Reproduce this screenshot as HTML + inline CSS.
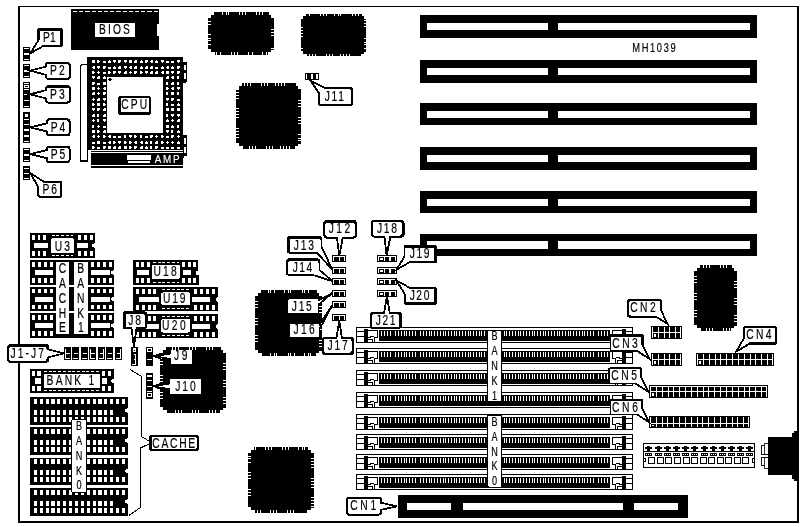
<!DOCTYPE html>
<html lang="en">
<head>
<meta charset="utf-8">
<title>MH1039 motherboard layout</title>
<style>
html,body{margin:0;padding:0;background:#fff;}
body{width:804px;height:527px;overflow:hidden;}
svg{display:block;font-family:"Liberation Sans",sans-serif;filter:grayscale(1);}
</style>
</head>
<body>
<svg width="804" height="527" viewBox="0 0 804 527" shape-rendering="crispEdges">
<rect x="0" y="0" width="804" height="527" fill="#fff"/>
<rect x="18.00" y="6.00" width="781.00" height="516.60" fill="#000" />
<rect x="20.00" y="7.20" width="777.00" height="513.40" fill="#fff" />
<rect x="71.00" y="9.00" width="88.00" height="41.00" fill="#000" />
<line x1="73.00" y1="11.50" x2="157.50" y2="11.50" stroke="#fff" stroke-width="1" stroke-dasharray="4.1 2.1"/>
<rect x="157.00" y="23.50" width="2.20" height="12.80" fill="#fff" />
<rect x="95.00" y="22.80" width="40.00" height="14.20" fill="#fff" />
<text transform="translate(99.06,33.70) scale(0.74,1)" font-size="13.9" fill="#000" stroke="#000" stroke-width="0.18" letter-spacing="2.81" >BIOS</text>
<polygon points="80.3,66.5 82.5,64.2 87.5,64.2 87.5,161 80.3,161" fill="#fff" stroke="#000" stroke-width="1.1"/>
<rect x="87.20" y="56.80" width="96.00" height="93.20" fill="#000" />
<path d="M183,61.5 h2.6 q1.6,0 1.6,2 v17 q0,2 -1.6,2 h-2.6 z" fill="#000"/>
<path d="M183,135 h2.6 q1.6,0 1.6,2 v17 q0,2 -1.6,2 h-2.6 z" fill="#000"/>
<rect x="184.30" y="64.50" width="1.20" height="5.50" fill="#fff" />
<rect x="184.30" y="73.00" width="1.20" height="6.00" fill="#fff" />
<rect x="184.30" y="138.00" width="1.20" height="6.00" fill="#fff" />
<rect x="184.30" y="147.00" width="1.20" height="6.00" fill="#fff" />
<rect x="92.00" y="60.00" width="3.00" height="3.00" fill="#fff" />
<rect x="97.00" y="60.00" width="2.00" height="3.00" fill="#fff" />
<rect x="99.00" y="61.00" width="1.00" height="1.00" fill="#fff" />
<rect x="103.00" y="61.00" width="3.00" height="2.00" fill="#fff" />
<rect x="109.00" y="60.00" width="1.00" height="1.00" fill="#fff" />
<rect x="108.00" y="61.00" width="3.00" height="2.00" fill="#fff" />
<rect x="113.00" y="60.00" width="3.00" height="2.00" fill="#fff" />
<rect x="114.00" y="62.00" width="1.00" height="1.00" fill="#fff" />
<rect x="118.00" y="60.00" width="3.00" height="2.00" fill="#fff" />
<rect x="118.00" y="62.00" width="2.00" height="1.00" fill="#fff" />
<rect x="124.00" y="60.00" width="3.00" height="2.00" fill="#fff" />
<rect x="125.00" y="62.00" width="1.00" height="1.00" fill="#fff" />
<rect x="129.00" y="60.00" width="3.00" height="3.00" fill="#fff" />
<rect x="135.00" y="60.00" width="2.00" height="1.00" fill="#fff" />
<rect x="134.00" y="61.00" width="3.00" height="2.00" fill="#fff" />
<rect x="141.00" y="60.00" width="1.00" height="1.00" fill="#fff" />
<rect x="140.00" y="61.00" width="3.00" height="2.00" fill="#fff" />
<rect x="145.00" y="60.00" width="3.00" height="2.00" fill="#fff" />
<rect x="145.00" y="62.00" width="2.00" height="1.00" fill="#fff" />
<rect x="151.00" y="60.00" width="2.00" height="3.00" fill="#fff" />
<rect x="150.00" y="61.00" width="1.00" height="1.00" fill="#fff" />
<rect x="156.00" y="60.00" width="1.00" height="1.00" fill="#fff" />
<rect x="155.00" y="61.00" width="3.00" height="2.00" fill="#fff" />
<rect x="161.00" y="60.00" width="3.00" height="2.00" fill="#fff" />
<rect x="162.00" y="62.00" width="1.00" height="1.00" fill="#fff" />
<rect x="166.00" y="61.00" width="3.00" height="2.00" fill="#fff" />
<rect x="171.00" y="61.00" width="3.00" height="2.00" fill="#fff" />
<rect x="177.00" y="60.00" width="3.00" height="2.00" fill="#fff" />
<rect x="178.00" y="62.00" width="1.00" height="1.00" fill="#fff" />
<rect x="93.00" y="66.00" width="2.00" height="3.00" fill="#fff" />
<rect x="92.00" y="67.00" width="1.00" height="1.00" fill="#fff" />
<rect x="97.00" y="66.00" width="3.00" height="2.00" fill="#fff" />
<rect x="98.00" y="68.00" width="1.00" height="1.00" fill="#fff" />
<rect x="103.00" y="66.00" width="3.00" height="2.00" fill="#fff" />
<rect x="103.00" y="68.00" width="2.00" height="1.00" fill="#fff" />
<rect x="108.00" y="67.00" width="3.00" height="2.00" fill="#fff" />
<rect x="114.00" y="66.00" width="1.00" height="1.00" fill="#fff" />
<rect x="113.00" y="67.00" width="3.00" height="2.00" fill="#fff" />
<rect x="119.00" y="66.00" width="2.00" height="1.00" fill="#fff" />
<rect x="118.00" y="67.00" width="3.00" height="2.00" fill="#fff" />
<rect x="124.00" y="66.00" width="3.00" height="2.00" fill="#fff" />
<rect x="125.00" y="68.00" width="1.00" height="1.00" fill="#fff" />
<rect x="130.00" y="66.00" width="2.00" height="3.00" fill="#fff" />
<rect x="129.00" y="67.00" width="1.00" height="1.00" fill="#fff" />
<rect x="135.00" y="66.00" width="2.00" height="1.00" fill="#fff" />
<rect x="134.00" y="67.00" width="3.00" height="2.00" fill="#fff" />
<rect x="141.00" y="66.00" width="1.00" height="1.00" fill="#fff" />
<rect x="140.00" y="67.00" width="3.00" height="2.00" fill="#fff" />
<rect x="146.00" y="66.00" width="2.00" height="1.00" fill="#fff" />
<rect x="145.00" y="67.00" width="3.00" height="2.00" fill="#fff" />
<rect x="151.00" y="66.00" width="2.00" height="1.00" fill="#fff" />
<rect x="150.00" y="67.00" width="3.00" height="2.00" fill="#fff" />
<rect x="155.00" y="67.00" width="3.00" height="2.00" fill="#fff" />
<rect x="162.00" y="66.00" width="1.00" height="1.00" fill="#fff" />
<rect x="161.00" y="67.00" width="3.00" height="2.00" fill="#fff" />
<rect x="167.00" y="66.00" width="2.00" height="3.00" fill="#fff" />
<rect x="166.00" y="67.00" width="1.00" height="1.00" fill="#fff" />
<rect x="172.00" y="66.00" width="1.00" height="1.00" fill="#fff" />
<rect x="171.00" y="67.00" width="3.00" height="2.00" fill="#fff" />
<rect x="177.00" y="66.00" width="3.00" height="2.00" fill="#fff" />
<rect x="177.00" y="68.00" width="2.00" height="1.00" fill="#fff" />
<rect x="92.00" y="71.00" width="2.00" height="3.00" fill="#fff" />
<rect x="94.00" y="72.00" width="1.00" height="1.00" fill="#fff" />
<rect x="98.00" y="71.00" width="1.00" height="3.00" fill="#fff" />
<rect x="97.00" y="72.00" width="3.00" height="1.00" fill="#fff" />
<rect x="103.00" y="72.00" width="3.00" height="2.00" fill="#fff" />
<rect x="108.00" y="71.00" width="2.00" height="3.00" fill="#fff" />
<rect x="110.00" y="72.00" width="1.00" height="1.00" fill="#fff" />
<rect x="113.00" y="71.00" width="3.00" height="2.00" fill="#fff" />
<rect x="113.00" y="73.00" width="2.00" height="1.00" fill="#fff" />
<rect x="118.00" y="71.00" width="3.00" height="2.00" fill="#fff" />
<rect x="119.00" y="73.00" width="1.00" height="1.00" fill="#fff" />
<rect x="125.00" y="71.00" width="2.00" height="1.00" fill="#fff" />
<rect x="124.00" y="72.00" width="3.00" height="2.00" fill="#fff" />
<rect x="130.00" y="71.00" width="1.00" height="3.00" fill="#fff" />
<rect x="129.00" y="72.00" width="3.00" height="1.00" fill="#fff" />
<rect x="134.00" y="71.00" width="3.00" height="2.00" fill="#fff" />
<rect x="134.00" y="73.00" width="2.00" height="1.00" fill="#fff" />
<rect x="140.00" y="71.00" width="2.00" height="3.00" fill="#fff" />
<rect x="142.00" y="72.00" width="1.00" height="1.00" fill="#fff" />
<rect x="145.00" y="71.00" width="3.00" height="2.00" fill="#fff" />
<rect x="146.00" y="73.00" width="1.00" height="1.00" fill="#fff" />
<rect x="151.00" y="71.00" width="2.00" height="1.00" fill="#fff" />
<rect x="150.00" y="72.00" width="3.00" height="2.00" fill="#fff" />
<rect x="156.00" y="71.00" width="2.00" height="1.00" fill="#fff" />
<rect x="155.00" y="72.00" width="3.00" height="2.00" fill="#fff" />
<rect x="162.00" y="71.00" width="2.00" height="3.00" fill="#fff" />
<rect x="161.00" y="72.00" width="1.00" height="1.00" fill="#fff" />
<rect x="166.00" y="71.00" width="3.00" height="3.00" fill="#fff" />
<rect x="171.00" y="71.00" width="3.00" height="2.00" fill="#fff" />
<rect x="172.00" y="73.00" width="1.00" height="1.00" fill="#fff" />
<rect x="177.00" y="71.00" width="3.00" height="2.00" fill="#fff" />
<rect x="177.00" y="73.00" width="2.00" height="1.00" fill="#fff" />
<rect x="92.00" y="76.00" width="3.00" height="2.00" fill="#fff" />
<rect x="93.00" y="78.00" width="1.00" height="1.00" fill="#fff" />
<rect x="98.00" y="76.00" width="2.00" height="1.00" fill="#fff" />
<rect x="97.00" y="77.00" width="3.00" height="2.00" fill="#fff" />
<rect x="104.00" y="76.00" width="1.00" height="1.00" fill="#fff" />
<rect x="103.00" y="77.00" width="3.00" height="2.00" fill="#fff" />
<rect x="167.00" y="76.00" width="2.00" height="1.00" fill="#fff" />
<rect x="166.00" y="77.00" width="3.00" height="2.00" fill="#fff" />
<rect x="172.00" y="76.00" width="2.00" height="3.00" fill="#fff" />
<rect x="171.00" y="77.00" width="1.00" height="1.00" fill="#fff" />
<rect x="177.00" y="76.00" width="2.00" height="3.00" fill="#fff" />
<rect x="92.00" y="82.00" width="3.00" height="2.00" fill="#fff" />
<rect x="92.00" y="84.00" width="2.00" height="1.00" fill="#fff" />
<rect x="97.00" y="83.00" width="3.00" height="2.00" fill="#fff" />
<rect x="103.00" y="82.00" width="3.00" height="3.00" fill="#fff" />
<rect x="166.00" y="82.00" width="2.00" height="3.00" fill="#fff" />
<rect x="172.00" y="82.00" width="2.00" height="1.00" fill="#fff" />
<rect x="171.00" y="83.00" width="3.00" height="2.00" fill="#fff" />
<rect x="177.00" y="82.00" width="2.00" height="3.00" fill="#fff" />
<rect x="92.00" y="87.00" width="3.00" height="3.00" fill="#fff" />
<rect x="98.00" y="87.00" width="1.00" height="3.00" fill="#fff" />
<rect x="97.00" y="88.00" width="3.00" height="1.00" fill="#fff" />
<rect x="104.00" y="87.00" width="2.00" height="3.00" fill="#fff" />
<rect x="103.00" y="88.00" width="1.00" height="1.00" fill="#fff" />
<rect x="166.00" y="87.00" width="2.00" height="3.00" fill="#fff" />
<rect x="168.00" y="88.00" width="1.00" height="1.00" fill="#fff" />
<rect x="172.00" y="87.00" width="2.00" height="3.00" fill="#fff" />
<rect x="171.00" y="88.00" width="1.00" height="1.00" fill="#fff" />
<rect x="177.00" y="87.00" width="3.00" height="2.00" fill="#fff" />
<rect x="178.00" y="89.00" width="1.00" height="1.00" fill="#fff" />
<rect x="93.00" y="92.00" width="2.00" height="1.00" fill="#fff" />
<rect x="92.00" y="93.00" width="3.00" height="2.00" fill="#fff" />
<rect x="98.00" y="92.00" width="1.00" height="3.00" fill="#fff" />
<rect x="97.00" y="93.00" width="3.00" height="1.00" fill="#fff" />
<rect x="103.00" y="92.00" width="3.00" height="2.00" fill="#fff" />
<rect x="103.00" y="94.00" width="2.00" height="1.00" fill="#fff" />
<rect x="166.00" y="92.00" width="2.00" height="3.00" fill="#fff" />
<rect x="171.00" y="92.00" width="3.00" height="3.00" fill="#fff" />
<rect x="177.00" y="92.00" width="2.00" height="3.00" fill="#fff" />
<rect x="93.00" y="98.00" width="1.00" height="3.00" fill="#fff" />
<rect x="92.00" y="99.00" width="3.00" height="1.00" fill="#fff" />
<rect x="98.00" y="98.00" width="2.00" height="1.00" fill="#fff" />
<rect x="97.00" y="99.00" width="3.00" height="2.00" fill="#fff" />
<rect x="103.00" y="98.00" width="3.00" height="2.00" fill="#fff" />
<rect x="104.00" y="100.00" width="1.00" height="1.00" fill="#fff" />
<rect x="166.00" y="98.00" width="3.00" height="2.00" fill="#fff" />
<rect x="167.00" y="100.00" width="1.00" height="1.00" fill="#fff" />
<rect x="171.00" y="98.00" width="3.00" height="2.00" fill="#fff" />
<rect x="171.00" y="100.00" width="2.00" height="1.00" fill="#fff" />
<rect x="177.00" y="99.00" width="3.00" height="2.00" fill="#fff" />
<rect x="92.00" y="103.00" width="2.00" height="3.00" fill="#fff" />
<rect x="94.00" y="104.00" width="1.00" height="1.00" fill="#fff" />
<rect x="97.00" y="103.00" width="3.00" height="3.00" fill="#fff" />
<rect x="103.00" y="103.00" width="2.00" height="3.00" fill="#fff" />
<rect x="105.00" y="104.00" width="1.00" height="1.00" fill="#fff" />
<rect x="166.00" y="103.00" width="2.00" height="3.00" fill="#fff" />
<rect x="171.00" y="104.00" width="3.00" height="2.00" fill="#fff" />
<rect x="178.00" y="103.00" width="1.00" height="1.00" fill="#fff" />
<rect x="177.00" y="104.00" width="3.00" height="2.00" fill="#fff" />
<rect x="92.00" y="108.00" width="3.00" height="2.00" fill="#fff" />
<rect x="93.00" y="110.00" width="1.00" height="1.00" fill="#fff" />
<rect x="97.00" y="108.00" width="3.00" height="2.00" fill="#fff" />
<rect x="97.00" y="110.00" width="2.00" height="1.00" fill="#fff" />
<rect x="104.00" y="108.00" width="2.00" height="1.00" fill="#fff" />
<rect x="103.00" y="109.00" width="3.00" height="2.00" fill="#fff" />
<rect x="166.00" y="108.00" width="3.00" height="3.00" fill="#fff" />
<rect x="171.00" y="108.00" width="3.00" height="3.00" fill="#fff" />
<rect x="177.00" y="108.00" width="3.00" height="3.00" fill="#fff" />
<rect x="93.00" y="114.00" width="2.00" height="1.00" fill="#fff" />
<rect x="92.00" y="115.00" width="3.00" height="2.00" fill="#fff" />
<rect x="97.00" y="114.00" width="2.00" height="3.00" fill="#fff" />
<rect x="104.00" y="114.00" width="2.00" height="1.00" fill="#fff" />
<rect x="103.00" y="115.00" width="3.00" height="2.00" fill="#fff" />
<rect x="166.00" y="114.00" width="2.00" height="3.00" fill="#fff" />
<rect x="171.00" y="114.00" width="3.00" height="2.00" fill="#fff" />
<rect x="172.00" y="116.00" width="1.00" height="1.00" fill="#fff" />
<rect x="177.00" y="114.00" width="3.00" height="2.00" fill="#fff" />
<rect x="178.00" y="116.00" width="1.00" height="1.00" fill="#fff" />
<rect x="93.00" y="119.00" width="1.00" height="3.00" fill="#fff" />
<rect x="92.00" y="120.00" width="3.00" height="1.00" fill="#fff" />
<rect x="97.00" y="119.00" width="2.00" height="3.00" fill="#fff" />
<rect x="103.00" y="119.00" width="3.00" height="2.00" fill="#fff" />
<rect x="104.00" y="121.00" width="1.00" height="1.00" fill="#fff" />
<rect x="167.00" y="119.00" width="1.00" height="1.00" fill="#fff" />
<rect x="166.00" y="120.00" width="3.00" height="2.00" fill="#fff" />
<rect x="172.00" y="119.00" width="1.00" height="3.00" fill="#fff" />
<rect x="171.00" y="120.00" width="3.00" height="1.00" fill="#fff" />
<rect x="178.00" y="119.00" width="2.00" height="1.00" fill="#fff" />
<rect x="177.00" y="120.00" width="3.00" height="2.00" fill="#fff" />
<rect x="92.00" y="125.00" width="2.00" height="3.00" fill="#fff" />
<rect x="98.00" y="125.00" width="1.00" height="3.00" fill="#fff" />
<rect x="97.00" y="126.00" width="3.00" height="1.00" fill="#fff" />
<rect x="103.00" y="126.00" width="3.00" height="2.00" fill="#fff" />
<rect x="166.00" y="125.00" width="3.00" height="3.00" fill="#fff" />
<rect x="172.00" y="125.00" width="1.00" height="1.00" fill="#fff" />
<rect x="171.00" y="126.00" width="3.00" height="2.00" fill="#fff" />
<rect x="177.00" y="125.00" width="2.00" height="3.00" fill="#fff" />
<rect x="92.00" y="130.00" width="3.00" height="3.00" fill="#fff" />
<rect x="97.00" y="130.00" width="2.00" height="3.00" fill="#fff" />
<rect x="99.00" y="131.00" width="1.00" height="1.00" fill="#fff" />
<rect x="104.00" y="130.00" width="2.00" height="1.00" fill="#fff" />
<rect x="103.00" y="131.00" width="3.00" height="2.00" fill="#fff" />
<rect x="166.00" y="130.00" width="3.00" height="2.00" fill="#fff" />
<rect x="167.00" y="132.00" width="1.00" height="1.00" fill="#fff" />
<rect x="171.00" y="130.00" width="2.00" height="3.00" fill="#fff" />
<rect x="178.00" y="130.00" width="1.00" height="1.00" fill="#fff" />
<rect x="177.00" y="131.00" width="3.00" height="2.00" fill="#fff" />
<rect x="93.00" y="135.00" width="2.00" height="3.00" fill="#fff" />
<rect x="92.00" y="136.00" width="1.00" height="1.00" fill="#fff" />
<rect x="98.00" y="135.00" width="1.00" height="3.00" fill="#fff" />
<rect x="97.00" y="136.00" width="3.00" height="1.00" fill="#fff" />
<rect x="103.00" y="135.00" width="2.00" height="3.00" fill="#fff" />
<rect x="105.00" y="136.00" width="1.00" height="1.00" fill="#fff" />
<rect x="109.00" y="135.00" width="2.00" height="3.00" fill="#fff" />
<rect x="108.00" y="136.00" width="1.00" height="1.00" fill="#fff" />
<rect x="113.00" y="136.00" width="3.00" height="2.00" fill="#fff" />
<rect x="118.00" y="136.00" width="3.00" height="2.00" fill="#fff" />
<rect x="124.00" y="135.00" width="2.00" height="3.00" fill="#fff" />
<rect x="129.00" y="135.00" width="3.00" height="2.00" fill="#fff" />
<rect x="130.00" y="137.00" width="1.00" height="1.00" fill="#fff" />
<rect x="134.00" y="135.00" width="2.00" height="3.00" fill="#fff" />
<rect x="136.00" y="136.00" width="1.00" height="1.00" fill="#fff" />
<rect x="140.00" y="135.00" width="2.00" height="3.00" fill="#fff" />
<rect x="145.00" y="136.00" width="3.00" height="2.00" fill="#fff" />
<rect x="150.00" y="135.00" width="3.00" height="2.00" fill="#fff" />
<rect x="150.00" y="137.00" width="2.00" height="1.00" fill="#fff" />
<rect x="156.00" y="135.00" width="1.00" height="3.00" fill="#fff" />
<rect x="155.00" y="136.00" width="3.00" height="1.00" fill="#fff" />
<rect x="161.00" y="135.00" width="2.00" height="3.00" fill="#fff" />
<rect x="163.00" y="136.00" width="1.00" height="1.00" fill="#fff" />
<rect x="166.00" y="136.00" width="3.00" height="2.00" fill="#fff" />
<rect x="171.00" y="135.00" width="3.00" height="2.00" fill="#fff" />
<rect x="171.00" y="137.00" width="2.00" height="1.00" fill="#fff" />
<rect x="178.00" y="135.00" width="1.00" height="3.00" fill="#fff" />
<rect x="177.00" y="136.00" width="3.00" height="1.00" fill="#fff" />
<rect x="92.00" y="142.00" width="3.00" height="2.00" fill="#fff" />
<rect x="97.00" y="141.00" width="3.00" height="3.00" fill="#fff" />
<rect x="103.00" y="142.00" width="3.00" height="2.00" fill="#fff" />
<rect x="109.00" y="141.00" width="2.00" height="3.00" fill="#fff" />
<rect x="108.00" y="142.00" width="1.00" height="1.00" fill="#fff" />
<rect x="113.00" y="141.00" width="2.00" height="3.00" fill="#fff" />
<rect x="115.00" y="142.00" width="1.00" height="1.00" fill="#fff" />
<rect x="118.00" y="141.00" width="3.00" height="2.00" fill="#fff" />
<rect x="119.00" y="143.00" width="1.00" height="1.00" fill="#fff" />
<rect x="124.00" y="141.00" width="2.00" height="3.00" fill="#fff" />
<rect x="126.00" y="142.00" width="1.00" height="1.00" fill="#fff" />
<rect x="129.00" y="141.00" width="2.00" height="3.00" fill="#fff" />
<rect x="131.00" y="142.00" width="1.00" height="1.00" fill="#fff" />
<rect x="135.00" y="141.00" width="2.00" height="3.00" fill="#fff" />
<rect x="134.00" y="142.00" width="1.00" height="1.00" fill="#fff" />
<rect x="141.00" y="141.00" width="2.00" height="3.00" fill="#fff" />
<rect x="140.00" y="142.00" width="1.00" height="1.00" fill="#fff" />
<rect x="146.00" y="141.00" width="1.00" height="1.00" fill="#fff" />
<rect x="145.00" y="142.00" width="3.00" height="2.00" fill="#fff" />
<rect x="150.00" y="141.00" width="2.00" height="3.00" fill="#fff" />
<rect x="156.00" y="141.00" width="2.00" height="1.00" fill="#fff" />
<rect x="155.00" y="142.00" width="3.00" height="2.00" fill="#fff" />
<rect x="161.00" y="141.00" width="2.00" height="3.00" fill="#fff" />
<rect x="163.00" y="142.00" width="1.00" height="1.00" fill="#fff" />
<rect x="167.00" y="141.00" width="1.00" height="3.00" fill="#fff" />
<rect x="166.00" y="142.00" width="3.00" height="1.00" fill="#fff" />
<rect x="172.00" y="141.00" width="1.00" height="3.00" fill="#fff" />
<rect x="171.00" y="142.00" width="3.00" height="1.00" fill="#fff" />
<rect x="178.00" y="141.00" width="1.00" height="1.00" fill="#fff" />
<rect x="177.00" y="142.00" width="3.00" height="2.00" fill="#fff" />
<rect x="92.00" y="146.00" width="2.00" height="3.00" fill="#fff" />
<rect x="94.00" y="147.00" width="1.00" height="1.00" fill="#fff" />
<rect x="97.00" y="147.00" width="3.00" height="2.00" fill="#fff" />
<rect x="103.00" y="146.00" width="3.00" height="2.00" fill="#fff" />
<rect x="103.00" y="148.00" width="2.00" height="1.00" fill="#fff" />
<rect x="108.00" y="146.00" width="3.00" height="3.00" fill="#fff" />
<rect x="114.00" y="146.00" width="2.00" height="1.00" fill="#fff" />
<rect x="113.00" y="147.00" width="3.00" height="2.00" fill="#fff" />
<rect x="119.00" y="146.00" width="2.00" height="1.00" fill="#fff" />
<rect x="118.00" y="147.00" width="3.00" height="2.00" fill="#fff" />
<rect x="124.00" y="146.00" width="3.00" height="3.00" fill="#fff" />
<rect x="129.00" y="146.00" width="2.00" height="3.00" fill="#fff" />
<rect x="131.00" y="147.00" width="1.00" height="1.00" fill="#fff" />
<rect x="134.00" y="146.00" width="3.00" height="2.00" fill="#fff" />
<rect x="134.00" y="148.00" width="2.00" height="1.00" fill="#fff" />
<rect x="141.00" y="146.00" width="2.00" height="1.00" fill="#fff" />
<rect x="140.00" y="147.00" width="3.00" height="2.00" fill="#fff" />
<rect x="146.00" y="146.00" width="1.00" height="1.00" fill="#fff" />
<rect x="145.00" y="147.00" width="3.00" height="2.00" fill="#fff" />
<rect x="150.00" y="146.00" width="2.00" height="3.00" fill="#fff" />
<rect x="155.00" y="146.00" width="3.00" height="2.00" fill="#fff" />
<rect x="155.00" y="148.00" width="2.00" height="1.00" fill="#fff" />
<rect x="161.00" y="147.00" width="3.00" height="2.00" fill="#fff" />
<rect x="166.00" y="147.00" width="3.00" height="2.00" fill="#fff" />
<rect x="171.00" y="147.00" width="3.00" height="2.00" fill="#fff" />
<rect x="177.00" y="147.00" width="3.00" height="2.00" fill="#fff" />
<rect x="107.20" y="77.00" width="55.90" height="56.20" fill="#fff" />
<circle cx="110" cy="79.3" r="1.6" fill="#000"/>
<rect x="118.00" y="95.80" width="33.00" height="19.10" rx="3.0" ry="3.0" fill="#000"/>
<rect x="121.00" y="97.80" width="28.00" height="14.10" rx="1.4" ry="1.4" fill="#fff"/>
<text transform="translate(121.13,109.00) scale(0.74,1)" font-size="13.9" fill="#000" stroke="#000" stroke-width="0.18" letter-spacing="2.91" >CPU</text>
<rect x="90.80" y="149.30" width="92.20" height="16.10" fill="#000" />
<rect x="90.80" y="150.00" width="92.20" height="1.00" fill="#fff" />
<rect x="90.80" y="152.00" width="92.20" height="1.00" fill="#fff" />
<rect x="127.10" y="155.10" width="23.80" height="4.70" fill="#fff" />
<rect x="128.00" y="161.00" width="22.00" height="1.80" fill="#fff" />
<text transform="translate(154.78,162.80) scale(0.92,1)" font-size="10.75" fill="#fff" stroke="#fff" stroke-width="0.18" letter-spacing="1.91" >AMP</text>
<rect x="90.80" y="166.40" width="92.20" height="1.30" fill="#000" />
<rect x="183.00" y="150.00" width="1.40" height="8.00" fill="#000" />
<rect x="211.00" y="15.00" width="60.00" height="37.00" fill="#000" />
<rect x="214.00" y="12.00" width="55.00" height="3.00" fill="#000" />
<rect x="215.00" y="52.00" width="53.00" height="3.00" fill="#000" />
<rect x="208.00" y="18.00" width="3.00" height="31.00" fill="#000" />
<rect x="271.00" y="18.00" width="3.00" height="32.00" fill="#000" />
<rect x="222.00" y="12.00" width="1.00" height="3.00" fill="#fff" />
<rect x="226.00" y="12.00" width="1.00" height="3.00" fill="#fff" />
<rect x="228.00" y="12.00" width="1.00" height="3.00" fill="#fff" />
<rect x="239.00" y="12.00" width="1.00" height="3.00" fill="#fff" />
<rect x="242.00" y="12.00" width="1.00" height="3.00" fill="#fff" />
<rect x="245.00" y="12.00" width="1.00" height="3.00" fill="#fff" />
<rect x="256.00" y="12.00" width="1.00" height="3.00" fill="#fff" />
<rect x="259.00" y="12.00" width="1.00" height="3.00" fill="#fff" />
<rect x="262.00" y="12.00" width="1.00" height="3.00" fill="#fff" />
<rect x="216.00" y="52.00" width="1.00" height="3.00" fill="#fff" />
<rect x="220.00" y="52.00" width="1.00" height="3.00" fill="#fff" />
<rect x="231.00" y="52.00" width="1.00" height="3.00" fill="#fff" />
<rect x="234.00" y="52.00" width="1.00" height="3.00" fill="#fff" />
<rect x="237.00" y="52.00" width="1.00" height="3.00" fill="#fff" />
<rect x="248.00" y="52.00" width="1.00" height="3.00" fill="#fff" />
<rect x="252.00" y="52.00" width="1.00" height="3.00" fill="#fff" />
<rect x="262.00" y="52.00" width="1.00" height="3.00" fill="#fff" />
<rect x="266.00" y="52.00" width="1.00" height="3.00" fill="#fff" />
<rect x="208.00" y="21.00" width="3.00" height="1.00" fill="#fff" />
<rect x="208.00" y="24.00" width="3.00" height="1.00" fill="#fff" />
<rect x="208.00" y="34.00" width="3.00" height="1.00" fill="#fff" />
<rect x="208.00" y="38.00" width="3.00" height="1.00" fill="#fff" />
<rect x="208.00" y="40.00" width="3.00" height="1.00" fill="#fff" />
<rect x="208.00" y="44.00" width="3.00" height="1.00" fill="#fff" />
<rect x="271.00" y="29.00" width="3.00" height="1.00" fill="#fff" />
<rect x="271.00" y="32.00" width="3.00" height="1.00" fill="#fff" />
<rect x="271.00" y="35.00" width="3.00" height="1.00" fill="#fff" />
<rect x="271.00" y="48.00" width="3.00" height="1.00" fill="#fff" />
<rect x="303.00" y="16.00" width="61.00" height="38.00" fill="#000" />
<rect x="306.00" y="14.00" width="56.00" height="2.00" fill="#000" />
<rect x="307.00" y="54.00" width="54.00" height="2.00" fill="#000" />
<rect x="301.00" y="19.00" width="2.00" height="32.00" fill="#000" />
<rect x="364.00" y="19.00" width="2.00" height="33.00" fill="#000" />
<rect x="309.00" y="14.00" width="1.00" height="2.00" fill="#fff" />
<rect x="320.00" y="14.00" width="1.00" height="2.00" fill="#fff" />
<rect x="323.00" y="14.00" width="1.00" height="2.00" fill="#fff" />
<rect x="326.00" y="14.00" width="1.00" height="2.00" fill="#fff" />
<rect x="334.00" y="14.00" width="1.00" height="2.00" fill="#fff" />
<rect x="338.00" y="14.00" width="1.00" height="2.00" fill="#fff" />
<rect x="340.00" y="14.00" width="1.00" height="2.00" fill="#fff" />
<rect x="352.00" y="14.00" width="1.00" height="2.00" fill="#fff" />
<rect x="355.00" y="14.00" width="1.00" height="2.00" fill="#fff" />
<rect x="358.00" y="14.00" width="1.00" height="2.00" fill="#fff" />
<rect x="309.00" y="54.00" width="1.00" height="2.00" fill="#fff" />
<rect x="312.00" y="54.00" width="1.00" height="2.00" fill="#fff" />
<rect x="315.00" y="54.00" width="1.00" height="2.00" fill="#fff" />
<rect x="326.00" y="54.00" width="1.00" height="2.00" fill="#fff" />
<rect x="329.00" y="54.00" width="1.00" height="2.00" fill="#fff" />
<rect x="332.00" y="54.00" width="1.00" height="2.00" fill="#fff" />
<rect x="340.00" y="54.00" width="1.00" height="2.00" fill="#fff" />
<rect x="343.00" y="54.00" width="1.00" height="2.00" fill="#fff" />
<rect x="346.00" y="54.00" width="1.00" height="2.00" fill="#fff" />
<rect x="349.00" y="54.00" width="1.00" height="2.00" fill="#fff" />
<rect x="301.00" y="27.00" width="2.00" height="1.00" fill="#fff" />
<rect x="301.00" y="30.00" width="2.00" height="1.00" fill="#fff" />
<rect x="301.00" y="33.00" width="2.00" height="1.00" fill="#fff" />
<rect x="301.00" y="36.00" width="2.00" height="1.00" fill="#fff" />
<rect x="301.00" y="48.00" width="2.00" height="1.00" fill="#fff" />
<rect x="364.00" y="20.00" width="2.00" height="1.00" fill="#fff" />
<rect x="364.00" y="23.00" width="2.00" height="1.00" fill="#fff" />
<rect x="364.00" y="26.00" width="2.00" height="1.00" fill="#fff" />
<rect x="364.00" y="38.00" width="2.00" height="1.00" fill="#fff" />
<rect x="364.00" y="42.00" width="2.00" height="1.00" fill="#fff" />
<rect x="364.00" y="44.00" width="2.00" height="1.00" fill="#fff" />
<rect x="364.00" y="48.00" width="2.00" height="1.00" fill="#fff" />
<rect x="239.00" y="86.00" width="59.00" height="60.00" fill="#000" />
<rect x="242.00" y="83.00" width="54.00" height="3.00" fill="#000" />
<rect x="243.00" y="146.00" width="52.00" height="3.00" fill="#000" />
<rect x="236.00" y="89.00" width="3.00" height="54.00" fill="#000" />
<rect x="298.00" y="89.00" width="3.00" height="55.00" fill="#000" />
<rect x="244.00" y="83.00" width="1.00" height="3.00" fill="#fff" />
<rect x="247.00" y="83.00" width="1.00" height="3.00" fill="#fff" />
<rect x="250.00" y="83.00" width="1.00" height="3.00" fill="#fff" />
<rect x="261.00" y="83.00" width="1.00" height="3.00" fill="#fff" />
<rect x="264.00" y="83.00" width="1.00" height="3.00" fill="#fff" />
<rect x="267.00" y="83.00" width="1.00" height="3.00" fill="#fff" />
<rect x="275.00" y="83.00" width="1.00" height="3.00" fill="#fff" />
<rect x="278.00" y="83.00" width="1.00" height="3.00" fill="#fff" />
<rect x="281.00" y="83.00" width="1.00" height="3.00" fill="#fff" />
<rect x="284.00" y="83.00" width="1.00" height="3.00" fill="#fff" />
<rect x="249.00" y="146.00" width="1.00" height="3.00" fill="#fff" />
<rect x="252.00" y="146.00" width="1.00" height="3.00" fill="#fff" />
<rect x="255.00" y="146.00" width="1.00" height="3.00" fill="#fff" />
<rect x="266.00" y="146.00" width="1.00" height="3.00" fill="#fff" />
<rect x="269.00" y="146.00" width="1.00" height="3.00" fill="#fff" />
<rect x="272.00" y="146.00" width="1.00" height="3.00" fill="#fff" />
<rect x="280.00" y="146.00" width="1.00" height="3.00" fill="#fff" />
<rect x="283.00" y="146.00" width="1.00" height="3.00" fill="#fff" />
<rect x="286.00" y="146.00" width="1.00" height="3.00" fill="#fff" />
<rect x="289.00" y="146.00" width="1.00" height="3.00" fill="#fff" />
<rect x="236.00" y="89.00" width="3.00" height="1.00" fill="#fff" />
<rect x="236.00" y="92.00" width="3.00" height="1.00" fill="#fff" />
<rect x="236.00" y="95.00" width="3.00" height="1.00" fill="#fff" />
<rect x="236.00" y="98.00" width="3.00" height="1.00" fill="#fff" />
<rect x="236.00" y="108.00" width="3.00" height="1.00" fill="#fff" />
<rect x="236.00" y="111.00" width="3.00" height="1.00" fill="#fff" />
<rect x="236.00" y="114.00" width="3.00" height="1.00" fill="#fff" />
<rect x="236.00" y="117.00" width="3.00" height="1.00" fill="#fff" />
<rect x="236.00" y="128.00" width="3.00" height="1.00" fill="#fff" />
<rect x="236.00" y="131.00" width="3.00" height="1.00" fill="#fff" />
<rect x="236.00" y="134.00" width="3.00" height="1.00" fill="#fff" />
<rect x="236.00" y="137.00" width="3.00" height="1.00" fill="#fff" />
<rect x="298.00" y="100.00" width="3.00" height="1.00" fill="#fff" />
<rect x="298.00" y="103.00" width="3.00" height="1.00" fill="#fff" />
<rect x="298.00" y="106.00" width="3.00" height="1.00" fill="#fff" />
<rect x="298.00" y="117.00" width="3.00" height="1.00" fill="#fff" />
<rect x="298.00" y="120.00" width="3.00" height="1.00" fill="#fff" />
<rect x="298.00" y="123.00" width="3.00" height="1.00" fill="#fff" />
<rect x="298.00" y="134.00" width="3.00" height="1.00" fill="#fff" />
<rect x="298.00" y="138.00" width="3.00" height="1.00" fill="#fff" />
<rect x="298.00" y="140.00" width="3.00" height="1.00" fill="#fff" />
<rect x="258.00" y="293.00" width="61.00" height="60.00" fill="#000" />
<rect x="261.00" y="290.00" width="56.00" height="3.00" fill="#000" />
<rect x="262.00" y="353.00" width="54.00" height="3.00" fill="#000" />
<rect x="255.00" y="296.00" width="3.00" height="54.00" fill="#000" />
<rect x="319.00" y="296.00" width="3.00" height="55.00" fill="#000" />
<rect x="268.00" y="290.00" width="1.00" height="3.00" fill="#fff" />
<rect x="270.00" y="290.00" width="1.00" height="3.00" fill="#fff" />
<rect x="274.00" y="290.00" width="1.00" height="3.00" fill="#fff" />
<rect x="284.00" y="290.00" width="1.00" height="3.00" fill="#fff" />
<rect x="288.00" y="290.00" width="1.00" height="3.00" fill="#fff" />
<rect x="290.00" y="290.00" width="1.00" height="3.00" fill="#fff" />
<rect x="302.00" y="290.00" width="1.00" height="3.00" fill="#fff" />
<rect x="304.00" y="290.00" width="1.00" height="3.00" fill="#fff" />
<rect x="308.00" y="290.00" width="1.00" height="3.00" fill="#fff" />
<rect x="270.00" y="353.00" width="1.00" height="3.00" fill="#fff" />
<rect x="274.00" y="353.00" width="1.00" height="3.00" fill="#fff" />
<rect x="276.00" y="353.00" width="1.00" height="3.00" fill="#fff" />
<rect x="288.00" y="353.00" width="1.00" height="3.00" fill="#fff" />
<rect x="290.00" y="353.00" width="1.00" height="3.00" fill="#fff" />
<rect x="294.00" y="353.00" width="1.00" height="3.00" fill="#fff" />
<rect x="304.00" y="353.00" width="1.00" height="3.00" fill="#fff" />
<rect x="308.00" y="353.00" width="1.00" height="3.00" fill="#fff" />
<rect x="310.00" y="353.00" width="1.00" height="3.00" fill="#fff" />
<rect x="255.00" y="301.00" width="3.00" height="1.00" fill="#fff" />
<rect x="255.00" y="304.00" width="3.00" height="1.00" fill="#fff" />
<rect x="255.00" y="307.00" width="3.00" height="1.00" fill="#fff" />
<rect x="255.00" y="318.00" width="3.00" height="1.00" fill="#fff" />
<rect x="255.00" y="321.00" width="3.00" height="1.00" fill="#fff" />
<rect x="255.00" y="324.00" width="3.00" height="1.00" fill="#fff" />
<rect x="255.00" y="335.00" width="3.00" height="1.00" fill="#fff" />
<rect x="255.00" y="338.00" width="3.00" height="1.00" fill="#fff" />
<rect x="255.00" y="341.00" width="3.00" height="1.00" fill="#fff" />
<rect x="319.00" y="306.00" width="3.00" height="1.00" fill="#fff" />
<rect x="319.00" y="309.00" width="3.00" height="1.00" fill="#fff" />
<rect x="319.00" y="312.00" width="3.00" height="1.00" fill="#fff" />
<rect x="319.00" y="323.00" width="3.00" height="1.00" fill="#fff" />
<rect x="319.00" y="326.00" width="3.00" height="1.00" fill="#fff" />
<rect x="319.00" y="329.00" width="3.00" height="1.00" fill="#fff" />
<rect x="319.00" y="340.00" width="3.00" height="1.00" fill="#fff" />
<rect x="319.00" y="343.00" width="3.00" height="1.00" fill="#fff" />
<rect x="319.00" y="346.00" width="3.00" height="1.00" fill="#fff" />
<rect x="163.00" y="350.00" width="60.00" height="60.00" fill="#000" />
<rect x="166.00" y="347.00" width="55.00" height="3.00" fill="#000" />
<rect x="167.00" y="410.00" width="53.00" height="3.00" fill="#000" />
<rect x="160.00" y="353.00" width="3.00" height="54.00" fill="#000" />
<rect x="223.00" y="353.00" width="3.00" height="55.00" fill="#000" />
<rect x="172.00" y="347.00" width="1.00" height="3.00" fill="#fff" />
<rect x="175.00" y="347.00" width="1.00" height="3.00" fill="#fff" />
<rect x="178.00" y="347.00" width="1.00" height="3.00" fill="#fff" />
<rect x="189.00" y="347.00" width="1.00" height="3.00" fill="#fff" />
<rect x="192.00" y="347.00" width="1.00" height="3.00" fill="#fff" />
<rect x="195.00" y="347.00" width="1.00" height="3.00" fill="#fff" />
<rect x="206.00" y="347.00" width="1.00" height="3.00" fill="#fff" />
<rect x="209.00" y="347.00" width="1.00" height="3.00" fill="#fff" />
<rect x="212.00" y="347.00" width="1.00" height="3.00" fill="#fff" />
<rect x="175.00" y="410.00" width="1.00" height="3.00" fill="#fff" />
<rect x="178.00" y="410.00" width="1.00" height="3.00" fill="#fff" />
<rect x="181.00" y="410.00" width="1.00" height="3.00" fill="#fff" />
<rect x="192.00" y="410.00" width="1.00" height="3.00" fill="#fff" />
<rect x="195.00" y="410.00" width="1.00" height="3.00" fill="#fff" />
<rect x="198.00" y="410.00" width="1.00" height="3.00" fill="#fff" />
<rect x="209.00" y="410.00" width="1.00" height="3.00" fill="#fff" />
<rect x="212.00" y="410.00" width="1.00" height="3.00" fill="#fff" />
<rect x="215.00" y="410.00" width="1.00" height="3.00" fill="#fff" />
<rect x="160.00" y="358.00" width="3.00" height="1.00" fill="#fff" />
<rect x="160.00" y="361.00" width="3.00" height="1.00" fill="#fff" />
<rect x="160.00" y="364.00" width="3.00" height="1.00" fill="#fff" />
<rect x="160.00" y="375.00" width="3.00" height="1.00" fill="#fff" />
<rect x="160.00" y="378.00" width="3.00" height="1.00" fill="#fff" />
<rect x="160.00" y="381.00" width="3.00" height="1.00" fill="#fff" />
<rect x="160.00" y="392.00" width="3.00" height="1.00" fill="#fff" />
<rect x="160.00" y="395.00" width="3.00" height="1.00" fill="#fff" />
<rect x="160.00" y="398.00" width="3.00" height="1.00" fill="#fff" />
<rect x="223.00" y="363.00" width="3.00" height="1.00" fill="#fff" />
<rect x="223.00" y="366.00" width="3.00" height="1.00" fill="#fff" />
<rect x="223.00" y="369.00" width="3.00" height="1.00" fill="#fff" />
<rect x="223.00" y="380.00" width="3.00" height="1.00" fill="#fff" />
<rect x="223.00" y="383.00" width="3.00" height="1.00" fill="#fff" />
<rect x="223.00" y="386.00" width="3.00" height="1.00" fill="#fff" />
<rect x="223.00" y="397.00" width="3.00" height="1.00" fill="#fff" />
<rect x="223.00" y="400.00" width="3.00" height="1.00" fill="#fff" />
<rect x="223.00" y="403.00" width="3.00" height="1.00" fill="#fff" />
<rect x="251.00" y="450.00" width="60.00" height="60.00" fill="#000" />
<rect x="254.00" y="447.00" width="55.00" height="3.00" fill="#000" />
<rect x="255.00" y="510.00" width="53.00" height="3.00" fill="#000" />
<rect x="248.00" y="453.00" width="3.00" height="54.00" fill="#000" />
<rect x="311.00" y="453.00" width="3.00" height="55.00" fill="#000" />
<rect x="252.00" y="447.00" width="1.00" height="3.00" fill="#fff" />
<rect x="255.00" y="447.00" width="1.00" height="3.00" fill="#fff" />
<rect x="265.00" y="447.00" width="1.00" height="3.00" fill="#fff" />
<rect x="268.00" y="447.00" width="1.00" height="3.00" fill="#fff" />
<rect x="271.00" y="447.00" width="1.00" height="3.00" fill="#fff" />
<rect x="282.00" y="447.00" width="1.00" height="3.00" fill="#fff" />
<rect x="285.00" y="447.00" width="1.00" height="3.00" fill="#fff" />
<rect x="288.00" y="447.00" width="1.00" height="3.00" fill="#fff" />
<rect x="298.00" y="447.00" width="1.00" height="3.00" fill="#fff" />
<rect x="302.00" y="447.00" width="1.00" height="3.00" fill="#fff" />
<rect x="304.00" y="447.00" width="1.00" height="3.00" fill="#fff" />
<rect x="308.00" y="447.00" width="1.00" height="3.00" fill="#fff" />
<rect x="254.00" y="510.00" width="1.00" height="3.00" fill="#fff" />
<rect x="257.00" y="510.00" width="1.00" height="3.00" fill="#fff" />
<rect x="260.00" y="510.00" width="1.00" height="3.00" fill="#fff" />
<rect x="270.00" y="510.00" width="1.00" height="3.00" fill="#fff" />
<rect x="273.00" y="510.00" width="1.00" height="3.00" fill="#fff" />
<rect x="276.00" y="510.00" width="1.00" height="3.00" fill="#fff" />
<rect x="287.00" y="510.00" width="1.00" height="3.00" fill="#fff" />
<rect x="290.00" y="510.00" width="1.00" height="3.00" fill="#fff" />
<rect x="293.00" y="510.00" width="1.00" height="3.00" fill="#fff" />
<rect x="307.00" y="510.00" width="1.00" height="3.00" fill="#fff" />
<rect x="310.00" y="510.00" width="1.00" height="3.00" fill="#fff" />
<rect x="248.00" y="452.00" width="3.00" height="1.00" fill="#fff" />
<rect x="248.00" y="456.00" width="3.00" height="1.00" fill="#fff" />
<rect x="248.00" y="458.00" width="3.00" height="1.00" fill="#fff" />
<rect x="248.00" y="462.00" width="3.00" height="1.00" fill="#fff" />
<rect x="248.00" y="472.00" width="3.00" height="1.00" fill="#fff" />
<rect x="248.00" y="475.00" width="3.00" height="1.00" fill="#fff" />
<rect x="248.00" y="478.00" width="3.00" height="1.00" fill="#fff" />
<rect x="248.00" y="489.00" width="3.00" height="1.00" fill="#fff" />
<rect x="248.00" y="492.00" width="3.00" height="1.00" fill="#fff" />
<rect x="248.00" y="495.00" width="3.00" height="1.00" fill="#fff" />
<rect x="311.00" y="458.00" width="3.00" height="1.00" fill="#fff" />
<rect x="311.00" y="461.00" width="3.00" height="1.00" fill="#fff" />
<rect x="311.00" y="464.00" width="3.00" height="1.00" fill="#fff" />
<rect x="311.00" y="467.00" width="3.00" height="1.00" fill="#fff" />
<rect x="311.00" y="478.00" width="3.00" height="1.00" fill="#fff" />
<rect x="311.00" y="481.00" width="3.00" height="1.00" fill="#fff" />
<rect x="311.00" y="484.00" width="3.00" height="1.00" fill="#fff" />
<rect x="311.00" y="487.00" width="3.00" height="1.00" fill="#fff" />
<rect x="311.00" y="497.00" width="3.00" height="1.00" fill="#fff" />
<rect x="311.00" y="500.00" width="3.00" height="1.00" fill="#fff" />
<rect x="311.00" y="503.00" width="3.00" height="1.00" fill="#fff" />
<rect x="311.00" y="506.00" width="3.00" height="1.00" fill="#fff" />
<rect x="697.00" y="268.00" width="37.00" height="60.00" fill="#000" />
<rect x="700.00" y="265.00" width="32.00" height="3.00" fill="#000" />
<rect x="701.00" y="328.00" width="30.00" height="3.00" fill="#000" />
<rect x="694.00" y="271.00" width="3.00" height="54.00" fill="#000" />
<rect x="734.00" y="271.00" width="3.00" height="55.00" fill="#000" />
<rect x="703.00" y="265.00" width="1.00" height="3.00" fill="#fff" />
<rect x="706.00" y="265.00" width="1.00" height="3.00" fill="#fff" />
<rect x="709.00" y="265.00" width="1.00" height="3.00" fill="#fff" />
<rect x="720.00" y="265.00" width="1.00" height="3.00" fill="#fff" />
<rect x="723.00" y="265.00" width="1.00" height="3.00" fill="#fff" />
<rect x="726.00" y="265.00" width="1.00" height="3.00" fill="#fff" />
<rect x="706.00" y="328.00" width="1.00" height="3.00" fill="#fff" />
<rect x="709.00" y="328.00" width="1.00" height="3.00" fill="#fff" />
<rect x="712.00" y="328.00" width="1.00" height="3.00" fill="#fff" />
<rect x="723.00" y="328.00" width="1.00" height="3.00" fill="#fff" />
<rect x="726.00" y="328.00" width="1.00" height="3.00" fill="#fff" />
<rect x="729.00" y="328.00" width="1.00" height="3.00" fill="#fff" />
<rect x="694.00" y="276.00" width="3.00" height="1.00" fill="#fff" />
<rect x="694.00" y="279.00" width="3.00" height="1.00" fill="#fff" />
<rect x="694.00" y="282.00" width="3.00" height="1.00" fill="#fff" />
<rect x="694.00" y="293.00" width="3.00" height="1.00" fill="#fff" />
<rect x="694.00" y="296.00" width="3.00" height="1.00" fill="#fff" />
<rect x="694.00" y="299.00" width="3.00" height="1.00" fill="#fff" />
<rect x="694.00" y="310.00" width="3.00" height="1.00" fill="#fff" />
<rect x="694.00" y="313.00" width="3.00" height="1.00" fill="#fff" />
<rect x="694.00" y="316.00" width="3.00" height="1.00" fill="#fff" />
<rect x="734.00" y="281.00" width="3.00" height="1.00" fill="#fff" />
<rect x="734.00" y="284.00" width="3.00" height="1.00" fill="#fff" />
<rect x="734.00" y="287.00" width="3.00" height="1.00" fill="#fff" />
<rect x="734.00" y="298.00" width="3.00" height="1.00" fill="#fff" />
<rect x="734.00" y="301.00" width="3.00" height="1.00" fill="#fff" />
<rect x="734.00" y="304.00" width="3.00" height="1.00" fill="#fff" />
<rect x="734.00" y="315.00" width="3.00" height="1.00" fill="#fff" />
<rect x="734.00" y="318.00" width="3.00" height="1.00" fill="#fff" />
<rect x="734.00" y="321.00" width="3.00" height="1.00" fill="#fff" />
<rect x="420.00" y="15.00" width="337.00" height="22.50" fill="#000" />
<rect x="426.80" y="23.00" width="121.20" height="7.00" fill="#fff" />
<rect x="557.50" y="23.00" width="192.30" height="7.00" fill="#fff" />
<rect x="420.00" y="60.00" width="337.00" height="22.50" fill="#000" />
<rect x="426.80" y="67.50" width="121.20" height="7.50" fill="#fff" />
<rect x="557.50" y="67.50" width="192.30" height="7.50" fill="#fff" />
<rect x="420.00" y="102.50" width="337.00" height="22.70" fill="#000" />
<rect x="426.80" y="110.50" width="121.20" height="7.50" fill="#fff" />
<rect x="557.50" y="110.50" width="192.30" height="7.50" fill="#fff" />
<rect x="420.00" y="147.00" width="337.00" height="22.50" fill="#000" />
<rect x="426.80" y="154.50" width="121.20" height="7.50" fill="#fff" />
<rect x="557.50" y="154.50" width="192.30" height="7.50" fill="#fff" />
<rect x="420.00" y="191.20" width="337.00" height="22.20" fill="#000" />
<rect x="426.80" y="198.80" width="121.20" height="7.00" fill="#fff" />
<rect x="557.50" y="198.80" width="192.30" height="7.00" fill="#fff" />
<rect x="420.00" y="233.80" width="337.00" height="22.50" fill="#000" />
<rect x="426.80" y="241.30" width="121.20" height="7.30" fill="#fff" />
<rect x="557.50" y="241.30" width="192.30" height="7.30" fill="#fff" />
<text transform="translate(632.24,51.70) scale(0.74,1)" font-size="12.6" fill="#000" stroke="#000" stroke-width="0.18" letter-spacing="2.21" >MH1039</text>
<rect x="398.00" y="494.50" width="290.00" height="23.00" fill="#000" />
<rect x="406.80" y="502.50" width="44.00" height="7.00" fill="#fff" />
<rect x="463.00" y="502.50" width="159.50" height="7.00" fill="#fff" />
<rect x="633.80" y="502.50" width="44.20" height="7.00" fill="#fff" />
<rect x="346.10" y="496.90" width="35.70" height="18.70" rx="3.0" ry="3.0" fill="#000"/>
<polygon points="378.39,502.10 396.70,506.40 378.38,510.33" fill="#fff" stroke="#000" stroke-width="1.80" stroke-linejoin="miter"/>
<rect x="348.10" y="498.90" width="31.70" height="14.70" rx="1.4" ry="1.4" fill="#fff"/>
<polygon points="379.29,503.24 392.60,506.36 379.28,509.22" fill="#fff"/>
<text transform="translate(350.23,509.70) scale(0.74,1)" font-size="13.9" fill="#000" stroke="#000" stroke-width="0.18" letter-spacing="3.62" >CN1</text>
<rect x="23.00" y="47.00" width="7.00" height="14.00" fill="#000" />
<rect x="24.00" y="48.00" width="5.00" height="1.00" fill="#fff" />
<rect x="24.00" y="53.00" width="5.00" height="2.00" fill="#fff" />
<rect x="24.00" y="59.00" width="5.00" height="1.00" fill="#fff" />
<rect x="23.00" y="64.00" width="7.00" height="14.00" fill="#000" />
<rect x="24.00" y="65.00" width="5.00" height="1.00" fill="#fff" />
<rect x="24.00" y="70.00" width="5.00" height="2.00" fill="#fff" />
<rect x="24.00" y="76.00" width="5.00" height="1.00" fill="#fff" />
<rect x="23.00" y="82.00" width="7.00" height="26.00" fill="#000" />
<rect x="24.00" y="83.00" width="5.00" height="1.00" fill="#fff" />
<rect x="24.00" y="89.00" width="5.00" height="1.00" fill="#fff" />
<rect x="24.00" y="94.00" width="5.00" height="1.00" fill="#fff" />
<rect x="24.00" y="100.00" width="5.00" height="1.00" fill="#fff" />
<rect x="24.00" y="106.00" width="5.00" height="1.00" fill="#fff" />
<rect x="24.00" y="85.00" width="5.00" height="3.00" fill="#fff" />
<rect x="25.00" y="86.00" width="3.00" height="1.00" fill="#000" />
<rect x="23.00" y="112.00" width="7.00" height="31.00" fill="#000" />
<rect x="24.00" y="119.00" width="5.00" height="1.00" fill="#fff" />
<rect x="24.00" y="124.00" width="5.00" height="1.00" fill="#fff" />
<rect x="24.00" y="129.00" width="5.00" height="2.00" fill="#fff" />
<rect x="24.00" y="135.00" width="5.00" height="2.00" fill="#fff" />
<rect x="24.00" y="141.00" width="5.00" height="1.00" fill="#fff" />
<rect x="25.00" y="114.00" width="3.00" height="3.00" fill="#fff" />
<rect x="23.00" y="148.00" width="7.00" height="14.00" fill="#000" />
<rect x="24.00" y="149.00" width="5.00" height="1.00" fill="#fff" />
<rect x="24.00" y="154.00" width="5.00" height="2.00" fill="#fff" />
<rect x="24.00" y="160.00" width="5.00" height="1.00" fill="#fff" />
<rect x="23.00" y="166.00" width="7.00" height="14.00" fill="#000" />
<rect x="24.00" y="168.00" width="5.00" height="1.00" fill="#fff" />
<rect x="24.00" y="173.00" width="5.00" height="1.00" fill="#fff" />
<rect x="24.00" y="178.00" width="5.00" height="1.00" fill="#fff" />
<rect x="37.00" y="28.00" width="26.00" height="19.00" rx="3.0" ry="3.0" fill="#000"/>
<polygon points="39.38,38.68 30.20,53.40 45.42,44.78" fill="#fff" stroke="#000" stroke-width="1.80" stroke-linejoin="miter"/>
<rect x="40.00" y="31.00" width="20.20" height="14.00" rx="1.4" ry="1.4" fill="#fff"/>
<polygon points="39.54,40.12 32.84,50.87 43.95,44.58" fill="#fff"/>
<text transform="translate(43.06,41.90) scale(0.74,1)" font-size="13.9" fill="#000" stroke="#000" stroke-width="0.18" letter-spacing="-0.04" >P1</text>
<rect x="45.10" y="62.10" width="25.60" height="17.70" rx="3.0" ry="3.0" fill="#000"/>
<polygon points="48.49,65.91 30.20,70.70 48.49,75.49" fill="#fff" stroke="#000" stroke-width="1.80" stroke-linejoin="miter"/>
<rect x="46.70" y="63.70" width="22.00" height="14.10" rx="1.4" ry="1.4" fill="#fff"/>
<polygon points="47.59,67.08 33.75,70.70 47.59,74.32" fill="#fff"/>
<text transform="translate(50.11,74.80) scale(0.74,1)" font-size="13.9" fill="#000" stroke="#000" stroke-width="0.18" letter-spacing="2.81" >P2</text>
<rect x="45.10" y="85.30" width="25.60" height="18.20" rx="3.0" ry="3.0" fill="#000"/>
<polygon points="48.68,89.46 30.20,94.30 48.68,99.14" fill="#fff" stroke="#000" stroke-width="1.80" stroke-linejoin="miter"/>
<rect x="46.70" y="87.50" width="22.00" height="14.00" rx="1.4" ry="1.4" fill="#fff"/>
<polygon points="47.78,90.63 33.75,94.30 47.78,97.97" fill="#fff"/>
<text transform="translate(50.11,98.60) scale(0.74,1)" font-size="13.9" fill="#000" stroke="#000" stroke-width="0.18" letter-spacing="2.72" >P3</text>
<rect x="46.00" y="118.40" width="24.50" height="17.80" rx="3.0" ry="3.0" fill="#000"/>
<polygon points="49.40,122.66 30.20,127.40 49.40,132.02" fill="#fff" stroke="#000" stroke-width="1.80" stroke-linejoin="miter"/>
<rect x="47.80" y="120.40" width="20.70" height="13.80" rx="1.4" ry="1.4" fill="#fff"/>
<polygon points="48.50,123.81 34.00,127.39 48.50,130.88" fill="#fff"/>
<text transform="translate(50.66,132.08) scale(0.74,1)" font-size="13.9" fill="#000" stroke="#000" stroke-width="0.18" letter-spacing="2.52" >P4</text>
<rect x="46.00" y="145.90" width="24.50" height="17.20" rx="3.0" ry="3.0" fill="#000"/>
<polygon points="49.40,149.48 30.20,154.10 49.40,158.84" fill="#fff" stroke="#000" stroke-width="1.80" stroke-linejoin="miter"/>
<rect x="47.80" y="147.90" width="20.70" height="13.20" rx="1.4" ry="1.4" fill="#fff"/>
<polygon points="48.50,150.62 34.00,154.11 48.50,157.69" fill="#fff"/>
<text transform="translate(50.66,159.28) scale(0.74,1)" font-size="13.9" fill="#000" stroke="#000" stroke-width="0.18" letter-spacing="2.70" >P5</text>
<rect x="37.40" y="180.60" width="25.00" height="17.30" rx="3.0" ry="3.0" fill="#000"/>
<polygon points="39.15,188.53 30.20,173.00 44.94,182.50" fill="#fff" stroke="#000" stroke-width="1.80" stroke-linejoin="miter"/>
<rect x="39.40" y="182.60" width="21.00" height="13.30" rx="1.4" ry="1.4" fill="#fff"/>
<polygon points="39.33,187.04 32.83,175.77 43.54,182.66" fill="#fff"/>
<text transform="translate(42.41,194.03) scale(0.74,1)" font-size="13.9" fill="#000" stroke="#000" stroke-width="0.18" letter-spacing="2.72" >P6</text>
<rect x="30.00" y="233.00" width="64.80" height="24.80" fill="#000" />
<rect x="32.00" y="235.00" width="2.80" height="4.80" fill="#fff" />
<rect x="32.00" y="251.10" width="2.80" height="4.70" fill="#fff" />
<rect x="37.60" y="235.00" width="2.80" height="4.80" fill="#fff" />
<rect x="37.60" y="251.10" width="2.80" height="4.70" fill="#fff" />
<rect x="43.30" y="235.00" width="2.80" height="4.80" fill="#fff" />
<rect x="43.30" y="251.10" width="2.80" height="4.70" fill="#fff" />
<rect x="78.10" y="235.00" width="2.80" height="4.80" fill="#fff" />
<rect x="78.10" y="251.10" width="2.80" height="4.70" fill="#fff" />
<rect x="83.90" y="235.00" width="2.80" height="4.80" fill="#fff" />
<rect x="83.90" y="251.10" width="2.80" height="4.70" fill="#fff" />
<rect x="90.10" y="235.00" width="2.80" height="4.80" fill="#fff" />
<rect x="90.10" y="251.10" width="2.80" height="4.70" fill="#fff" />
<rect x="33.80" y="243.00" width="16.20" height="5.00" fill="#fff" />
<rect x="75.00" y="243.00" width="12.50" height="5.00" fill="#fff" />
<polygon points="94.90,242.90 92.40,244.30 92.40,246.70 94.90,248.10" fill="#fff"/>
<rect x="48.40" y="234.80" width="28.20" height="21.20" fill="#000" />
<line x1="51.60" y1="235.80" x2="73.40" y2="235.80" stroke="#fff" stroke-width="1.0" stroke-dasharray="3 1.8"/>
<line x1="51.60" y1="255.00" x2="73.40" y2="255.00" stroke="#fff" stroke-width="1.0" stroke-dasharray="3 1.8"/>
<rect x="50.60" y="238.30" width="23.80" height="14.70" rx="2" ry="2" fill="#fff"/>
<text transform="translate(54.71,250.60) scale(0.74,1)" font-size="13.9" fill="#000" stroke="#000" stroke-width="0.18" letter-spacing="2.83" >U3</text>
<rect x="30.00" y="260.00" width="83.80" height="24.60" fill="#000" />
<rect x="32.40" y="262.00" width="2.80" height="4.80" fill="#fff" />
<rect x="32.40" y="278.10" width="2.80" height="4.70" fill="#fff" />
<rect x="38.20" y="262.00" width="2.80" height="4.80" fill="#fff" />
<rect x="38.20" y="278.10" width="2.80" height="4.70" fill="#fff" />
<rect x="44.00" y="262.00" width="2.80" height="4.80" fill="#fff" />
<rect x="44.00" y="278.10" width="2.80" height="4.70" fill="#fff" />
<rect x="50.00" y="262.00" width="2.80" height="4.80" fill="#fff" />
<rect x="50.00" y="278.10" width="2.80" height="4.70" fill="#fff" />
<rect x="91.20" y="262.00" width="2.80" height="4.80" fill="#fff" />
<rect x="91.20" y="278.10" width="2.80" height="4.70" fill="#fff" />
<rect x="97.00" y="262.00" width="2.80" height="4.80" fill="#fff" />
<rect x="97.00" y="278.10" width="2.80" height="4.70" fill="#fff" />
<rect x="103.00" y="262.00" width="2.80" height="4.80" fill="#fff" />
<rect x="103.00" y="278.10" width="2.80" height="4.70" fill="#fff" />
<rect x="108.90" y="262.00" width="2.80" height="4.80" fill="#fff" />
<rect x="108.90" y="278.10" width="2.80" height="4.70" fill="#fff" />
<rect x="35.00" y="270.00" width="17.80" height="5.00" fill="#fff" />
<rect x="91.20" y="270.00" width="18.80" height="5.00" fill="#fff" />
<polygon points="113.90,269.90 111.40,271.30 111.40,273.70 113.90,275.10" fill="#fff"/>
<rect x="30.00" y="286.60" width="83.80" height="24.60" fill="#000" />
<rect x="32.40" y="288.60" width="2.80" height="4.80" fill="#fff" />
<rect x="32.40" y="304.70" width="2.80" height="4.70" fill="#fff" />
<rect x="38.20" y="288.60" width="2.80" height="4.80" fill="#fff" />
<rect x="38.20" y="304.70" width="2.80" height="4.70" fill="#fff" />
<rect x="44.00" y="288.60" width="2.80" height="4.80" fill="#fff" />
<rect x="44.00" y="304.70" width="2.80" height="4.70" fill="#fff" />
<rect x="50.00" y="288.60" width="2.80" height="4.80" fill="#fff" />
<rect x="50.00" y="304.70" width="2.80" height="4.70" fill="#fff" />
<rect x="91.20" y="288.60" width="2.80" height="4.80" fill="#fff" />
<rect x="91.20" y="304.70" width="2.80" height="4.70" fill="#fff" />
<rect x="97.00" y="288.60" width="2.80" height="4.80" fill="#fff" />
<rect x="97.00" y="304.70" width="2.80" height="4.70" fill="#fff" />
<rect x="103.00" y="288.60" width="2.80" height="4.80" fill="#fff" />
<rect x="103.00" y="304.70" width="2.80" height="4.70" fill="#fff" />
<rect x="108.90" y="288.60" width="2.80" height="4.80" fill="#fff" />
<rect x="108.90" y="304.70" width="2.80" height="4.70" fill="#fff" />
<rect x="35.00" y="296.60" width="17.80" height="5.00" fill="#fff" />
<rect x="91.20" y="296.60" width="18.80" height="5.00" fill="#fff" />
<polygon points="113.90,296.50 111.40,297.90 111.40,300.30 113.90,301.70" fill="#fff"/>
<rect x="30.00" y="313.00" width="83.80" height="24.60" fill="#000" />
<rect x="32.40" y="315.00" width="2.80" height="4.80" fill="#fff" />
<rect x="32.40" y="331.10" width="2.80" height="4.70" fill="#fff" />
<rect x="38.20" y="315.00" width="2.80" height="4.80" fill="#fff" />
<rect x="38.20" y="331.10" width="2.80" height="4.70" fill="#fff" />
<rect x="44.00" y="315.00" width="2.80" height="4.80" fill="#fff" />
<rect x="44.00" y="331.10" width="2.80" height="4.70" fill="#fff" />
<rect x="50.00" y="315.00" width="2.80" height="4.80" fill="#fff" />
<rect x="50.00" y="331.10" width="2.80" height="4.70" fill="#fff" />
<rect x="91.20" y="315.00" width="2.80" height="4.80" fill="#fff" />
<rect x="91.20" y="331.10" width="2.80" height="4.70" fill="#fff" />
<rect x="97.00" y="315.00" width="2.80" height="4.80" fill="#fff" />
<rect x="97.00" y="331.10" width="2.80" height="4.70" fill="#fff" />
<rect x="103.00" y="315.00" width="2.80" height="4.80" fill="#fff" />
<rect x="103.00" y="331.10" width="2.80" height="4.70" fill="#fff" />
<rect x="108.90" y="315.00" width="2.80" height="4.80" fill="#fff" />
<rect x="108.90" y="331.10" width="2.80" height="4.70" fill="#fff" />
<rect x="35.00" y="323.00" width="17.80" height="5.00" fill="#fff" />
<rect x="91.20" y="323.00" width="18.80" height="5.00" fill="#fff" />
<polygon points="113.90,322.90 111.40,324.30 111.40,326.70 113.90,328.10" fill="#fff"/>
<rect x="55.60" y="262.00" width="13.80" height="72.40" fill="#fff" />
<rect x="74.00" y="262.00" width="13.50" height="72.40" fill="#fff" />
<text transform="translate(62.40,0) scale(0.74,1)" font-size="13.9" fill="#000" stroke="#000" stroke-width="0.18" text-anchor="middle"><tspan x="0" y="273.16">C</tspan><tspan x="0" y="288.00">A</tspan><tspan x="0" y="302.83">C</tspan><tspan x="0" y="317.67">H</tspan><tspan x="0" y="332.50">E</tspan></text>
<text transform="translate(80.80,0) scale(0.74,1)" font-size="13.9" fill="#000" stroke="#000" stroke-width="0.18" text-anchor="middle"><tspan x="0" y="273.16">B</tspan><tspan x="0" y="288.00">A</tspan><tspan x="0" y="302.83">N</tspan><tspan x="0" y="317.67">K</tspan><tspan x="0" y="332.50">1</tspan></text>
<rect x="133.00" y="260.00" width="65.00" height="24.80" fill="#000" />
<rect x="136.10" y="262.00" width="2.80" height="4.80" fill="#fff" />
<rect x="136.10" y="278.10" width="2.80" height="4.70" fill="#fff" />
<rect x="141.40" y="262.00" width="2.80" height="4.80" fill="#fff" />
<rect x="141.40" y="278.10" width="2.80" height="4.70" fill="#fff" />
<rect x="147.00" y="262.00" width="2.80" height="4.80" fill="#fff" />
<rect x="147.00" y="278.10" width="2.80" height="4.70" fill="#fff" />
<rect x="182.40" y="262.00" width="2.80" height="4.80" fill="#fff" />
<rect x="182.40" y="278.10" width="2.80" height="4.70" fill="#fff" />
<rect x="188.00" y="262.00" width="2.80" height="4.80" fill="#fff" />
<rect x="188.00" y="278.10" width="2.80" height="4.70" fill="#fff" />
<rect x="193.30" y="262.00" width="2.80" height="4.80" fill="#fff" />
<rect x="193.30" y="278.10" width="2.80" height="4.70" fill="#fff" />
<rect x="137.40" y="270.00" width="11.90" height="5.00" fill="#fff" />
<rect x="183.10" y="270.00" width="8.20" height="5.00" fill="#fff" />
<rect x="198.00" y="275.00" width="0.90" height="9.80" fill="#000" />
<rect x="195.70" y="270.70" width="2.50" height="4.30" fill="#fff" />
<rect x="133.00" y="287.20" width="85.00" height="23.60" fill="#000" />
<rect x="136.10" y="289.20" width="2.80" height="4.80" fill="#fff" />
<rect x="136.10" y="305.30" width="2.80" height="4.70" fill="#fff" />
<rect x="141.80" y="289.20" width="2.80" height="4.80" fill="#fff" />
<rect x="141.80" y="305.30" width="2.80" height="4.70" fill="#fff" />
<rect x="147.70" y="289.20" width="2.80" height="4.80" fill="#fff" />
<rect x="147.70" y="305.30" width="2.80" height="4.70" fill="#fff" />
<rect x="153.40" y="289.20" width="2.80" height="4.80" fill="#fff" />
<rect x="153.40" y="305.30" width="2.80" height="4.70" fill="#fff" />
<rect x="194.40" y="289.20" width="2.80" height="4.80" fill="#fff" />
<rect x="194.40" y="305.30" width="2.80" height="4.70" fill="#fff" />
<rect x="200.10" y="289.20" width="2.80" height="4.80" fill="#fff" />
<rect x="200.10" y="305.30" width="2.80" height="4.70" fill="#fff" />
<rect x="206.20" y="289.20" width="2.80" height="4.80" fill="#fff" />
<rect x="206.20" y="305.30" width="2.80" height="4.70" fill="#fff" />
<rect x="212.20" y="289.20" width="2.80" height="4.80" fill="#fff" />
<rect x="212.20" y="305.30" width="2.80" height="4.70" fill="#fff" />
<rect x="139.00" y="297.20" width="20.30" height="5.00" fill="#fff" />
<rect x="191.90" y="297.20" width="18.10" height="5.00" fill="#fff" />
<polygon points="218.10,297.10 215.60,298.50 215.60,300.90 218.10,302.30" fill="#fff"/>
<rect x="133.00" y="313.90" width="85.00" height="24.50" fill="#000" />
<rect x="136.10" y="315.90" width="2.80" height="4.80" fill="#fff" />
<rect x="136.10" y="332.00" width="2.80" height="4.70" fill="#fff" />
<rect x="141.80" y="315.90" width="2.80" height="4.80" fill="#fff" />
<rect x="141.80" y="332.00" width="2.80" height="4.70" fill="#fff" />
<rect x="147.70" y="315.90" width="2.80" height="4.80" fill="#fff" />
<rect x="147.70" y="332.00" width="2.80" height="4.70" fill="#fff" />
<rect x="153.40" y="315.90" width="2.80" height="4.80" fill="#fff" />
<rect x="153.40" y="332.00" width="2.80" height="4.70" fill="#fff" />
<rect x="194.40" y="315.90" width="2.80" height="4.80" fill="#fff" />
<rect x="194.40" y="332.00" width="2.80" height="4.70" fill="#fff" />
<rect x="200.10" y="315.90" width="2.80" height="4.80" fill="#fff" />
<rect x="200.10" y="332.00" width="2.80" height="4.70" fill="#fff" />
<rect x="206.20" y="315.90" width="2.80" height="4.80" fill="#fff" />
<rect x="206.20" y="332.00" width="2.80" height="4.70" fill="#fff" />
<rect x="212.20" y="315.90" width="2.80" height="4.80" fill="#fff" />
<rect x="212.20" y="332.00" width="2.80" height="4.70" fill="#fff" />
<rect x="139.00" y="323.90" width="20.30" height="5.00" fill="#fff" />
<rect x="191.90" y="323.90" width="18.10" height="5.00" fill="#fff" />
<polygon points="218.10,323.80 215.60,325.20 215.60,327.60 218.10,329.00" fill="#fff"/>
<rect x="149.60" y="261.50" width="32.60" height="21.50" fill="#000" />
<line x1="152.80" y1="262.50" x2="179.00" y2="262.50" stroke="#fff" stroke-width="1.0" stroke-dasharray="3 1.8"/>
<line x1="152.80" y1="282.00" x2="179.00" y2="282.00" stroke="#fff" stroke-width="1.0" stroke-dasharray="3 1.8"/>
<rect x="151.80" y="265.00" width="28.20" height="14.00" rx="2" ry="2" fill="#fff"/>
<text transform="translate(153.56,276.30) scale(0.74,1)" font-size="13.9" fill="#000" stroke="#000" stroke-width="0.18" letter-spacing="2.88" >U18</text>
<rect x="159.00" y="288.50" width="33.20" height="20.80" fill="#000" />
<line x1="162.20" y1="289.50" x2="189.00" y2="289.50" stroke="#fff" stroke-width="1.0" stroke-dasharray="3 1.8"/>
<line x1="162.20" y1="308.30" x2="189.00" y2="308.30" stroke="#fff" stroke-width="1.0" stroke-dasharray="3 1.8"/>
<rect x="161.20" y="292.30" width="28.80" height="12.80" rx="2" ry="2" fill="#fff"/>
<text transform="translate(162.96,302.90) scale(0.74,1)" font-size="13.9" fill="#000" stroke="#000" stroke-width="0.18" letter-spacing="2.51" >U19</text>
<rect x="159.00" y="315.20" width="33.20" height="21.00" fill="#000" />
<line x1="162.20" y1="316.20" x2="189.00" y2="316.20" stroke="#fff" stroke-width="1.0" stroke-dasharray="3 1.8"/>
<line x1="162.20" y1="335.20" x2="189.00" y2="335.20" stroke="#fff" stroke-width="1.0" stroke-dasharray="3 1.8"/>
<rect x="161.20" y="318.90" width="28.80" height="13.70" rx="2" ry="2" fill="#fff"/>
<text transform="translate(161.96,329.90) scale(0.74,1)" font-size="13.9" fill="#000" stroke="#000" stroke-width="0.18" letter-spacing="3.26" >U20</text>
<rect x="30.00" y="369.00" width="83.90" height="23.90" fill="#000" />
<rect x="32.20" y="370.80" width="3.00" height="5.00" fill="#fff" />
<rect x="32.20" y="386.10" width="3.00" height="5.00" fill="#fff" />
<rect x="37.40" y="370.80" width="3.50" height="5.00" fill="#fff" />
<rect x="37.40" y="386.10" width="3.50" height="5.00" fill="#fff" />
<rect x="102.40" y="370.80" width="2.80" height="5.00" fill="#fff" />
<rect x="102.40" y="386.10" width="2.80" height="5.00" fill="#fff" />
<rect x="108.10" y="370.80" width="2.70" height="5.00" fill="#fff" />
<rect x="108.10" y="386.10" width="2.70" height="5.00" fill="#fff" />
<rect x="35.00" y="377.90" width="6.40" height="6.00" fill="#fff" />
<rect x="102.40" y="377.90" width="4.70" height="6.00" fill="#fff" />
<polygon points="114,378.4 111,380 111,382 114,383.6" fill="#fff"/>
<line x1="44.00" y1="371.50" x2="100.40" y2="371.50" stroke="#fff" stroke-width="1.0" stroke-dasharray="3 1.7"/>
<line x1="44.00" y1="390.30" x2="100.40" y2="390.30" stroke="#fff" stroke-width="1.0" stroke-dasharray="3 1.7"/>
<rect x="43.90" y="373.70" width="56.40" height="14.20" fill="#fff" />
<text transform="translate(46.56,384.50) scale(0.74,1)" font-size="13.9" fill="#000" stroke="#000" stroke-width="0.18" letter-spacing="2.99" >BANK 1</text>
<rect x="30.20" y="397.10" width="97.70" height="27.60" fill="#000" />
<rect x="33.80" y="398.60" width="3.10" height="5.20" fill="#fff" />
<rect x="33.80" y="409.70" width="3.10" height="5.20" fill="#fff" />
<rect x="33.80" y="416.90" width="3.10" height="5.10" fill="#fff" />
<rect x="39.68" y="398.60" width="3.10" height="5.20" fill="#fff" />
<rect x="39.68" y="409.70" width="3.10" height="5.20" fill="#fff" />
<rect x="39.68" y="416.90" width="3.10" height="5.10" fill="#fff" />
<rect x="45.56" y="398.60" width="3.10" height="5.20" fill="#fff" />
<rect x="45.56" y="409.70" width="3.10" height="5.20" fill="#fff" />
<rect x="45.56" y="416.90" width="3.10" height="5.10" fill="#fff" />
<rect x="51.44" y="398.60" width="3.10" height="5.20" fill="#fff" />
<rect x="51.44" y="409.70" width="3.10" height="5.20" fill="#fff" />
<rect x="51.44" y="416.90" width="3.10" height="5.10" fill="#fff" />
<rect x="57.32" y="398.60" width="3.10" height="5.20" fill="#fff" />
<rect x="57.32" y="409.70" width="3.10" height="5.20" fill="#fff" />
<rect x="57.32" y="416.90" width="3.10" height="5.10" fill="#fff" />
<rect x="63.20" y="398.60" width="3.10" height="5.20" fill="#fff" />
<rect x="63.20" y="409.70" width="3.10" height="5.20" fill="#fff" />
<rect x="63.20" y="416.90" width="3.10" height="5.10" fill="#fff" />
<rect x="69.08" y="398.60" width="3.10" height="5.20" fill="#fff" />
<rect x="69.08" y="409.70" width="3.10" height="5.20" fill="#fff" />
<rect x="69.08" y="416.90" width="3.10" height="5.10" fill="#fff" />
<rect x="74.96" y="398.60" width="3.10" height="5.20" fill="#fff" />
<rect x="74.96" y="409.70" width="3.10" height="5.20" fill="#fff" />
<rect x="74.96" y="416.90" width="3.10" height="5.10" fill="#fff" />
<rect x="80.84" y="398.60" width="3.10" height="5.20" fill="#fff" />
<rect x="80.84" y="409.70" width="3.10" height="5.20" fill="#fff" />
<rect x="80.84" y="416.90" width="3.10" height="5.10" fill="#fff" />
<rect x="86.72" y="398.60" width="3.10" height="5.20" fill="#fff" />
<rect x="86.72" y="409.70" width="3.10" height="5.20" fill="#fff" />
<rect x="86.72" y="416.90" width="3.10" height="5.10" fill="#fff" />
<rect x="92.60" y="398.60" width="3.10" height="5.20" fill="#fff" />
<rect x="92.60" y="409.70" width="3.10" height="5.20" fill="#fff" />
<rect x="92.60" y="416.90" width="3.10" height="5.10" fill="#fff" />
<rect x="98.48" y="398.60" width="3.10" height="5.20" fill="#fff" />
<rect x="98.48" y="409.70" width="3.10" height="5.20" fill="#fff" />
<rect x="98.48" y="416.90" width="3.10" height="5.10" fill="#fff" />
<rect x="104.36" y="398.60" width="3.10" height="5.20" fill="#fff" />
<rect x="104.36" y="409.70" width="3.10" height="5.20" fill="#fff" />
<rect x="104.36" y="416.90" width="3.10" height="5.10" fill="#fff" />
<rect x="110.24" y="398.60" width="3.10" height="5.20" fill="#fff" />
<rect x="110.24" y="409.70" width="3.10" height="5.20" fill="#fff" />
<rect x="110.24" y="416.90" width="3.10" height="5.10" fill="#fff" />
<rect x="116.12" y="398.60" width="3.10" height="5.20" fill="#fff" />
<rect x="116.12" y="416.90" width="3.10" height="5.10" fill="#fff" />
<rect x="122.00" y="398.60" width="3.10" height="5.20" fill="#fff" />
<rect x="122.00" y="416.90" width="3.10" height="5.10" fill="#fff" />
<polygon points="128.00,407.90 125.30,409.30 125.30,411.70 128.00,413.10" fill="#fff"/>
<rect x="30.20" y="427.20" width="97.70" height="27.60" fill="#000" />
<rect x="33.80" y="428.70" width="3.10" height="5.20" fill="#fff" />
<rect x="33.80" y="439.80" width="3.10" height="5.20" fill="#fff" />
<rect x="33.80" y="447.00" width="3.10" height="5.10" fill="#fff" />
<rect x="39.68" y="428.70" width="3.10" height="5.20" fill="#fff" />
<rect x="39.68" y="439.80" width="3.10" height="5.20" fill="#fff" />
<rect x="39.68" y="447.00" width="3.10" height="5.10" fill="#fff" />
<rect x="45.56" y="428.70" width="3.10" height="5.20" fill="#fff" />
<rect x="45.56" y="439.80" width="3.10" height="5.20" fill="#fff" />
<rect x="45.56" y="447.00" width="3.10" height="5.10" fill="#fff" />
<rect x="51.44" y="428.70" width="3.10" height="5.20" fill="#fff" />
<rect x="51.44" y="439.80" width="3.10" height="5.20" fill="#fff" />
<rect x="51.44" y="447.00" width="3.10" height="5.10" fill="#fff" />
<rect x="57.32" y="428.70" width="3.10" height="5.20" fill="#fff" />
<rect x="57.32" y="439.80" width="3.10" height="5.20" fill="#fff" />
<rect x="57.32" y="447.00" width="3.10" height="5.10" fill="#fff" />
<rect x="63.20" y="428.70" width="3.10" height="5.20" fill="#fff" />
<rect x="63.20" y="439.80" width="3.10" height="5.20" fill="#fff" />
<rect x="63.20" y="447.00" width="3.10" height="5.10" fill="#fff" />
<rect x="69.08" y="428.70" width="3.10" height="5.20" fill="#fff" />
<rect x="69.08" y="439.80" width="3.10" height="5.20" fill="#fff" />
<rect x="69.08" y="447.00" width="3.10" height="5.10" fill="#fff" />
<rect x="74.96" y="428.70" width="3.10" height="5.20" fill="#fff" />
<rect x="74.96" y="439.80" width="3.10" height="5.20" fill="#fff" />
<rect x="74.96" y="447.00" width="3.10" height="5.10" fill="#fff" />
<rect x="80.84" y="428.70" width="3.10" height="5.20" fill="#fff" />
<rect x="80.84" y="439.80" width="3.10" height="5.20" fill="#fff" />
<rect x="80.84" y="447.00" width="3.10" height="5.10" fill="#fff" />
<rect x="86.72" y="428.70" width="3.10" height="5.20" fill="#fff" />
<rect x="86.72" y="439.80" width="3.10" height="5.20" fill="#fff" />
<rect x="86.72" y="447.00" width="3.10" height="5.10" fill="#fff" />
<rect x="92.60" y="428.70" width="3.10" height="5.20" fill="#fff" />
<rect x="92.60" y="439.80" width="3.10" height="5.20" fill="#fff" />
<rect x="92.60" y="447.00" width="3.10" height="5.10" fill="#fff" />
<rect x="98.48" y="428.70" width="3.10" height="5.20" fill="#fff" />
<rect x="98.48" y="439.80" width="3.10" height="5.20" fill="#fff" />
<rect x="98.48" y="447.00" width="3.10" height="5.10" fill="#fff" />
<rect x="104.36" y="428.70" width="3.10" height="5.20" fill="#fff" />
<rect x="104.36" y="439.80" width="3.10" height="5.20" fill="#fff" />
<rect x="104.36" y="447.00" width="3.10" height="5.10" fill="#fff" />
<rect x="110.24" y="428.70" width="3.10" height="5.20" fill="#fff" />
<rect x="110.24" y="439.80" width="3.10" height="5.20" fill="#fff" />
<rect x="110.24" y="447.00" width="3.10" height="5.10" fill="#fff" />
<rect x="116.12" y="428.70" width="3.10" height="5.20" fill="#fff" />
<rect x="116.12" y="447.00" width="3.10" height="5.10" fill="#fff" />
<rect x="122.00" y="428.70" width="3.10" height="5.20" fill="#fff" />
<rect x="122.00" y="447.00" width="3.10" height="5.10" fill="#fff" />
<polygon points="128.00,438.00 125.30,439.40 125.30,441.80 128.00,443.20" fill="#fff"/>
<rect x="30.20" y="457.50" width="97.70" height="27.60" fill="#000" />
<rect x="33.80" y="459.00" width="3.10" height="5.20" fill="#fff" />
<rect x="33.80" y="470.10" width="3.10" height="5.20" fill="#fff" />
<rect x="33.80" y="477.30" width="3.10" height="5.10" fill="#fff" />
<rect x="39.68" y="459.00" width="3.10" height="5.20" fill="#fff" />
<rect x="39.68" y="470.10" width="3.10" height="5.20" fill="#fff" />
<rect x="39.68" y="477.30" width="3.10" height="5.10" fill="#fff" />
<rect x="45.56" y="459.00" width="3.10" height="5.20" fill="#fff" />
<rect x="45.56" y="470.10" width="3.10" height="5.20" fill="#fff" />
<rect x="45.56" y="477.30" width="3.10" height="5.10" fill="#fff" />
<rect x="51.44" y="459.00" width="3.10" height="5.20" fill="#fff" />
<rect x="51.44" y="470.10" width="3.10" height="5.20" fill="#fff" />
<rect x="51.44" y="477.30" width="3.10" height="5.10" fill="#fff" />
<rect x="57.32" y="459.00" width="3.10" height="5.20" fill="#fff" />
<rect x="57.32" y="470.10" width="3.10" height="5.20" fill="#fff" />
<rect x="57.32" y="477.30" width="3.10" height="5.10" fill="#fff" />
<rect x="63.20" y="459.00" width="3.10" height="5.20" fill="#fff" />
<rect x="63.20" y="470.10" width="3.10" height="5.20" fill="#fff" />
<rect x="63.20" y="477.30" width="3.10" height="5.10" fill="#fff" />
<rect x="69.08" y="459.00" width="3.10" height="5.20" fill="#fff" />
<rect x="69.08" y="470.10" width="3.10" height="5.20" fill="#fff" />
<rect x="69.08" y="477.30" width="3.10" height="5.10" fill="#fff" />
<rect x="74.96" y="459.00" width="3.10" height="5.20" fill="#fff" />
<rect x="74.96" y="470.10" width="3.10" height="5.20" fill="#fff" />
<rect x="74.96" y="477.30" width="3.10" height="5.10" fill="#fff" />
<rect x="80.84" y="459.00" width="3.10" height="5.20" fill="#fff" />
<rect x="80.84" y="470.10" width="3.10" height="5.20" fill="#fff" />
<rect x="80.84" y="477.30" width="3.10" height="5.10" fill="#fff" />
<rect x="86.72" y="459.00" width="3.10" height="5.20" fill="#fff" />
<rect x="86.72" y="470.10" width="3.10" height="5.20" fill="#fff" />
<rect x="86.72" y="477.30" width="3.10" height="5.10" fill="#fff" />
<rect x="92.60" y="459.00" width="3.10" height="5.20" fill="#fff" />
<rect x="92.60" y="470.10" width="3.10" height="5.20" fill="#fff" />
<rect x="92.60" y="477.30" width="3.10" height="5.10" fill="#fff" />
<rect x="98.48" y="459.00" width="3.10" height="5.20" fill="#fff" />
<rect x="98.48" y="470.10" width="3.10" height="5.20" fill="#fff" />
<rect x="98.48" y="477.30" width="3.10" height="5.10" fill="#fff" />
<rect x="104.36" y="459.00" width="3.10" height="5.20" fill="#fff" />
<rect x="104.36" y="470.10" width="3.10" height="5.20" fill="#fff" />
<rect x="104.36" y="477.30" width="3.10" height="5.10" fill="#fff" />
<rect x="110.24" y="459.00" width="3.10" height="5.20" fill="#fff" />
<rect x="110.24" y="470.10" width="3.10" height="5.20" fill="#fff" />
<rect x="110.24" y="477.30" width="3.10" height="5.10" fill="#fff" />
<rect x="116.12" y="459.00" width="3.10" height="5.20" fill="#fff" />
<rect x="116.12" y="477.30" width="3.10" height="5.10" fill="#fff" />
<rect x="122.00" y="459.00" width="3.10" height="5.20" fill="#fff" />
<rect x="122.00" y="477.30" width="3.10" height="5.10" fill="#fff" />
<polygon points="128.00,468.30 125.30,469.70 125.30,472.10 128.00,473.50" fill="#fff"/>
<rect x="30.20" y="488.00" width="97.70" height="27.60" fill="#000" />
<rect x="33.80" y="489.50" width="3.10" height="5.20" fill="#fff" />
<rect x="33.80" y="500.60" width="3.10" height="5.20" fill="#fff" />
<rect x="33.80" y="507.80" width="3.10" height="5.10" fill="#fff" />
<rect x="39.68" y="489.50" width="3.10" height="5.20" fill="#fff" />
<rect x="39.68" y="500.60" width="3.10" height="5.20" fill="#fff" />
<rect x="39.68" y="507.80" width="3.10" height="5.10" fill="#fff" />
<rect x="45.56" y="489.50" width="3.10" height="5.20" fill="#fff" />
<rect x="45.56" y="500.60" width="3.10" height="5.20" fill="#fff" />
<rect x="45.56" y="507.80" width="3.10" height="5.10" fill="#fff" />
<rect x="51.44" y="489.50" width="3.10" height="5.20" fill="#fff" />
<rect x="51.44" y="500.60" width="3.10" height="5.20" fill="#fff" />
<rect x="51.44" y="507.80" width="3.10" height="5.10" fill="#fff" />
<rect x="57.32" y="489.50" width="3.10" height="5.20" fill="#fff" />
<rect x="57.32" y="500.60" width="3.10" height="5.20" fill="#fff" />
<rect x="57.32" y="507.80" width="3.10" height="5.10" fill="#fff" />
<rect x="63.20" y="489.50" width="3.10" height="5.20" fill="#fff" />
<rect x="63.20" y="500.60" width="3.10" height="5.20" fill="#fff" />
<rect x="63.20" y="507.80" width="3.10" height="5.10" fill="#fff" />
<rect x="69.08" y="489.50" width="3.10" height="5.20" fill="#fff" />
<rect x="69.08" y="500.60" width="3.10" height="5.20" fill="#fff" />
<rect x="69.08" y="507.80" width="3.10" height="5.10" fill="#fff" />
<rect x="74.96" y="489.50" width="3.10" height="5.20" fill="#fff" />
<rect x="74.96" y="500.60" width="3.10" height="5.20" fill="#fff" />
<rect x="74.96" y="507.80" width="3.10" height="5.10" fill="#fff" />
<rect x="80.84" y="489.50" width="3.10" height="5.20" fill="#fff" />
<rect x="80.84" y="500.60" width="3.10" height="5.20" fill="#fff" />
<rect x="80.84" y="507.80" width="3.10" height="5.10" fill="#fff" />
<rect x="86.72" y="489.50" width="3.10" height="5.20" fill="#fff" />
<rect x="86.72" y="500.60" width="3.10" height="5.20" fill="#fff" />
<rect x="86.72" y="507.80" width="3.10" height="5.10" fill="#fff" />
<rect x="92.60" y="489.50" width="3.10" height="5.20" fill="#fff" />
<rect x="92.60" y="500.60" width="3.10" height="5.20" fill="#fff" />
<rect x="92.60" y="507.80" width="3.10" height="5.10" fill="#fff" />
<rect x="98.48" y="489.50" width="3.10" height="5.20" fill="#fff" />
<rect x="98.48" y="500.60" width="3.10" height="5.20" fill="#fff" />
<rect x="98.48" y="507.80" width="3.10" height="5.10" fill="#fff" />
<rect x="104.36" y="489.50" width="3.10" height="5.20" fill="#fff" />
<rect x="104.36" y="500.60" width="3.10" height="5.20" fill="#fff" />
<rect x="104.36" y="507.80" width="3.10" height="5.10" fill="#fff" />
<rect x="110.24" y="489.50" width="3.10" height="5.20" fill="#fff" />
<rect x="110.24" y="500.60" width="3.10" height="5.20" fill="#fff" />
<rect x="110.24" y="507.80" width="3.10" height="5.10" fill="#fff" />
<rect x="116.12" y="489.50" width="3.10" height="5.20" fill="#fff" />
<rect x="116.12" y="507.80" width="3.10" height="5.10" fill="#fff" />
<rect x="122.00" y="489.50" width="3.10" height="5.20" fill="#fff" />
<rect x="122.00" y="507.80" width="3.10" height="5.10" fill="#fff" />
<polygon points="128.00,498.80 125.30,500.20 125.30,502.60 128.00,504.00" fill="#fff"/>
<rect x="71.20" y="418.80" width="15.80" height="74.20" rx="2" ry="2" fill="#000"/>
<rect x="72.30" y="419.90" width="13.60" height="72.00" rx="0.6" ry="0.6" fill="#fff"/>
<text transform="translate(79.10,0) scale(0.74,1)" font-size="12.3" fill="#000" stroke="#000" stroke-width="0.18" text-anchor="middle"><tspan x="0" y="429.66">B</tspan><tspan x="0" y="444.62">A</tspan><tspan x="0" y="459.58">N</tspan><tspan x="0" y="474.54">K</tspan><tspan x="0" y="489.50">0</tspan></text>
<rect x="305.00" y="73.00" width="14.00" height="7.00" fill="#000" />
<rect x="306.00" y="74.00" width="1.00" height="5.00" fill="#fff" />
<rect x="311.00" y="74.00" width="2.00" height="5.00" fill="#fff" />
<rect x="316.00" y="74.00" width="2.00" height="5.00" fill="#fff" />
<rect x="317.80" y="86.90" width="35.40" height="19.10" rx="3.0" ry="3.0" fill="#000"/>
<polygon points="320.02,94.83 310.80,81.00 326.39,88.66" fill="#fff" stroke="#000" stroke-width="1.80" stroke-linejoin="miter"/>
<rect x="319.80" y="89.40" width="31.40" height="14.60" rx="1.4" ry="1.4" fill="#fff"/>
<polygon points="320.17,93.43 313.40,83.28 324.84,88.91" fill="#fff"/>
<text transform="translate(324.84,100.70) scale(0.74,1)" font-size="13.9" fill="#000" stroke="#000" stroke-width="0.18" letter-spacing="2.22" >J11</text>
<rect x="332.00" y="255.00" width="14.00" height="7.00" fill="#000" />
<rect x="333.00" y="256.00" width="12.00" height="5.00" fill="#fff" />
<rect x="334.00" y="257.00" width="5.00" height="5.00" fill="#000" />
<rect x="340.00" y="257.00" width="4.00" height="5.00" fill="#000" />
<rect x="332.00" y="267.00" width="14.00" height="7.00" fill="#000" />
<rect x="333.00" y="268.00" width="12.00" height="5.00" fill="#fff" />
<rect x="334.00" y="269.00" width="5.00" height="5.00" fill="#000" />
<rect x="340.00" y="269.00" width="4.00" height="5.00" fill="#000" />
<rect x="332.00" y="278.00" width="14.00" height="7.00" fill="#000" />
<rect x="333.00" y="279.00" width="12.00" height="5.00" fill="#fff" />
<rect x="334.00" y="280.00" width="5.00" height="5.00" fill="#000" />
<rect x="340.00" y="280.00" width="4.00" height="5.00" fill="#000" />
<rect x="332.00" y="290.00" width="14.00" height="7.00" fill="#000" />
<rect x="333.00" y="291.00" width="12.00" height="5.00" fill="#fff" />
<rect x="334.00" y="292.00" width="5.00" height="5.00" fill="#000" />
<rect x="340.00" y="292.00" width="4.00" height="5.00" fill="#000" />
<rect x="332.00" y="301.00" width="14.00" height="7.00" fill="#000" />
<rect x="333.00" y="302.00" width="12.00" height="5.00" fill="#fff" />
<rect x="334.00" y="303.00" width="5.00" height="5.00" fill="#000" />
<rect x="340.00" y="303.00" width="4.00" height="5.00" fill="#000" />
<rect x="332.00" y="314.00" width="14.00" height="7.00" fill="#000" />
<rect x="333.00" y="315.00" width="12.00" height="5.00" fill="#fff" />
<rect x="334.00" y="316.00" width="5.00" height="5.00" fill="#000" />
<rect x="340.00" y="316.00" width="4.00" height="5.00" fill="#000" />
<rect x="377.00" y="255.00" width="20.00" height="7.00" fill="#000" />
<rect x="378.00" y="256.00" width="18.00" height="5.00" fill="#fff" />
<rect x="379.00" y="257.00" width="5.00" height="4.00" fill="#000" />
<rect x="380.00" y="258.00" width="3.00" height="2.00" fill="#fff" />
<rect x="385.00" y="257.00" width="4.00" height="5.00" fill="#000" />
<rect x="391.00" y="257.00" width="4.00" height="5.00" fill="#000" />
<rect x="377.00" y="267.00" width="20.00" height="7.00" fill="#000" />
<rect x="378.00" y="268.00" width="18.00" height="5.00" fill="#fff" />
<rect x="379.00" y="269.00" width="5.00" height="4.00" fill="#000" />
<rect x="380.00" y="270.00" width="3.00" height="2.00" fill="#fff" />
<rect x="385.00" y="269.00" width="4.00" height="5.00" fill="#000" />
<rect x="391.00" y="269.00" width="4.00" height="5.00" fill="#000" />
<rect x="377.00" y="278.00" width="20.00" height="7.00" fill="#000" />
<rect x="378.00" y="279.00" width="18.00" height="5.00" fill="#fff" />
<rect x="379.00" y="280.00" width="5.00" height="4.00" fill="#000" />
<rect x="380.00" y="281.00" width="3.00" height="2.00" fill="#fff" />
<rect x="385.00" y="280.00" width="4.00" height="5.00" fill="#000" />
<rect x="391.00" y="280.00" width="4.00" height="5.00" fill="#000" />
<rect x="377.00" y="290.00" width="20.00" height="7.00" fill="#000" />
<rect x="378.00" y="291.00" width="18.00" height="5.00" fill="#fff" />
<rect x="379.00" y="292.00" width="5.00" height="4.00" fill="#000" />
<rect x="380.00" y="293.00" width="3.00" height="2.00" fill="#fff" />
<rect x="385.00" y="292.00" width="4.00" height="5.00" fill="#000" />
<rect x="391.00" y="292.00" width="4.00" height="5.00" fill="#000" />
<rect x="323.40" y="220.00" width="33.30" height="18.50" rx="3.0" ry="3.0" fill="#000"/>
<polygon points="336.37,234.04 339.40,255.50 343.43,234.08" fill="#fff" stroke="#000" stroke-width="1.80" stroke-linejoin="miter"/>
<rect x="325.40" y="223.00" width="29.30" height="13.50" rx="1.4" ry="1.4" fill="#fff"/>
<polygon points="337.41,234.95 339.53,249.96 342.35,234.97" fill="#fff"/>
<text transform="translate(328.64,233.00) scale(0.74,1)" font-size="13.9" fill="#000" stroke="#000" stroke-width="0.18" letter-spacing="3.38" >J12</text>
<rect x="287.00" y="235.90" width="35.20" height="17.90" rx="3.0" ry="3.0" fill="#000"/>
<polygon points="320.24,244.45 332.60,270.00 314.99,250.46" fill="#fff" stroke="#000" stroke-width="1.80" stroke-linejoin="miter"/>
<rect x="290.00" y="238.90" width="30.60" height="13.30" rx="1.4" ry="1.4" fill="#fff"/>
<polygon points="320.02,246.07 329.04,264.70 316.19,250.45" fill="#fff"/>
<text transform="translate(293.79,249.90) scale(0.74,1)" font-size="13.9" fill="#000" stroke="#000" stroke-width="0.18" letter-spacing="2.39" >J13</text>
<rect x="286.00" y="258.40" width="34.20" height="17.40" rx="3.0" ry="3.0" fill="#000"/>
<polygon points="316.78,267.68 332.60,281.20 311.31,274.44" fill="#fff" stroke="#000" stroke-width="1.80" stroke-linejoin="miter"/>
<rect x="288.00" y="261.40" width="30.60" height="12.80" rx="1.4" ry="1.4" fill="#fff"/>
<polygon points="316.90,268.96 328.64,279.00 312.84,273.98" fill="#fff"/>
<text transform="translate(292.74,271.80) scale(0.74,1)" font-size="13.9" fill="#000" stroke="#000" stroke-width="0.18" letter-spacing="1.95" >J14</text>
<rect x="371.20" y="220.00" width="33.30" height="17.60" rx="3.0" ry="3.0" fill="#000"/>
<polygon points="384.10,233.13 386.60,255.50 391.09,233.19" fill="#fff" stroke="#000" stroke-width="1.80" stroke-linejoin="miter"/>
<rect x="373.20" y="222.00" width="28.30" height="13.60" rx="1.4" ry="1.4" fill="#fff"/>
<polygon points="385.11,234.04 386.85,249.67 389.99,234.08" fill="#fff"/>
<text transform="translate(376.89,232.90) scale(0.74,1)" font-size="13.9" fill="#000" stroke="#000" stroke-width="0.18" letter-spacing="2.38" >J18</text>
<rect x="403.50" y="244.90" width="33.90" height="18.30" rx="3.0" ry="3.0" fill="#000"/>
<polygon points="405.83,254.35 396.60,269.60 411.92,261.00" fill="#fff" stroke="#000" stroke-width="1.80" stroke-linejoin="miter"/>
<rect x="405.10" y="247.50" width="29.30" height="13.70" rx="1.4" ry="1.4" fill="#fff"/>
<polygon points="405.98,255.84 399.14,267.14 410.49,260.77" fill="#fff"/>
<text transform="translate(409.64,257.80) scale(0.74,1)" font-size="13.9" fill="#000" stroke="#000" stroke-width="0.18" letter-spacing="2.21" >J19</text>
<rect x="403.90" y="287.10" width="33.50" height="17.90" rx="3.0" ry="3.0" fill="#000"/>
<polygon points="406.25,296.44 396.60,280.70 412.57,289.22" fill="#fff" stroke="#000" stroke-width="1.80" stroke-linejoin="miter"/>
<rect x="405.50" y="288.70" width="28.90" height="13.30" rx="1.4" ry="1.4" fill="#fff"/>
<polygon points="406.38,294.92 399.10,283.05 411.15,289.48" fill="#fff"/>
<text transform="translate(409.64,299.70) scale(0.74,1)" font-size="13.9" fill="#000" stroke="#000" stroke-width="0.18" letter-spacing="2.15" >J20</text>
<rect x="288.40" y="299.30" width="31.00" height="13.60" rx="0" ry="0" fill="#000"/>
<polygon points="315.94,301.58 332.50,293.00 316.29,306.41" fill="#fff" stroke="#000" stroke-width="1.80" stroke-linejoin="miter"/>
<rect x="288.40" y="299.30" width="29.50" height="13.60" rx="0.6" ry="0.6" fill="#fff"/>
<polygon points="316.88,302.11 325.45,297.67 317.06,304.61" fill="#fff"/>
<text transform="translate(291.84,310.50) scale(0.74,1)" font-size="13.9" fill="#000" stroke="#000" stroke-width="0.18" letter-spacing="2.31" >J15</text>
<rect x="290.00" y="323.80" width="30.40" height="13.30" rx="0" ry="0" fill="#000"/>
<polygon points="318.11,326.65 332.50,304.90 318.33,331.38" fill="#fff" stroke="#000" stroke-width="1.80" stroke-linejoin="miter"/>
<rect x="290.00" y="323.80" width="29.20" height="13.30" rx="0.6" ry="0.6" fill="#fff"/>
<polygon points="319.02,326.90 322.58,321.53 319.08,328.07" fill="#fff"/>
<text transform="translate(293.39,333.75) scale(0.74,1)" font-size="13.9" fill="#000" stroke="#000" stroke-width="0.18" letter-spacing="3.20" >J16</text>
<rect x="321.80" y="337.10" width="32.20" height="17.90" rx="3.0" ry="3.0" fill="#000"/>
<polygon points="335.95,341.05 339.30,320.80 342.41,341.05" fill="#fff" stroke="#000" stroke-width="1.80" stroke-linejoin="miter"/>
<rect x="323.80" y="339.10" width="27.70" height="13.40" rx="1.4" ry="1.4" fill="#fff"/>
<polygon points="337.01,340.15 339.27,326.51 341.36,340.15" fill="#fff"/>
<text transform="translate(327.59,350.30) scale(0.74,1)" font-size="13.9" fill="#000" stroke="#000" stroke-width="0.18" letter-spacing="2.43" >J17</text>
<rect x="64.00" y="347.00" width="7.00" height="13.00" fill="#000" />
<rect x="66.00" y="353.00" width="4.00" height="1.00" fill="#fff" />
<rect x="65.00" y="349.00" width="1.00" height="10.00" fill="#fff" />
<rect x="65.00" y="358.00" width="5.00" height="1.00" fill="#fff" />
<rect x="72.00" y="347.00" width="7.00" height="13.00" fill="#000" />
<rect x="74.00" y="353.00" width="4.00" height="1.00" fill="#fff" />
<rect x="73.00" y="358.00" width="5.00" height="1.00" fill="#fff" />
<rect x="81.00" y="347.00" width="7.00" height="13.00" fill="#000" />
<rect x="83.00" y="353.00" width="4.00" height="1.00" fill="#fff" />
<rect x="82.00" y="358.00" width="5.00" height="1.00" fill="#fff" />
<rect x="89.00" y="347.00" width="7.00" height="13.00" fill="#000" />
<rect x="91.00" y="353.00" width="4.00" height="1.00" fill="#fff" />
<rect x="90.00" y="349.00" width="1.00" height="10.00" fill="#fff" />
<rect x="90.00" y="358.00" width="5.00" height="1.00" fill="#fff" />
<rect x="98.00" y="347.00" width="7.00" height="13.00" fill="#000" />
<rect x="100.00" y="353.00" width="4.00" height="1.00" fill="#fff" />
<rect x="103.00" y="349.00" width="1.00" height="10.00" fill="#fff" />
<rect x="99.00" y="358.00" width="5.00" height="1.00" fill="#fff" />
<rect x="106.00" y="347.00" width="7.00" height="13.00" fill="#000" />
<rect x="108.00" y="353.00" width="4.00" height="1.00" fill="#fff" />
<rect x="107.00" y="358.00" width="5.00" height="1.00" fill="#fff" />
<rect x="115.00" y="347.00" width="7.00" height="13.00" fill="#000" />
<rect x="117.00" y="353.00" width="4.00" height="1.00" fill="#fff" />
<rect x="120.00" y="349.00" width="1.00" height="10.00" fill="#fff" />
<rect x="116.00" y="358.00" width="5.00" height="1.00" fill="#fff" />
<rect x="7.20" y="344.20" width="41.80" height="18.50" rx="3.0" ry="3.0" fill="#000"/>
<polygon points="44.64,348.48 63.80,353.40 44.64,358.32" fill="#fff" stroke="#000" stroke-width="1.80" stroke-linejoin="miter"/>
<rect x="9.20" y="347.20" width="37.30" height="13.50" rx="1.4" ry="1.4" fill="#fff"/>
<polygon points="45.54,349.64 60.18,353.40 45.54,357.16" fill="#fff"/>
<text transform="translate(10.49,357.70) scale(0.74,1)" font-size="13.9" fill="#000" stroke="#000" stroke-width="0.18" letter-spacing="2.85" >J1-J7</text>
<rect x="131.00" y="347.00" width="7.00" height="19.00" fill="#000" />
<rect x="133.00" y="348.00" width="3.00" height="4.00" fill="#fff" />
<rect x="134.00" y="350.00" width="1.00" height="1.00" fill="#000" />
<rect x="134.00" y="354.00" width="2.00" height="1.00" fill="#fff" />
<rect x="134.00" y="359.00" width="2.00" height="1.00" fill="#fff" />
<rect x="135.00" y="354.00" width="1.00" height="10.00" fill="#fff" />
<rect x="132.00" y="364.00" width="4.00" height="1.00" fill="#fff" />
<rect x="146.00" y="347.00" width="7.00" height="19.00" fill="#000" />
<rect x="147.00" y="348.00" width="5.00" height="4.00" fill="#fff" />
<rect x="148.00" y="349.00" width="3.00" height="2.00" fill="#000" />
<rect x="147.00" y="359.00" width="5.00" height="1.00" fill="#fff" />
<rect x="146.00" y="373.00" width="7.00" height="26.00" fill="#000" />
<rect x="147.00" y="375.00" width="5.00" height="2.00" fill="#fff" />
<rect x="147.00" y="380.00" width="5.00" height="1.00" fill="#fff" />
<rect x="147.00" y="386.00" width="5.00" height="1.00" fill="#fff" />
<rect x="147.00" y="391.00" width="5.00" height="1.00" fill="#fff" />
<rect x="147.00" y="393.00" width="5.00" height="4.00" fill="#fff" />
<rect x="148.00" y="394.00" width="3.00" height="2.00" fill="#000" />
<rect x="122.60" y="311.30" width="24.50" height="18.00" rx="3.0" ry="3.0" fill="#000"/>
<polygon points="131.00,324.84 133.90,346.40 137.05,324.85" fill="#fff" stroke="#000" stroke-width="1.80" stroke-linejoin="miter"/>
<rect x="125.60" y="314.30" width="19.50" height="13.00" rx="1.4" ry="1.4" fill="#fff"/>
<polygon points="132.03,325.74 133.94,339.92 136.01,325.75" fill="#fff"/>
<text transform="translate(128.29,324.50) scale(0.74,1)" font-size="13.9" fill="#000" stroke="#000" stroke-width="0.18" letter-spacing="2.49" >J8</text>
<polygon points="172.68,353.16 153.50,356.30 172.68,359.23" fill="#fff" stroke="#000" stroke-width="1.80" stroke-linejoin="miter"/>
<rect x="171.20" y="350.00" width="20.40" height="13.60" rx="0" ry="0" fill="#fff"/>
<text transform="translate(173.94,360.00) scale(0.74,1)" font-size="13.9" fill="#000" stroke="#000" stroke-width="0.18" letter-spacing="3.76" >J9</text>
<polygon points="171.48,383.14 153.50,386.30 171.47,389.68" fill="#fff" stroke="#000" stroke-width="1.80" stroke-linejoin="miter"/>
<rect x="170.00" y="378.90" width="30.60" height="14.70" rx="0" ry="0" fill="#fff"/>
<text transform="translate(175.24,390.60) scale(0.74,1)" font-size="13.9" fill="#000" stroke="#000" stroke-width="0.18" letter-spacing="2.56" >J10</text>
<line x1="153.30" y1="356.30" x2="161.00" y2="353.20" stroke="#000" stroke-width="1.2" />
<line x1="153.30" y1="356.30" x2="161.00" y2="358.80" stroke="#000" stroke-width="1.2" />
<line x1="153.30" y1="386.30" x2="161.00" y2="383.30" stroke="#000" stroke-width="1.2" />
<line x1="153.30" y1="386.30" x2="161.00" y2="389.20" stroke="#000" stroke-width="1.2" />
<polyline points="130,369.5 141.5,376.5 141.5,436.5 149.8,441.5" fill="none" stroke="#000" stroke-width="1"/>
<polyline points="149.8,443.5 140.5,448 140.5,507.5 128.8,515.5" fill="none" stroke="#000" stroke-width="1"/>
<rect x="149.30" y="434.50" width="49.50" height="16.90" rx="3.0" ry="3.0" fill="#000"/>
<rect x="151.50" y="436.70" width="45.10" height="12.50" rx="1.4" ry="1.4" fill="#fff"/>
<text transform="translate(152.28,447.60) scale(0.74,1)" font-size="13.9" fill="#000" stroke="#000" stroke-width="0.18" letter-spacing="2.35" >CACHE</text>
<rect x="356.00" y="327.00" width="277.00" height="16.00" fill="#000" />
<rect x="357.00" y="328.00" width="275.00" height="14.00" fill="#fff" />
<rect x="379.00" y="330.00" width="231.00" height="11.00" fill="#000" />
<rect x="381.00" y="331.00" width="1.00" height="5.00" fill="#fff" />
<rect x="384.00" y="331.00" width="1.00" height="5.00" fill="#fff" />
<rect x="387.00" y="331.00" width="1.00" height="5.00" fill="#fff" />
<rect x="390.00" y="331.00" width="1.00" height="5.00" fill="#fff" />
<rect x="395.00" y="331.00" width="1.00" height="5.00" fill="#fff" />
<rect x="398.00" y="331.00" width="1.00" height="5.00" fill="#fff" />
<rect x="401.00" y="331.00" width="1.00" height="5.00" fill="#fff" />
<rect x="404.00" y="331.00" width="1.00" height="5.00" fill="#fff" />
<rect x="406.00" y="331.00" width="1.00" height="5.00" fill="#fff" />
<rect x="409.00" y="331.00" width="1.00" height="5.00" fill="#fff" />
<rect x="412.00" y="331.00" width="1.00" height="5.00" fill="#fff" />
<rect x="415.00" y="331.00" width="1.00" height="5.00" fill="#fff" />
<rect x="420.00" y="331.00" width="1.00" height="5.00" fill="#fff" />
<rect x="423.00" y="331.00" width="1.00" height="5.00" fill="#fff" />
<rect x="426.00" y="331.00" width="1.00" height="5.00" fill="#fff" />
<rect x="429.00" y="331.00" width="1.00" height="5.00" fill="#fff" />
<rect x="431.00" y="331.00" width="1.00" height="5.00" fill="#fff" />
<rect x="434.00" y="331.00" width="1.00" height="5.00" fill="#fff" />
<rect x="437.00" y="331.00" width="1.00" height="5.00" fill="#fff" />
<rect x="440.00" y="331.00" width="1.00" height="5.00" fill="#fff" />
<rect x="443.00" y="331.00" width="1.00" height="5.00" fill="#fff" />
<rect x="445.00" y="331.00" width="1.00" height="5.00" fill="#fff" />
<rect x="448.00" y="331.00" width="1.00" height="5.00" fill="#fff" />
<rect x="451.00" y="331.00" width="1.00" height="5.00" fill="#fff" />
<rect x="454.00" y="331.00" width="1.00" height="5.00" fill="#fff" />
<rect x="456.00" y="331.00" width="1.00" height="5.00" fill="#fff" />
<rect x="459.00" y="331.00" width="1.00" height="5.00" fill="#fff" />
<rect x="462.00" y="331.00" width="1.00" height="5.00" fill="#fff" />
<rect x="465.00" y="331.00" width="1.00" height="5.00" fill="#fff" />
<rect x="468.00" y="331.00" width="1.00" height="5.00" fill="#fff" />
<rect x="470.00" y="331.00" width="1.00" height="5.00" fill="#fff" />
<rect x="473.00" y="331.00" width="1.00" height="5.00" fill="#fff" />
<rect x="476.00" y="331.00" width="1.00" height="5.00" fill="#fff" />
<rect x="479.00" y="331.00" width="1.00" height="5.00" fill="#fff" />
<rect x="481.00" y="331.00" width="1.00" height="5.00" fill="#fff" />
<rect x="484.00" y="331.00" width="1.00" height="5.00" fill="#fff" />
<rect x="487.00" y="331.00" width="1.00" height="5.00" fill="#fff" />
<rect x="490.00" y="331.00" width="1.00" height="5.00" fill="#fff" />
<rect x="493.00" y="331.00" width="1.00" height="5.00" fill="#fff" />
<rect x="495.00" y="331.00" width="1.00" height="5.00" fill="#fff" />
<rect x="498.00" y="331.00" width="1.00" height="5.00" fill="#fff" />
<rect x="501.00" y="331.00" width="1.00" height="5.00" fill="#fff" />
<rect x="504.00" y="331.00" width="1.00" height="5.00" fill="#fff" />
<rect x="506.00" y="331.00" width="1.00" height="5.00" fill="#fff" />
<rect x="509.00" y="331.00" width="1.00" height="5.00" fill="#fff" />
<rect x="512.00" y="331.00" width="1.00" height="5.00" fill="#fff" />
<rect x="515.00" y="331.00" width="1.00" height="5.00" fill="#fff" />
<rect x="518.00" y="331.00" width="1.00" height="5.00" fill="#fff" />
<rect x="520.00" y="331.00" width="1.00" height="5.00" fill="#fff" />
<rect x="523.00" y="331.00" width="1.00" height="5.00" fill="#fff" />
<rect x="526.00" y="331.00" width="1.00" height="5.00" fill="#fff" />
<rect x="529.00" y="331.00" width="1.00" height="5.00" fill="#fff" />
<rect x="532.00" y="331.00" width="1.00" height="5.00" fill="#fff" />
<rect x="534.00" y="331.00" width="1.00" height="5.00" fill="#fff" />
<rect x="537.00" y="331.00" width="1.00" height="5.00" fill="#fff" />
<rect x="540.00" y="331.00" width="1.00" height="5.00" fill="#fff" />
<rect x="543.00" y="331.00" width="1.00" height="5.00" fill="#fff" />
<rect x="545.00" y="331.00" width="1.00" height="5.00" fill="#fff" />
<rect x="548.00" y="331.00" width="1.00" height="5.00" fill="#fff" />
<rect x="551.00" y="331.00" width="1.00" height="5.00" fill="#fff" />
<rect x="554.00" y="331.00" width="1.00" height="5.00" fill="#fff" />
<rect x="557.00" y="331.00" width="1.00" height="5.00" fill="#fff" />
<rect x="559.00" y="331.00" width="1.00" height="5.00" fill="#fff" />
<rect x="562.00" y="331.00" width="1.00" height="5.00" fill="#fff" />
<rect x="565.00" y="331.00" width="1.00" height="5.00" fill="#fff" />
<rect x="568.00" y="331.00" width="1.00" height="5.00" fill="#fff" />
<rect x="570.00" y="331.00" width="1.00" height="5.00" fill="#fff" />
<rect x="573.00" y="331.00" width="1.00" height="5.00" fill="#fff" />
<rect x="576.00" y="331.00" width="1.00" height="5.00" fill="#fff" />
<rect x="579.00" y="331.00" width="1.00" height="5.00" fill="#fff" />
<rect x="582.00" y="331.00" width="1.00" height="5.00" fill="#fff" />
<rect x="584.00" y="331.00" width="1.00" height="5.00" fill="#fff" />
<rect x="587.00" y="331.00" width="1.00" height="5.00" fill="#fff" />
<rect x="590.00" y="331.00" width="1.00" height="5.00" fill="#fff" />
<rect x="593.00" y="331.00" width="1.00" height="5.00" fill="#fff" />
<rect x="598.00" y="331.00" width="1.00" height="5.00" fill="#fff" />
<rect x="601.00" y="331.00" width="1.00" height="5.00" fill="#fff" />
<rect x="604.00" y="331.00" width="1.00" height="5.00" fill="#fff" />
<rect x="607.00" y="331.00" width="1.00" height="5.00" fill="#fff" />
<rect x="364.00" y="329.00" width="4.00" height="14.00" fill="#000" />
<rect x="622.00" y="329.00" width="4.00" height="14.00" fill="#000" />
<rect x="357.00" y="331.00" width="7.00" height="1.00" fill="#000" />
<rect x="626.00" y="331.00" width="7.00" height="1.00" fill="#000" />
<rect x="357.00" y="336.00" width="7.00" height="1.00" fill="#000" />
<rect x="626.00" y="336.00" width="7.00" height="1.00" fill="#000" />
<rect x="368.00" y="330.00" width="10.00" height="1.00" fill="#000" />
<rect x="612.00" y="330.00" width="10.00" height="1.00" fill="#000" />
<rect x="377.00" y="330.00" width="1.00" height="8.00" fill="#000" />
<rect x="612.00" y="330.00" width="1.00" height="8.00" fill="#000" />
<rect x="374.00" y="337.00" width="4.00" height="1.00" fill="#000" />
<rect x="612.00" y="337.00" width="4.00" height="1.00" fill="#000" />
<rect x="374.00" y="337.00" width="1.00" height="5.00" fill="#000" />
<rect x="615.00" y="337.00" width="1.00" height="5.00" fill="#000" />
<rect x="370.00" y="336.00" width="4.00" height="1.00" fill="#000" />
<rect x="616.00" y="336.00" width="4.00" height="1.00" fill="#000" />
<rect x="368.00" y="337.00" width="3.00" height="1.00" fill="#000" />
<rect x="619.00" y="337.00" width="3.00" height="1.00" fill="#000" />
<rect x="368.00" y="339.00" width="5.00" height="1.00" fill="#000" />
<rect x="617.00" y="339.00" width="5.00" height="1.00" fill="#000" />
<rect x="372.00" y="339.00" width="1.00" height="3.00" fill="#000" />
<rect x="617.00" y="339.00" width="1.00" height="3.00" fill="#000" />
<rect x="356.00" y="348.00" width="277.00" height="16.00" fill="#000" />
<rect x="357.00" y="349.00" width="275.00" height="14.00" fill="#fff" />
<rect x="379.00" y="351.00" width="231.00" height="11.00" fill="#000" />
<rect x="381.00" y="352.00" width="1.00" height="5.00" fill="#fff" />
<rect x="384.00" y="352.00" width="1.00" height="5.00" fill="#fff" />
<rect x="387.00" y="352.00" width="1.00" height="5.00" fill="#fff" />
<rect x="390.00" y="352.00" width="1.00" height="5.00" fill="#fff" />
<rect x="395.00" y="352.00" width="1.00" height="5.00" fill="#fff" />
<rect x="398.00" y="352.00" width="1.00" height="5.00" fill="#fff" />
<rect x="401.00" y="352.00" width="1.00" height="5.00" fill="#fff" />
<rect x="404.00" y="352.00" width="1.00" height="5.00" fill="#fff" />
<rect x="406.00" y="352.00" width="1.00" height="5.00" fill="#fff" />
<rect x="409.00" y="352.00" width="1.00" height="5.00" fill="#fff" />
<rect x="412.00" y="352.00" width="1.00" height="5.00" fill="#fff" />
<rect x="415.00" y="352.00" width="1.00" height="5.00" fill="#fff" />
<rect x="420.00" y="352.00" width="1.00" height="5.00" fill="#fff" />
<rect x="423.00" y="352.00" width="1.00" height="5.00" fill="#fff" />
<rect x="426.00" y="352.00" width="1.00" height="5.00" fill="#fff" />
<rect x="429.00" y="352.00" width="1.00" height="5.00" fill="#fff" />
<rect x="431.00" y="352.00" width="1.00" height="5.00" fill="#fff" />
<rect x="434.00" y="352.00" width="1.00" height="5.00" fill="#fff" />
<rect x="437.00" y="352.00" width="1.00" height="5.00" fill="#fff" />
<rect x="440.00" y="352.00" width="1.00" height="5.00" fill="#fff" />
<rect x="443.00" y="352.00" width="1.00" height="5.00" fill="#fff" />
<rect x="445.00" y="352.00" width="1.00" height="5.00" fill="#fff" />
<rect x="448.00" y="352.00" width="1.00" height="5.00" fill="#fff" />
<rect x="451.00" y="352.00" width="1.00" height="5.00" fill="#fff" />
<rect x="454.00" y="352.00" width="1.00" height="5.00" fill="#fff" />
<rect x="456.00" y="352.00" width="1.00" height="5.00" fill="#fff" />
<rect x="459.00" y="352.00" width="1.00" height="5.00" fill="#fff" />
<rect x="462.00" y="352.00" width="1.00" height="5.00" fill="#fff" />
<rect x="465.00" y="352.00" width="1.00" height="5.00" fill="#fff" />
<rect x="468.00" y="352.00" width="1.00" height="5.00" fill="#fff" />
<rect x="470.00" y="352.00" width="1.00" height="5.00" fill="#fff" />
<rect x="473.00" y="352.00" width="1.00" height="5.00" fill="#fff" />
<rect x="476.00" y="352.00" width="1.00" height="5.00" fill="#fff" />
<rect x="479.00" y="352.00" width="1.00" height="5.00" fill="#fff" />
<rect x="481.00" y="352.00" width="1.00" height="5.00" fill="#fff" />
<rect x="484.00" y="352.00" width="1.00" height="5.00" fill="#fff" />
<rect x="487.00" y="352.00" width="1.00" height="5.00" fill="#fff" />
<rect x="490.00" y="352.00" width="1.00" height="5.00" fill="#fff" />
<rect x="493.00" y="352.00" width="1.00" height="5.00" fill="#fff" />
<rect x="495.00" y="352.00" width="1.00" height="5.00" fill="#fff" />
<rect x="498.00" y="352.00" width="1.00" height="5.00" fill="#fff" />
<rect x="501.00" y="352.00" width="1.00" height="5.00" fill="#fff" />
<rect x="504.00" y="352.00" width="1.00" height="5.00" fill="#fff" />
<rect x="506.00" y="352.00" width="1.00" height="5.00" fill="#fff" />
<rect x="509.00" y="352.00" width="1.00" height="5.00" fill="#fff" />
<rect x="512.00" y="352.00" width="1.00" height="5.00" fill="#fff" />
<rect x="515.00" y="352.00" width="1.00" height="5.00" fill="#fff" />
<rect x="518.00" y="352.00" width="1.00" height="5.00" fill="#fff" />
<rect x="520.00" y="352.00" width="1.00" height="5.00" fill="#fff" />
<rect x="523.00" y="352.00" width="1.00" height="5.00" fill="#fff" />
<rect x="526.00" y="352.00" width="1.00" height="5.00" fill="#fff" />
<rect x="529.00" y="352.00" width="1.00" height="5.00" fill="#fff" />
<rect x="532.00" y="352.00" width="1.00" height="5.00" fill="#fff" />
<rect x="534.00" y="352.00" width="1.00" height="5.00" fill="#fff" />
<rect x="537.00" y="352.00" width="1.00" height="5.00" fill="#fff" />
<rect x="540.00" y="352.00" width="1.00" height="5.00" fill="#fff" />
<rect x="543.00" y="352.00" width="1.00" height="5.00" fill="#fff" />
<rect x="545.00" y="352.00" width="1.00" height="5.00" fill="#fff" />
<rect x="548.00" y="352.00" width="1.00" height="5.00" fill="#fff" />
<rect x="551.00" y="352.00" width="1.00" height="5.00" fill="#fff" />
<rect x="554.00" y="352.00" width="1.00" height="5.00" fill="#fff" />
<rect x="557.00" y="352.00" width="1.00" height="5.00" fill="#fff" />
<rect x="559.00" y="352.00" width="1.00" height="5.00" fill="#fff" />
<rect x="562.00" y="352.00" width="1.00" height="5.00" fill="#fff" />
<rect x="565.00" y="352.00" width="1.00" height="5.00" fill="#fff" />
<rect x="568.00" y="352.00" width="1.00" height="5.00" fill="#fff" />
<rect x="570.00" y="352.00" width="1.00" height="5.00" fill="#fff" />
<rect x="573.00" y="352.00" width="1.00" height="5.00" fill="#fff" />
<rect x="576.00" y="352.00" width="1.00" height="5.00" fill="#fff" />
<rect x="579.00" y="352.00" width="1.00" height="5.00" fill="#fff" />
<rect x="582.00" y="352.00" width="1.00" height="5.00" fill="#fff" />
<rect x="584.00" y="352.00" width="1.00" height="5.00" fill="#fff" />
<rect x="587.00" y="352.00" width="1.00" height="5.00" fill="#fff" />
<rect x="590.00" y="352.00" width="1.00" height="5.00" fill="#fff" />
<rect x="593.00" y="352.00" width="1.00" height="5.00" fill="#fff" />
<rect x="598.00" y="352.00" width="1.00" height="5.00" fill="#fff" />
<rect x="601.00" y="352.00" width="1.00" height="5.00" fill="#fff" />
<rect x="604.00" y="352.00" width="1.00" height="5.00" fill="#fff" />
<rect x="607.00" y="352.00" width="1.00" height="5.00" fill="#fff" />
<rect x="364.00" y="350.00" width="4.00" height="14.00" fill="#000" />
<rect x="622.00" y="350.00" width="4.00" height="14.00" fill="#000" />
<rect x="357.00" y="352.00" width="7.00" height="1.00" fill="#000" />
<rect x="626.00" y="352.00" width="7.00" height="1.00" fill="#000" />
<rect x="357.00" y="357.00" width="7.00" height="1.00" fill="#000" />
<rect x="626.00" y="357.00" width="7.00" height="1.00" fill="#000" />
<rect x="368.00" y="351.00" width="10.00" height="1.00" fill="#000" />
<rect x="612.00" y="351.00" width="10.00" height="1.00" fill="#000" />
<rect x="377.00" y="351.00" width="1.00" height="8.00" fill="#000" />
<rect x="612.00" y="351.00" width="1.00" height="8.00" fill="#000" />
<rect x="374.00" y="358.00" width="4.00" height="1.00" fill="#000" />
<rect x="612.00" y="358.00" width="4.00" height="1.00" fill="#000" />
<rect x="374.00" y="358.00" width="1.00" height="5.00" fill="#000" />
<rect x="615.00" y="358.00" width="1.00" height="5.00" fill="#000" />
<rect x="370.00" y="357.00" width="4.00" height="1.00" fill="#000" />
<rect x="616.00" y="357.00" width="4.00" height="1.00" fill="#000" />
<rect x="368.00" y="358.00" width="3.00" height="1.00" fill="#000" />
<rect x="619.00" y="358.00" width="3.00" height="1.00" fill="#000" />
<rect x="368.00" y="360.00" width="5.00" height="1.00" fill="#000" />
<rect x="617.00" y="360.00" width="5.00" height="1.00" fill="#000" />
<rect x="372.00" y="360.00" width="1.00" height="3.00" fill="#000" />
<rect x="617.00" y="360.00" width="1.00" height="3.00" fill="#000" />
<rect x="356.00" y="370.00" width="277.00" height="16.00" fill="#000" />
<rect x="357.00" y="371.00" width="275.00" height="14.00" fill="#fff" />
<rect x="379.00" y="373.00" width="231.00" height="11.00" fill="#000" />
<rect x="381.00" y="374.00" width="1.00" height="5.00" fill="#fff" />
<rect x="384.00" y="374.00" width="1.00" height="5.00" fill="#fff" />
<rect x="387.00" y="374.00" width="1.00" height="5.00" fill="#fff" />
<rect x="390.00" y="374.00" width="1.00" height="5.00" fill="#fff" />
<rect x="395.00" y="374.00" width="1.00" height="5.00" fill="#fff" />
<rect x="398.00" y="374.00" width="1.00" height="5.00" fill="#fff" />
<rect x="401.00" y="374.00" width="1.00" height="5.00" fill="#fff" />
<rect x="404.00" y="374.00" width="1.00" height="5.00" fill="#fff" />
<rect x="406.00" y="374.00" width="1.00" height="5.00" fill="#fff" />
<rect x="409.00" y="374.00" width="1.00" height="5.00" fill="#fff" />
<rect x="412.00" y="374.00" width="1.00" height="5.00" fill="#fff" />
<rect x="415.00" y="374.00" width="1.00" height="5.00" fill="#fff" />
<rect x="420.00" y="374.00" width="1.00" height="5.00" fill="#fff" />
<rect x="423.00" y="374.00" width="1.00" height="5.00" fill="#fff" />
<rect x="426.00" y="374.00" width="1.00" height="5.00" fill="#fff" />
<rect x="429.00" y="374.00" width="1.00" height="5.00" fill="#fff" />
<rect x="431.00" y="374.00" width="1.00" height="5.00" fill="#fff" />
<rect x="434.00" y="374.00" width="1.00" height="5.00" fill="#fff" />
<rect x="437.00" y="374.00" width="1.00" height="5.00" fill="#fff" />
<rect x="440.00" y="374.00" width="1.00" height="5.00" fill="#fff" />
<rect x="443.00" y="374.00" width="1.00" height="5.00" fill="#fff" />
<rect x="445.00" y="374.00" width="1.00" height="5.00" fill="#fff" />
<rect x="448.00" y="374.00" width="1.00" height="5.00" fill="#fff" />
<rect x="451.00" y="374.00" width="1.00" height="5.00" fill="#fff" />
<rect x="454.00" y="374.00" width="1.00" height="5.00" fill="#fff" />
<rect x="456.00" y="374.00" width="1.00" height="5.00" fill="#fff" />
<rect x="459.00" y="374.00" width="1.00" height="5.00" fill="#fff" />
<rect x="462.00" y="374.00" width="1.00" height="5.00" fill="#fff" />
<rect x="465.00" y="374.00" width="1.00" height="5.00" fill="#fff" />
<rect x="468.00" y="374.00" width="1.00" height="5.00" fill="#fff" />
<rect x="470.00" y="374.00" width="1.00" height="5.00" fill="#fff" />
<rect x="473.00" y="374.00" width="1.00" height="5.00" fill="#fff" />
<rect x="476.00" y="374.00" width="1.00" height="5.00" fill="#fff" />
<rect x="479.00" y="374.00" width="1.00" height="5.00" fill="#fff" />
<rect x="481.00" y="374.00" width="1.00" height="5.00" fill="#fff" />
<rect x="484.00" y="374.00" width="1.00" height="5.00" fill="#fff" />
<rect x="487.00" y="374.00" width="1.00" height="5.00" fill="#fff" />
<rect x="490.00" y="374.00" width="1.00" height="5.00" fill="#fff" />
<rect x="493.00" y="374.00" width="1.00" height="5.00" fill="#fff" />
<rect x="495.00" y="374.00" width="1.00" height="5.00" fill="#fff" />
<rect x="498.00" y="374.00" width="1.00" height="5.00" fill="#fff" />
<rect x="501.00" y="374.00" width="1.00" height="5.00" fill="#fff" />
<rect x="504.00" y="374.00" width="1.00" height="5.00" fill="#fff" />
<rect x="506.00" y="374.00" width="1.00" height="5.00" fill="#fff" />
<rect x="509.00" y="374.00" width="1.00" height="5.00" fill="#fff" />
<rect x="512.00" y="374.00" width="1.00" height="5.00" fill="#fff" />
<rect x="515.00" y="374.00" width="1.00" height="5.00" fill="#fff" />
<rect x="518.00" y="374.00" width="1.00" height="5.00" fill="#fff" />
<rect x="520.00" y="374.00" width="1.00" height="5.00" fill="#fff" />
<rect x="523.00" y="374.00" width="1.00" height="5.00" fill="#fff" />
<rect x="526.00" y="374.00" width="1.00" height="5.00" fill="#fff" />
<rect x="529.00" y="374.00" width="1.00" height="5.00" fill="#fff" />
<rect x="532.00" y="374.00" width="1.00" height="5.00" fill="#fff" />
<rect x="534.00" y="374.00" width="1.00" height="5.00" fill="#fff" />
<rect x="537.00" y="374.00" width="1.00" height="5.00" fill="#fff" />
<rect x="540.00" y="374.00" width="1.00" height="5.00" fill="#fff" />
<rect x="543.00" y="374.00" width="1.00" height="5.00" fill="#fff" />
<rect x="545.00" y="374.00" width="1.00" height="5.00" fill="#fff" />
<rect x="548.00" y="374.00" width="1.00" height="5.00" fill="#fff" />
<rect x="551.00" y="374.00" width="1.00" height="5.00" fill="#fff" />
<rect x="554.00" y="374.00" width="1.00" height="5.00" fill="#fff" />
<rect x="557.00" y="374.00" width="1.00" height="5.00" fill="#fff" />
<rect x="559.00" y="374.00" width="1.00" height="5.00" fill="#fff" />
<rect x="562.00" y="374.00" width="1.00" height="5.00" fill="#fff" />
<rect x="565.00" y="374.00" width="1.00" height="5.00" fill="#fff" />
<rect x="568.00" y="374.00" width="1.00" height="5.00" fill="#fff" />
<rect x="570.00" y="374.00" width="1.00" height="5.00" fill="#fff" />
<rect x="573.00" y="374.00" width="1.00" height="5.00" fill="#fff" />
<rect x="576.00" y="374.00" width="1.00" height="5.00" fill="#fff" />
<rect x="579.00" y="374.00" width="1.00" height="5.00" fill="#fff" />
<rect x="582.00" y="374.00" width="1.00" height="5.00" fill="#fff" />
<rect x="584.00" y="374.00" width="1.00" height="5.00" fill="#fff" />
<rect x="587.00" y="374.00" width="1.00" height="5.00" fill="#fff" />
<rect x="590.00" y="374.00" width="1.00" height="5.00" fill="#fff" />
<rect x="593.00" y="374.00" width="1.00" height="5.00" fill="#fff" />
<rect x="598.00" y="374.00" width="1.00" height="5.00" fill="#fff" />
<rect x="601.00" y="374.00" width="1.00" height="5.00" fill="#fff" />
<rect x="604.00" y="374.00" width="1.00" height="5.00" fill="#fff" />
<rect x="607.00" y="374.00" width="1.00" height="5.00" fill="#fff" />
<rect x="364.00" y="372.00" width="4.00" height="14.00" fill="#000" />
<rect x="622.00" y="372.00" width="4.00" height="14.00" fill="#000" />
<rect x="357.00" y="374.00" width="7.00" height="1.00" fill="#000" />
<rect x="626.00" y="374.00" width="7.00" height="1.00" fill="#000" />
<rect x="357.00" y="379.00" width="7.00" height="1.00" fill="#000" />
<rect x="626.00" y="379.00" width="7.00" height="1.00" fill="#000" />
<rect x="368.00" y="373.00" width="10.00" height="1.00" fill="#000" />
<rect x="612.00" y="373.00" width="10.00" height="1.00" fill="#000" />
<rect x="377.00" y="373.00" width="1.00" height="8.00" fill="#000" />
<rect x="612.00" y="373.00" width="1.00" height="8.00" fill="#000" />
<rect x="374.00" y="380.00" width="4.00" height="1.00" fill="#000" />
<rect x="612.00" y="380.00" width="4.00" height="1.00" fill="#000" />
<rect x="374.00" y="380.00" width="1.00" height="5.00" fill="#000" />
<rect x="615.00" y="380.00" width="1.00" height="5.00" fill="#000" />
<rect x="370.00" y="379.00" width="4.00" height="1.00" fill="#000" />
<rect x="616.00" y="379.00" width="4.00" height="1.00" fill="#000" />
<rect x="368.00" y="380.00" width="3.00" height="1.00" fill="#000" />
<rect x="619.00" y="380.00" width="3.00" height="1.00" fill="#000" />
<rect x="368.00" y="382.00" width="5.00" height="1.00" fill="#000" />
<rect x="617.00" y="382.00" width="5.00" height="1.00" fill="#000" />
<rect x="372.00" y="382.00" width="1.00" height="3.00" fill="#000" />
<rect x="617.00" y="382.00" width="1.00" height="3.00" fill="#000" />
<rect x="356.00" y="392.00" width="277.00" height="16.00" fill="#000" />
<rect x="357.00" y="393.00" width="275.00" height="14.00" fill="#fff" />
<rect x="379.00" y="395.00" width="231.00" height="11.00" fill="#000" />
<rect x="381.00" y="396.00" width="1.00" height="5.00" fill="#fff" />
<rect x="384.00" y="396.00" width="1.00" height="5.00" fill="#fff" />
<rect x="387.00" y="396.00" width="1.00" height="5.00" fill="#fff" />
<rect x="390.00" y="396.00" width="1.00" height="5.00" fill="#fff" />
<rect x="395.00" y="396.00" width="1.00" height="5.00" fill="#fff" />
<rect x="398.00" y="396.00" width="1.00" height="5.00" fill="#fff" />
<rect x="401.00" y="396.00" width="1.00" height="5.00" fill="#fff" />
<rect x="404.00" y="396.00" width="1.00" height="5.00" fill="#fff" />
<rect x="406.00" y="396.00" width="1.00" height="5.00" fill="#fff" />
<rect x="409.00" y="396.00" width="1.00" height="5.00" fill="#fff" />
<rect x="412.00" y="396.00" width="1.00" height="5.00" fill="#fff" />
<rect x="415.00" y="396.00" width="1.00" height="5.00" fill="#fff" />
<rect x="420.00" y="396.00" width="1.00" height="5.00" fill="#fff" />
<rect x="423.00" y="396.00" width="1.00" height="5.00" fill="#fff" />
<rect x="426.00" y="396.00" width="1.00" height="5.00" fill="#fff" />
<rect x="429.00" y="396.00" width="1.00" height="5.00" fill="#fff" />
<rect x="431.00" y="396.00" width="1.00" height="5.00" fill="#fff" />
<rect x="434.00" y="396.00" width="1.00" height="5.00" fill="#fff" />
<rect x="437.00" y="396.00" width="1.00" height="5.00" fill="#fff" />
<rect x="440.00" y="396.00" width="1.00" height="5.00" fill="#fff" />
<rect x="443.00" y="396.00" width="1.00" height="5.00" fill="#fff" />
<rect x="445.00" y="396.00" width="1.00" height="5.00" fill="#fff" />
<rect x="448.00" y="396.00" width="1.00" height="5.00" fill="#fff" />
<rect x="451.00" y="396.00" width="1.00" height="5.00" fill="#fff" />
<rect x="454.00" y="396.00" width="1.00" height="5.00" fill="#fff" />
<rect x="456.00" y="396.00" width="1.00" height="5.00" fill="#fff" />
<rect x="459.00" y="396.00" width="1.00" height="5.00" fill="#fff" />
<rect x="462.00" y="396.00" width="1.00" height="5.00" fill="#fff" />
<rect x="465.00" y="396.00" width="1.00" height="5.00" fill="#fff" />
<rect x="468.00" y="396.00" width="1.00" height="5.00" fill="#fff" />
<rect x="470.00" y="396.00" width="1.00" height="5.00" fill="#fff" />
<rect x="473.00" y="396.00" width="1.00" height="5.00" fill="#fff" />
<rect x="476.00" y="396.00" width="1.00" height="5.00" fill="#fff" />
<rect x="479.00" y="396.00" width="1.00" height="5.00" fill="#fff" />
<rect x="481.00" y="396.00" width="1.00" height="5.00" fill="#fff" />
<rect x="484.00" y="396.00" width="1.00" height="5.00" fill="#fff" />
<rect x="487.00" y="396.00" width="1.00" height="5.00" fill="#fff" />
<rect x="490.00" y="396.00" width="1.00" height="5.00" fill="#fff" />
<rect x="493.00" y="396.00" width="1.00" height="5.00" fill="#fff" />
<rect x="495.00" y="396.00" width="1.00" height="5.00" fill="#fff" />
<rect x="498.00" y="396.00" width="1.00" height="5.00" fill="#fff" />
<rect x="501.00" y="396.00" width="1.00" height="5.00" fill="#fff" />
<rect x="504.00" y="396.00" width="1.00" height="5.00" fill="#fff" />
<rect x="506.00" y="396.00" width="1.00" height="5.00" fill="#fff" />
<rect x="509.00" y="396.00" width="1.00" height="5.00" fill="#fff" />
<rect x="512.00" y="396.00" width="1.00" height="5.00" fill="#fff" />
<rect x="515.00" y="396.00" width="1.00" height="5.00" fill="#fff" />
<rect x="518.00" y="396.00" width="1.00" height="5.00" fill="#fff" />
<rect x="520.00" y="396.00" width="1.00" height="5.00" fill="#fff" />
<rect x="523.00" y="396.00" width="1.00" height="5.00" fill="#fff" />
<rect x="526.00" y="396.00" width="1.00" height="5.00" fill="#fff" />
<rect x="529.00" y="396.00" width="1.00" height="5.00" fill="#fff" />
<rect x="532.00" y="396.00" width="1.00" height="5.00" fill="#fff" />
<rect x="534.00" y="396.00" width="1.00" height="5.00" fill="#fff" />
<rect x="537.00" y="396.00" width="1.00" height="5.00" fill="#fff" />
<rect x="540.00" y="396.00" width="1.00" height="5.00" fill="#fff" />
<rect x="543.00" y="396.00" width="1.00" height="5.00" fill="#fff" />
<rect x="545.00" y="396.00" width="1.00" height="5.00" fill="#fff" />
<rect x="548.00" y="396.00" width="1.00" height="5.00" fill="#fff" />
<rect x="551.00" y="396.00" width="1.00" height="5.00" fill="#fff" />
<rect x="554.00" y="396.00" width="1.00" height="5.00" fill="#fff" />
<rect x="557.00" y="396.00" width="1.00" height="5.00" fill="#fff" />
<rect x="559.00" y="396.00" width="1.00" height="5.00" fill="#fff" />
<rect x="562.00" y="396.00" width="1.00" height="5.00" fill="#fff" />
<rect x="565.00" y="396.00" width="1.00" height="5.00" fill="#fff" />
<rect x="568.00" y="396.00" width="1.00" height="5.00" fill="#fff" />
<rect x="570.00" y="396.00" width="1.00" height="5.00" fill="#fff" />
<rect x="573.00" y="396.00" width="1.00" height="5.00" fill="#fff" />
<rect x="576.00" y="396.00" width="1.00" height="5.00" fill="#fff" />
<rect x="579.00" y="396.00" width="1.00" height="5.00" fill="#fff" />
<rect x="582.00" y="396.00" width="1.00" height="5.00" fill="#fff" />
<rect x="584.00" y="396.00" width="1.00" height="5.00" fill="#fff" />
<rect x="587.00" y="396.00" width="1.00" height="5.00" fill="#fff" />
<rect x="590.00" y="396.00" width="1.00" height="5.00" fill="#fff" />
<rect x="593.00" y="396.00" width="1.00" height="5.00" fill="#fff" />
<rect x="598.00" y="396.00" width="1.00" height="5.00" fill="#fff" />
<rect x="601.00" y="396.00" width="1.00" height="5.00" fill="#fff" />
<rect x="604.00" y="396.00" width="1.00" height="5.00" fill="#fff" />
<rect x="607.00" y="396.00" width="1.00" height="5.00" fill="#fff" />
<rect x="364.00" y="394.00" width="4.00" height="14.00" fill="#000" />
<rect x="622.00" y="394.00" width="4.00" height="14.00" fill="#000" />
<rect x="357.00" y="396.00" width="7.00" height="1.00" fill="#000" />
<rect x="626.00" y="396.00" width="7.00" height="1.00" fill="#000" />
<rect x="357.00" y="401.00" width="7.00" height="1.00" fill="#000" />
<rect x="626.00" y="401.00" width="7.00" height="1.00" fill="#000" />
<rect x="368.00" y="395.00" width="10.00" height="1.00" fill="#000" />
<rect x="612.00" y="395.00" width="10.00" height="1.00" fill="#000" />
<rect x="377.00" y="395.00" width="1.00" height="8.00" fill="#000" />
<rect x="612.00" y="395.00" width="1.00" height="8.00" fill="#000" />
<rect x="374.00" y="402.00" width="4.00" height="1.00" fill="#000" />
<rect x="612.00" y="402.00" width="4.00" height="1.00" fill="#000" />
<rect x="374.00" y="402.00" width="1.00" height="5.00" fill="#000" />
<rect x="615.00" y="402.00" width="1.00" height="5.00" fill="#000" />
<rect x="370.00" y="401.00" width="4.00" height="1.00" fill="#000" />
<rect x="616.00" y="401.00" width="4.00" height="1.00" fill="#000" />
<rect x="368.00" y="402.00" width="3.00" height="1.00" fill="#000" />
<rect x="619.00" y="402.00" width="3.00" height="1.00" fill="#000" />
<rect x="368.00" y="404.00" width="5.00" height="1.00" fill="#000" />
<rect x="617.00" y="404.00" width="5.00" height="1.00" fill="#000" />
<rect x="372.00" y="404.00" width="1.00" height="3.00" fill="#000" />
<rect x="617.00" y="404.00" width="1.00" height="3.00" fill="#000" />
<rect x="356.00" y="414.00" width="277.00" height="16.00" fill="#000" />
<rect x="357.00" y="415.00" width="275.00" height="14.00" fill="#fff" />
<rect x="379.00" y="417.00" width="231.00" height="11.00" fill="#000" />
<rect x="381.00" y="418.00" width="1.00" height="5.00" fill="#fff" />
<rect x="384.00" y="418.00" width="1.00" height="5.00" fill="#fff" />
<rect x="387.00" y="418.00" width="1.00" height="5.00" fill="#fff" />
<rect x="390.00" y="418.00" width="1.00" height="5.00" fill="#fff" />
<rect x="395.00" y="418.00" width="1.00" height="5.00" fill="#fff" />
<rect x="398.00" y="418.00" width="1.00" height="5.00" fill="#fff" />
<rect x="401.00" y="418.00" width="1.00" height="5.00" fill="#fff" />
<rect x="404.00" y="418.00" width="1.00" height="5.00" fill="#fff" />
<rect x="406.00" y="418.00" width="1.00" height="5.00" fill="#fff" />
<rect x="409.00" y="418.00" width="1.00" height="5.00" fill="#fff" />
<rect x="412.00" y="418.00" width="1.00" height="5.00" fill="#fff" />
<rect x="415.00" y="418.00" width="1.00" height="5.00" fill="#fff" />
<rect x="420.00" y="418.00" width="1.00" height="5.00" fill="#fff" />
<rect x="423.00" y="418.00" width="1.00" height="5.00" fill="#fff" />
<rect x="426.00" y="418.00" width="1.00" height="5.00" fill="#fff" />
<rect x="429.00" y="418.00" width="1.00" height="5.00" fill="#fff" />
<rect x="431.00" y="418.00" width="1.00" height="5.00" fill="#fff" />
<rect x="434.00" y="418.00" width="1.00" height="5.00" fill="#fff" />
<rect x="437.00" y="418.00" width="1.00" height="5.00" fill="#fff" />
<rect x="440.00" y="418.00" width="1.00" height="5.00" fill="#fff" />
<rect x="443.00" y="418.00" width="1.00" height="5.00" fill="#fff" />
<rect x="445.00" y="418.00" width="1.00" height="5.00" fill="#fff" />
<rect x="448.00" y="418.00" width="1.00" height="5.00" fill="#fff" />
<rect x="451.00" y="418.00" width="1.00" height="5.00" fill="#fff" />
<rect x="454.00" y="418.00" width="1.00" height="5.00" fill="#fff" />
<rect x="456.00" y="418.00" width="1.00" height="5.00" fill="#fff" />
<rect x="459.00" y="418.00" width="1.00" height="5.00" fill="#fff" />
<rect x="462.00" y="418.00" width="1.00" height="5.00" fill="#fff" />
<rect x="465.00" y="418.00" width="1.00" height="5.00" fill="#fff" />
<rect x="468.00" y="418.00" width="1.00" height="5.00" fill="#fff" />
<rect x="470.00" y="418.00" width="1.00" height="5.00" fill="#fff" />
<rect x="473.00" y="418.00" width="1.00" height="5.00" fill="#fff" />
<rect x="476.00" y="418.00" width="1.00" height="5.00" fill="#fff" />
<rect x="479.00" y="418.00" width="1.00" height="5.00" fill="#fff" />
<rect x="481.00" y="418.00" width="1.00" height="5.00" fill="#fff" />
<rect x="484.00" y="418.00" width="1.00" height="5.00" fill="#fff" />
<rect x="487.00" y="418.00" width="1.00" height="5.00" fill="#fff" />
<rect x="490.00" y="418.00" width="1.00" height="5.00" fill="#fff" />
<rect x="493.00" y="418.00" width="1.00" height="5.00" fill="#fff" />
<rect x="495.00" y="418.00" width="1.00" height="5.00" fill="#fff" />
<rect x="498.00" y="418.00" width="1.00" height="5.00" fill="#fff" />
<rect x="501.00" y="418.00" width="1.00" height="5.00" fill="#fff" />
<rect x="504.00" y="418.00" width="1.00" height="5.00" fill="#fff" />
<rect x="506.00" y="418.00" width="1.00" height="5.00" fill="#fff" />
<rect x="509.00" y="418.00" width="1.00" height="5.00" fill="#fff" />
<rect x="512.00" y="418.00" width="1.00" height="5.00" fill="#fff" />
<rect x="515.00" y="418.00" width="1.00" height="5.00" fill="#fff" />
<rect x="518.00" y="418.00" width="1.00" height="5.00" fill="#fff" />
<rect x="520.00" y="418.00" width="1.00" height="5.00" fill="#fff" />
<rect x="523.00" y="418.00" width="1.00" height="5.00" fill="#fff" />
<rect x="526.00" y="418.00" width="1.00" height="5.00" fill="#fff" />
<rect x="529.00" y="418.00" width="1.00" height="5.00" fill="#fff" />
<rect x="532.00" y="418.00" width="1.00" height="5.00" fill="#fff" />
<rect x="534.00" y="418.00" width="1.00" height="5.00" fill="#fff" />
<rect x="537.00" y="418.00" width="1.00" height="5.00" fill="#fff" />
<rect x="540.00" y="418.00" width="1.00" height="5.00" fill="#fff" />
<rect x="543.00" y="418.00" width="1.00" height="5.00" fill="#fff" />
<rect x="545.00" y="418.00" width="1.00" height="5.00" fill="#fff" />
<rect x="548.00" y="418.00" width="1.00" height="5.00" fill="#fff" />
<rect x="551.00" y="418.00" width="1.00" height="5.00" fill="#fff" />
<rect x="554.00" y="418.00" width="1.00" height="5.00" fill="#fff" />
<rect x="557.00" y="418.00" width="1.00" height="5.00" fill="#fff" />
<rect x="559.00" y="418.00" width="1.00" height="5.00" fill="#fff" />
<rect x="562.00" y="418.00" width="1.00" height="5.00" fill="#fff" />
<rect x="565.00" y="418.00" width="1.00" height="5.00" fill="#fff" />
<rect x="568.00" y="418.00" width="1.00" height="5.00" fill="#fff" />
<rect x="570.00" y="418.00" width="1.00" height="5.00" fill="#fff" />
<rect x="573.00" y="418.00" width="1.00" height="5.00" fill="#fff" />
<rect x="576.00" y="418.00" width="1.00" height="5.00" fill="#fff" />
<rect x="579.00" y="418.00" width="1.00" height="5.00" fill="#fff" />
<rect x="582.00" y="418.00" width="1.00" height="5.00" fill="#fff" />
<rect x="584.00" y="418.00" width="1.00" height="5.00" fill="#fff" />
<rect x="587.00" y="418.00" width="1.00" height="5.00" fill="#fff" />
<rect x="590.00" y="418.00" width="1.00" height="5.00" fill="#fff" />
<rect x="593.00" y="418.00" width="1.00" height="5.00" fill="#fff" />
<rect x="598.00" y="418.00" width="1.00" height="5.00" fill="#fff" />
<rect x="601.00" y="418.00" width="1.00" height="5.00" fill="#fff" />
<rect x="604.00" y="418.00" width="1.00" height="5.00" fill="#fff" />
<rect x="607.00" y="418.00" width="1.00" height="5.00" fill="#fff" />
<rect x="364.00" y="416.00" width="4.00" height="14.00" fill="#000" />
<rect x="622.00" y="416.00" width="4.00" height="14.00" fill="#000" />
<rect x="357.00" y="418.00" width="7.00" height="1.00" fill="#000" />
<rect x="626.00" y="418.00" width="7.00" height="1.00" fill="#000" />
<rect x="357.00" y="423.00" width="7.00" height="1.00" fill="#000" />
<rect x="626.00" y="423.00" width="7.00" height="1.00" fill="#000" />
<rect x="368.00" y="417.00" width="10.00" height="1.00" fill="#000" />
<rect x="612.00" y="417.00" width="10.00" height="1.00" fill="#000" />
<rect x="377.00" y="417.00" width="1.00" height="8.00" fill="#000" />
<rect x="612.00" y="417.00" width="1.00" height="8.00" fill="#000" />
<rect x="374.00" y="424.00" width="4.00" height="1.00" fill="#000" />
<rect x="612.00" y="424.00" width="4.00" height="1.00" fill="#000" />
<rect x="374.00" y="424.00" width="1.00" height="5.00" fill="#000" />
<rect x="615.00" y="424.00" width="1.00" height="5.00" fill="#000" />
<rect x="370.00" y="423.00" width="4.00" height="1.00" fill="#000" />
<rect x="616.00" y="423.00" width="4.00" height="1.00" fill="#000" />
<rect x="368.00" y="424.00" width="3.00" height="1.00" fill="#000" />
<rect x="619.00" y="424.00" width="3.00" height="1.00" fill="#000" />
<rect x="368.00" y="426.00" width="5.00" height="1.00" fill="#000" />
<rect x="617.00" y="426.00" width="5.00" height="1.00" fill="#000" />
<rect x="372.00" y="426.00" width="1.00" height="3.00" fill="#000" />
<rect x="617.00" y="426.00" width="1.00" height="3.00" fill="#000" />
<rect x="356.00" y="434.00" width="277.00" height="16.00" fill="#000" />
<rect x="357.00" y="435.00" width="275.00" height="14.00" fill="#fff" />
<rect x="379.00" y="437.00" width="231.00" height="11.00" fill="#000" />
<rect x="381.00" y="438.00" width="1.00" height="5.00" fill="#fff" />
<rect x="384.00" y="438.00" width="1.00" height="5.00" fill="#fff" />
<rect x="387.00" y="438.00" width="1.00" height="5.00" fill="#fff" />
<rect x="390.00" y="438.00" width="1.00" height="5.00" fill="#fff" />
<rect x="395.00" y="438.00" width="1.00" height="5.00" fill="#fff" />
<rect x="398.00" y="438.00" width="1.00" height="5.00" fill="#fff" />
<rect x="401.00" y="438.00" width="1.00" height="5.00" fill="#fff" />
<rect x="404.00" y="438.00" width="1.00" height="5.00" fill="#fff" />
<rect x="406.00" y="438.00" width="1.00" height="5.00" fill="#fff" />
<rect x="409.00" y="438.00" width="1.00" height="5.00" fill="#fff" />
<rect x="412.00" y="438.00" width="1.00" height="5.00" fill="#fff" />
<rect x="415.00" y="438.00" width="1.00" height="5.00" fill="#fff" />
<rect x="420.00" y="438.00" width="1.00" height="5.00" fill="#fff" />
<rect x="423.00" y="438.00" width="1.00" height="5.00" fill="#fff" />
<rect x="426.00" y="438.00" width="1.00" height="5.00" fill="#fff" />
<rect x="429.00" y="438.00" width="1.00" height="5.00" fill="#fff" />
<rect x="431.00" y="438.00" width="1.00" height="5.00" fill="#fff" />
<rect x="434.00" y="438.00" width="1.00" height="5.00" fill="#fff" />
<rect x="437.00" y="438.00" width="1.00" height="5.00" fill="#fff" />
<rect x="440.00" y="438.00" width="1.00" height="5.00" fill="#fff" />
<rect x="443.00" y="438.00" width="1.00" height="5.00" fill="#fff" />
<rect x="445.00" y="438.00" width="1.00" height="5.00" fill="#fff" />
<rect x="448.00" y="438.00" width="1.00" height="5.00" fill="#fff" />
<rect x="451.00" y="438.00" width="1.00" height="5.00" fill="#fff" />
<rect x="454.00" y="438.00" width="1.00" height="5.00" fill="#fff" />
<rect x="456.00" y="438.00" width="1.00" height="5.00" fill="#fff" />
<rect x="459.00" y="438.00" width="1.00" height="5.00" fill="#fff" />
<rect x="462.00" y="438.00" width="1.00" height="5.00" fill="#fff" />
<rect x="465.00" y="438.00" width="1.00" height="5.00" fill="#fff" />
<rect x="468.00" y="438.00" width="1.00" height="5.00" fill="#fff" />
<rect x="470.00" y="438.00" width="1.00" height="5.00" fill="#fff" />
<rect x="473.00" y="438.00" width="1.00" height="5.00" fill="#fff" />
<rect x="476.00" y="438.00" width="1.00" height="5.00" fill="#fff" />
<rect x="479.00" y="438.00" width="1.00" height="5.00" fill="#fff" />
<rect x="481.00" y="438.00" width="1.00" height="5.00" fill="#fff" />
<rect x="484.00" y="438.00" width="1.00" height="5.00" fill="#fff" />
<rect x="487.00" y="438.00" width="1.00" height="5.00" fill="#fff" />
<rect x="490.00" y="438.00" width="1.00" height="5.00" fill="#fff" />
<rect x="493.00" y="438.00" width="1.00" height="5.00" fill="#fff" />
<rect x="495.00" y="438.00" width="1.00" height="5.00" fill="#fff" />
<rect x="498.00" y="438.00" width="1.00" height="5.00" fill="#fff" />
<rect x="501.00" y="438.00" width="1.00" height="5.00" fill="#fff" />
<rect x="504.00" y="438.00" width="1.00" height="5.00" fill="#fff" />
<rect x="506.00" y="438.00" width="1.00" height="5.00" fill="#fff" />
<rect x="509.00" y="438.00" width="1.00" height="5.00" fill="#fff" />
<rect x="512.00" y="438.00" width="1.00" height="5.00" fill="#fff" />
<rect x="515.00" y="438.00" width="1.00" height="5.00" fill="#fff" />
<rect x="518.00" y="438.00" width="1.00" height="5.00" fill="#fff" />
<rect x="520.00" y="438.00" width="1.00" height="5.00" fill="#fff" />
<rect x="523.00" y="438.00" width="1.00" height="5.00" fill="#fff" />
<rect x="526.00" y="438.00" width="1.00" height="5.00" fill="#fff" />
<rect x="529.00" y="438.00" width="1.00" height="5.00" fill="#fff" />
<rect x="532.00" y="438.00" width="1.00" height="5.00" fill="#fff" />
<rect x="534.00" y="438.00" width="1.00" height="5.00" fill="#fff" />
<rect x="537.00" y="438.00" width="1.00" height="5.00" fill="#fff" />
<rect x="540.00" y="438.00" width="1.00" height="5.00" fill="#fff" />
<rect x="543.00" y="438.00" width="1.00" height="5.00" fill="#fff" />
<rect x="545.00" y="438.00" width="1.00" height="5.00" fill="#fff" />
<rect x="548.00" y="438.00" width="1.00" height="5.00" fill="#fff" />
<rect x="551.00" y="438.00" width="1.00" height="5.00" fill="#fff" />
<rect x="554.00" y="438.00" width="1.00" height="5.00" fill="#fff" />
<rect x="557.00" y="438.00" width="1.00" height="5.00" fill="#fff" />
<rect x="559.00" y="438.00" width="1.00" height="5.00" fill="#fff" />
<rect x="562.00" y="438.00" width="1.00" height="5.00" fill="#fff" />
<rect x="565.00" y="438.00" width="1.00" height="5.00" fill="#fff" />
<rect x="568.00" y="438.00" width="1.00" height="5.00" fill="#fff" />
<rect x="570.00" y="438.00" width="1.00" height="5.00" fill="#fff" />
<rect x="573.00" y="438.00" width="1.00" height="5.00" fill="#fff" />
<rect x="576.00" y="438.00" width="1.00" height="5.00" fill="#fff" />
<rect x="579.00" y="438.00" width="1.00" height="5.00" fill="#fff" />
<rect x="582.00" y="438.00" width="1.00" height="5.00" fill="#fff" />
<rect x="584.00" y="438.00" width="1.00" height="5.00" fill="#fff" />
<rect x="587.00" y="438.00" width="1.00" height="5.00" fill="#fff" />
<rect x="590.00" y="438.00" width="1.00" height="5.00" fill="#fff" />
<rect x="593.00" y="438.00" width="1.00" height="5.00" fill="#fff" />
<rect x="598.00" y="438.00" width="1.00" height="5.00" fill="#fff" />
<rect x="601.00" y="438.00" width="1.00" height="5.00" fill="#fff" />
<rect x="604.00" y="438.00" width="1.00" height="5.00" fill="#fff" />
<rect x="607.00" y="438.00" width="1.00" height="5.00" fill="#fff" />
<rect x="364.00" y="436.00" width="4.00" height="14.00" fill="#000" />
<rect x="622.00" y="436.00" width="4.00" height="14.00" fill="#000" />
<rect x="357.00" y="438.00" width="7.00" height="1.00" fill="#000" />
<rect x="626.00" y="438.00" width="7.00" height="1.00" fill="#000" />
<rect x="357.00" y="443.00" width="7.00" height="1.00" fill="#000" />
<rect x="626.00" y="443.00" width="7.00" height="1.00" fill="#000" />
<rect x="368.00" y="437.00" width="10.00" height="1.00" fill="#000" />
<rect x="612.00" y="437.00" width="10.00" height="1.00" fill="#000" />
<rect x="377.00" y="437.00" width="1.00" height="8.00" fill="#000" />
<rect x="612.00" y="437.00" width="1.00" height="8.00" fill="#000" />
<rect x="374.00" y="444.00" width="4.00" height="1.00" fill="#000" />
<rect x="612.00" y="444.00" width="4.00" height="1.00" fill="#000" />
<rect x="374.00" y="444.00" width="1.00" height="5.00" fill="#000" />
<rect x="615.00" y="444.00" width="1.00" height="5.00" fill="#000" />
<rect x="370.00" y="443.00" width="4.00" height="1.00" fill="#000" />
<rect x="616.00" y="443.00" width="4.00" height="1.00" fill="#000" />
<rect x="368.00" y="444.00" width="3.00" height="1.00" fill="#000" />
<rect x="619.00" y="444.00" width="3.00" height="1.00" fill="#000" />
<rect x="368.00" y="446.00" width="5.00" height="1.00" fill="#000" />
<rect x="617.00" y="446.00" width="5.00" height="1.00" fill="#000" />
<rect x="372.00" y="446.00" width="1.00" height="3.00" fill="#000" />
<rect x="617.00" y="446.00" width="1.00" height="3.00" fill="#000" />
<rect x="356.00" y="454.00" width="277.00" height="16.00" fill="#000" />
<rect x="357.00" y="455.00" width="275.00" height="14.00" fill="#fff" />
<rect x="379.00" y="457.00" width="231.00" height="11.00" fill="#000" />
<rect x="381.00" y="458.00" width="1.00" height="5.00" fill="#fff" />
<rect x="384.00" y="458.00" width="1.00" height="5.00" fill="#fff" />
<rect x="387.00" y="458.00" width="1.00" height="5.00" fill="#fff" />
<rect x="390.00" y="458.00" width="1.00" height="5.00" fill="#fff" />
<rect x="395.00" y="458.00" width="1.00" height="5.00" fill="#fff" />
<rect x="398.00" y="458.00" width="1.00" height="5.00" fill="#fff" />
<rect x="401.00" y="458.00" width="1.00" height="5.00" fill="#fff" />
<rect x="404.00" y="458.00" width="1.00" height="5.00" fill="#fff" />
<rect x="406.00" y="458.00" width="1.00" height="5.00" fill="#fff" />
<rect x="409.00" y="458.00" width="1.00" height="5.00" fill="#fff" />
<rect x="412.00" y="458.00" width="1.00" height="5.00" fill="#fff" />
<rect x="415.00" y="458.00" width="1.00" height="5.00" fill="#fff" />
<rect x="420.00" y="458.00" width="1.00" height="5.00" fill="#fff" />
<rect x="423.00" y="458.00" width="1.00" height="5.00" fill="#fff" />
<rect x="426.00" y="458.00" width="1.00" height="5.00" fill="#fff" />
<rect x="429.00" y="458.00" width="1.00" height="5.00" fill="#fff" />
<rect x="431.00" y="458.00" width="1.00" height="5.00" fill="#fff" />
<rect x="434.00" y="458.00" width="1.00" height="5.00" fill="#fff" />
<rect x="437.00" y="458.00" width="1.00" height="5.00" fill="#fff" />
<rect x="440.00" y="458.00" width="1.00" height="5.00" fill="#fff" />
<rect x="443.00" y="458.00" width="1.00" height="5.00" fill="#fff" />
<rect x="445.00" y="458.00" width="1.00" height="5.00" fill="#fff" />
<rect x="448.00" y="458.00" width="1.00" height="5.00" fill="#fff" />
<rect x="451.00" y="458.00" width="1.00" height="5.00" fill="#fff" />
<rect x="454.00" y="458.00" width="1.00" height="5.00" fill="#fff" />
<rect x="456.00" y="458.00" width="1.00" height="5.00" fill="#fff" />
<rect x="459.00" y="458.00" width="1.00" height="5.00" fill="#fff" />
<rect x="462.00" y="458.00" width="1.00" height="5.00" fill="#fff" />
<rect x="465.00" y="458.00" width="1.00" height="5.00" fill="#fff" />
<rect x="468.00" y="458.00" width="1.00" height="5.00" fill="#fff" />
<rect x="470.00" y="458.00" width="1.00" height="5.00" fill="#fff" />
<rect x="473.00" y="458.00" width="1.00" height="5.00" fill="#fff" />
<rect x="476.00" y="458.00" width="1.00" height="5.00" fill="#fff" />
<rect x="479.00" y="458.00" width="1.00" height="5.00" fill="#fff" />
<rect x="481.00" y="458.00" width="1.00" height="5.00" fill="#fff" />
<rect x="484.00" y="458.00" width="1.00" height="5.00" fill="#fff" />
<rect x="487.00" y="458.00" width="1.00" height="5.00" fill="#fff" />
<rect x="490.00" y="458.00" width="1.00" height="5.00" fill="#fff" />
<rect x="493.00" y="458.00" width="1.00" height="5.00" fill="#fff" />
<rect x="495.00" y="458.00" width="1.00" height="5.00" fill="#fff" />
<rect x="498.00" y="458.00" width="1.00" height="5.00" fill="#fff" />
<rect x="501.00" y="458.00" width="1.00" height="5.00" fill="#fff" />
<rect x="504.00" y="458.00" width="1.00" height="5.00" fill="#fff" />
<rect x="506.00" y="458.00" width="1.00" height="5.00" fill="#fff" />
<rect x="509.00" y="458.00" width="1.00" height="5.00" fill="#fff" />
<rect x="512.00" y="458.00" width="1.00" height="5.00" fill="#fff" />
<rect x="515.00" y="458.00" width="1.00" height="5.00" fill="#fff" />
<rect x="518.00" y="458.00" width="1.00" height="5.00" fill="#fff" />
<rect x="520.00" y="458.00" width="1.00" height="5.00" fill="#fff" />
<rect x="523.00" y="458.00" width="1.00" height="5.00" fill="#fff" />
<rect x="526.00" y="458.00" width="1.00" height="5.00" fill="#fff" />
<rect x="529.00" y="458.00" width="1.00" height="5.00" fill="#fff" />
<rect x="532.00" y="458.00" width="1.00" height="5.00" fill="#fff" />
<rect x="534.00" y="458.00" width="1.00" height="5.00" fill="#fff" />
<rect x="537.00" y="458.00" width="1.00" height="5.00" fill="#fff" />
<rect x="540.00" y="458.00" width="1.00" height="5.00" fill="#fff" />
<rect x="543.00" y="458.00" width="1.00" height="5.00" fill="#fff" />
<rect x="545.00" y="458.00" width="1.00" height="5.00" fill="#fff" />
<rect x="548.00" y="458.00" width="1.00" height="5.00" fill="#fff" />
<rect x="551.00" y="458.00" width="1.00" height="5.00" fill="#fff" />
<rect x="554.00" y="458.00" width="1.00" height="5.00" fill="#fff" />
<rect x="557.00" y="458.00" width="1.00" height="5.00" fill="#fff" />
<rect x="559.00" y="458.00" width="1.00" height="5.00" fill="#fff" />
<rect x="562.00" y="458.00" width="1.00" height="5.00" fill="#fff" />
<rect x="565.00" y="458.00" width="1.00" height="5.00" fill="#fff" />
<rect x="568.00" y="458.00" width="1.00" height="5.00" fill="#fff" />
<rect x="570.00" y="458.00" width="1.00" height="5.00" fill="#fff" />
<rect x="573.00" y="458.00" width="1.00" height="5.00" fill="#fff" />
<rect x="576.00" y="458.00" width="1.00" height="5.00" fill="#fff" />
<rect x="579.00" y="458.00" width="1.00" height="5.00" fill="#fff" />
<rect x="582.00" y="458.00" width="1.00" height="5.00" fill="#fff" />
<rect x="584.00" y="458.00" width="1.00" height="5.00" fill="#fff" />
<rect x="587.00" y="458.00" width="1.00" height="5.00" fill="#fff" />
<rect x="590.00" y="458.00" width="1.00" height="5.00" fill="#fff" />
<rect x="593.00" y="458.00" width="1.00" height="5.00" fill="#fff" />
<rect x="598.00" y="458.00" width="1.00" height="5.00" fill="#fff" />
<rect x="601.00" y="458.00" width="1.00" height="5.00" fill="#fff" />
<rect x="604.00" y="458.00" width="1.00" height="5.00" fill="#fff" />
<rect x="607.00" y="458.00" width="1.00" height="5.00" fill="#fff" />
<rect x="364.00" y="456.00" width="4.00" height="14.00" fill="#000" />
<rect x="622.00" y="456.00" width="4.00" height="14.00" fill="#000" />
<rect x="357.00" y="458.00" width="7.00" height="1.00" fill="#000" />
<rect x="626.00" y="458.00" width="7.00" height="1.00" fill="#000" />
<rect x="357.00" y="463.00" width="7.00" height="1.00" fill="#000" />
<rect x="626.00" y="463.00" width="7.00" height="1.00" fill="#000" />
<rect x="368.00" y="457.00" width="10.00" height="1.00" fill="#000" />
<rect x="612.00" y="457.00" width="10.00" height="1.00" fill="#000" />
<rect x="377.00" y="457.00" width="1.00" height="8.00" fill="#000" />
<rect x="612.00" y="457.00" width="1.00" height="8.00" fill="#000" />
<rect x="374.00" y="464.00" width="4.00" height="1.00" fill="#000" />
<rect x="612.00" y="464.00" width="4.00" height="1.00" fill="#000" />
<rect x="374.00" y="464.00" width="1.00" height="5.00" fill="#000" />
<rect x="615.00" y="464.00" width="1.00" height="5.00" fill="#000" />
<rect x="370.00" y="463.00" width="4.00" height="1.00" fill="#000" />
<rect x="616.00" y="463.00" width="4.00" height="1.00" fill="#000" />
<rect x="368.00" y="464.00" width="3.00" height="1.00" fill="#000" />
<rect x="619.00" y="464.00" width="3.00" height="1.00" fill="#000" />
<rect x="368.00" y="466.00" width="5.00" height="1.00" fill="#000" />
<rect x="617.00" y="466.00" width="5.00" height="1.00" fill="#000" />
<rect x="372.00" y="466.00" width="1.00" height="3.00" fill="#000" />
<rect x="617.00" y="466.00" width="1.00" height="3.00" fill="#000" />
<rect x="356.00" y="474.00" width="277.00" height="16.00" fill="#000" />
<rect x="357.00" y="475.00" width="275.00" height="14.00" fill="#fff" />
<rect x="379.00" y="477.00" width="231.00" height="11.00" fill="#000" />
<rect x="381.00" y="478.00" width="1.00" height="5.00" fill="#fff" />
<rect x="384.00" y="478.00" width="1.00" height="5.00" fill="#fff" />
<rect x="387.00" y="478.00" width="1.00" height="5.00" fill="#fff" />
<rect x="390.00" y="478.00" width="1.00" height="5.00" fill="#fff" />
<rect x="395.00" y="478.00" width="1.00" height="5.00" fill="#fff" />
<rect x="398.00" y="478.00" width="1.00" height="5.00" fill="#fff" />
<rect x="401.00" y="478.00" width="1.00" height="5.00" fill="#fff" />
<rect x="404.00" y="478.00" width="1.00" height="5.00" fill="#fff" />
<rect x="406.00" y="478.00" width="1.00" height="5.00" fill="#fff" />
<rect x="409.00" y="478.00" width="1.00" height="5.00" fill="#fff" />
<rect x="412.00" y="478.00" width="1.00" height="5.00" fill="#fff" />
<rect x="415.00" y="478.00" width="1.00" height="5.00" fill="#fff" />
<rect x="420.00" y="478.00" width="1.00" height="5.00" fill="#fff" />
<rect x="423.00" y="478.00" width="1.00" height="5.00" fill="#fff" />
<rect x="426.00" y="478.00" width="1.00" height="5.00" fill="#fff" />
<rect x="429.00" y="478.00" width="1.00" height="5.00" fill="#fff" />
<rect x="431.00" y="478.00" width="1.00" height="5.00" fill="#fff" />
<rect x="434.00" y="478.00" width="1.00" height="5.00" fill="#fff" />
<rect x="437.00" y="478.00" width="1.00" height="5.00" fill="#fff" />
<rect x="440.00" y="478.00" width="1.00" height="5.00" fill="#fff" />
<rect x="443.00" y="478.00" width="1.00" height="5.00" fill="#fff" />
<rect x="445.00" y="478.00" width="1.00" height="5.00" fill="#fff" />
<rect x="448.00" y="478.00" width="1.00" height="5.00" fill="#fff" />
<rect x="451.00" y="478.00" width="1.00" height="5.00" fill="#fff" />
<rect x="454.00" y="478.00" width="1.00" height="5.00" fill="#fff" />
<rect x="456.00" y="478.00" width="1.00" height="5.00" fill="#fff" />
<rect x="459.00" y="478.00" width="1.00" height="5.00" fill="#fff" />
<rect x="462.00" y="478.00" width="1.00" height="5.00" fill="#fff" />
<rect x="465.00" y="478.00" width="1.00" height="5.00" fill="#fff" />
<rect x="468.00" y="478.00" width="1.00" height="5.00" fill="#fff" />
<rect x="470.00" y="478.00" width="1.00" height="5.00" fill="#fff" />
<rect x="473.00" y="478.00" width="1.00" height="5.00" fill="#fff" />
<rect x="476.00" y="478.00" width="1.00" height="5.00" fill="#fff" />
<rect x="479.00" y="478.00" width="1.00" height="5.00" fill="#fff" />
<rect x="481.00" y="478.00" width="1.00" height="5.00" fill="#fff" />
<rect x="484.00" y="478.00" width="1.00" height="5.00" fill="#fff" />
<rect x="487.00" y="478.00" width="1.00" height="5.00" fill="#fff" />
<rect x="490.00" y="478.00" width="1.00" height="5.00" fill="#fff" />
<rect x="493.00" y="478.00" width="1.00" height="5.00" fill="#fff" />
<rect x="495.00" y="478.00" width="1.00" height="5.00" fill="#fff" />
<rect x="498.00" y="478.00" width="1.00" height="5.00" fill="#fff" />
<rect x="501.00" y="478.00" width="1.00" height="5.00" fill="#fff" />
<rect x="504.00" y="478.00" width="1.00" height="5.00" fill="#fff" />
<rect x="506.00" y="478.00" width="1.00" height="5.00" fill="#fff" />
<rect x="509.00" y="478.00" width="1.00" height="5.00" fill="#fff" />
<rect x="512.00" y="478.00" width="1.00" height="5.00" fill="#fff" />
<rect x="515.00" y="478.00" width="1.00" height="5.00" fill="#fff" />
<rect x="518.00" y="478.00" width="1.00" height="5.00" fill="#fff" />
<rect x="520.00" y="478.00" width="1.00" height="5.00" fill="#fff" />
<rect x="523.00" y="478.00" width="1.00" height="5.00" fill="#fff" />
<rect x="526.00" y="478.00" width="1.00" height="5.00" fill="#fff" />
<rect x="529.00" y="478.00" width="1.00" height="5.00" fill="#fff" />
<rect x="532.00" y="478.00" width="1.00" height="5.00" fill="#fff" />
<rect x="534.00" y="478.00" width="1.00" height="5.00" fill="#fff" />
<rect x="537.00" y="478.00" width="1.00" height="5.00" fill="#fff" />
<rect x="540.00" y="478.00" width="1.00" height="5.00" fill="#fff" />
<rect x="543.00" y="478.00" width="1.00" height="5.00" fill="#fff" />
<rect x="545.00" y="478.00" width="1.00" height="5.00" fill="#fff" />
<rect x="548.00" y="478.00" width="1.00" height="5.00" fill="#fff" />
<rect x="551.00" y="478.00" width="1.00" height="5.00" fill="#fff" />
<rect x="554.00" y="478.00" width="1.00" height="5.00" fill="#fff" />
<rect x="557.00" y="478.00" width="1.00" height="5.00" fill="#fff" />
<rect x="559.00" y="478.00" width="1.00" height="5.00" fill="#fff" />
<rect x="562.00" y="478.00" width="1.00" height="5.00" fill="#fff" />
<rect x="565.00" y="478.00" width="1.00" height="5.00" fill="#fff" />
<rect x="568.00" y="478.00" width="1.00" height="5.00" fill="#fff" />
<rect x="570.00" y="478.00" width="1.00" height="5.00" fill="#fff" />
<rect x="573.00" y="478.00" width="1.00" height="5.00" fill="#fff" />
<rect x="576.00" y="478.00" width="1.00" height="5.00" fill="#fff" />
<rect x="579.00" y="478.00" width="1.00" height="5.00" fill="#fff" />
<rect x="582.00" y="478.00" width="1.00" height="5.00" fill="#fff" />
<rect x="584.00" y="478.00" width="1.00" height="5.00" fill="#fff" />
<rect x="587.00" y="478.00" width="1.00" height="5.00" fill="#fff" />
<rect x="590.00" y="478.00" width="1.00" height="5.00" fill="#fff" />
<rect x="593.00" y="478.00" width="1.00" height="5.00" fill="#fff" />
<rect x="598.00" y="478.00" width="1.00" height="5.00" fill="#fff" />
<rect x="601.00" y="478.00" width="1.00" height="5.00" fill="#fff" />
<rect x="604.00" y="478.00" width="1.00" height="5.00" fill="#fff" />
<rect x="607.00" y="478.00" width="1.00" height="5.00" fill="#fff" />
<rect x="364.00" y="476.00" width="4.00" height="14.00" fill="#000" />
<rect x="622.00" y="476.00" width="4.00" height="14.00" fill="#000" />
<rect x="357.00" y="478.00" width="7.00" height="1.00" fill="#000" />
<rect x="626.00" y="478.00" width="7.00" height="1.00" fill="#000" />
<rect x="357.00" y="483.00" width="7.00" height="1.00" fill="#000" />
<rect x="626.00" y="483.00" width="7.00" height="1.00" fill="#000" />
<rect x="368.00" y="477.00" width="10.00" height="1.00" fill="#000" />
<rect x="612.00" y="477.00" width="10.00" height="1.00" fill="#000" />
<rect x="377.00" y="477.00" width="1.00" height="8.00" fill="#000" />
<rect x="612.00" y="477.00" width="1.00" height="8.00" fill="#000" />
<rect x="374.00" y="484.00" width="4.00" height="1.00" fill="#000" />
<rect x="612.00" y="484.00" width="4.00" height="1.00" fill="#000" />
<rect x="374.00" y="484.00" width="1.00" height="5.00" fill="#000" />
<rect x="615.00" y="484.00" width="1.00" height="5.00" fill="#000" />
<rect x="370.00" y="483.00" width="4.00" height="1.00" fill="#000" />
<rect x="616.00" y="483.00" width="4.00" height="1.00" fill="#000" />
<rect x="368.00" y="484.00" width="3.00" height="1.00" fill="#000" />
<rect x="619.00" y="484.00" width="3.00" height="1.00" fill="#000" />
<rect x="368.00" y="486.00" width="5.00" height="1.00" fill="#000" />
<rect x="617.00" y="486.00" width="5.00" height="1.00" fill="#000" />
<rect x="372.00" y="486.00" width="1.00" height="3.00" fill="#000" />
<rect x="617.00" y="486.00" width="1.00" height="3.00" fill="#000" />
<rect x="369.60" y="311.90" width="32.20" height="16.90" rx="3.0" ry="3.0" fill="#000"/>
<polygon points="383.50,315.84 387.00,296.20 390.25,315.85" fill="#fff" stroke="#000" stroke-width="1.80" stroke-linejoin="miter"/>
<rect x="371.60" y="314.40" width="27.70" height="12.80" rx="1.4" ry="1.4" fill="#fff"/>
<polygon points="384.57,314.94 386.97,301.51 389.19,314.94" fill="#fff"/>
<text transform="translate(375.79,324.80) scale(0.74,1)" font-size="13.9" fill="#000" stroke="#000" stroke-width="0.18" letter-spacing="2.15" >J21</text>
<rect x="486.90" y="330.00" width="15.50" height="72.60" rx="2.5" ry="2.5" fill="#000"/>
<rect x="488.10" y="331.20" width="13.10" height="70.20" rx="0.8999999999999999" ry="0.8999999999999999" fill="#fff"/>
<text transform="translate(494.60,0) scale(0.74,1)" font-size="12.3" fill="#000" stroke="#000" stroke-width="0.18" text-anchor="middle"><tspan x="0" y="340.46">B</tspan><tspan x="0" y="355.47">A</tspan><tspan x="0" y="370.48">N</tspan><tspan x="0" y="385.49">K</tspan><tspan x="0" y="400.50">1</tspan></text>
<rect x="486.90" y="414.60" width="15.50" height="73.20" rx="2.5" ry="2.5" fill="#000"/>
<rect x="488.10" y="415.80" width="13.10" height="70.80" rx="0.8999999999999999" ry="0.8999999999999999" fill="#fff"/>
<text transform="translate(494.60,0) scale(0.74,1)" font-size="12.3" fill="#000" stroke="#000" stroke-width="0.18" text-anchor="middle"><tspan x="0" y="426.06">B</tspan><tspan x="0" y="440.80">A</tspan><tspan x="0" y="455.53">N</tspan><tspan x="0" y="470.27">K</tspan><tspan x="0" y="485.00">0</tspan></text>
<rect x="651.00" y="326.00" width="31.00" height="13.00" fill="#000" />
<rect x="652.00" y="327.00" width="1.00" height="11.00" fill="#fff" />
<rect x="658.00" y="327.00" width="1.00" height="11.00" fill="#fff" />
<rect x="664.00" y="327.00" width="1.00" height="11.00" fill="#fff" />
<rect x="669.00" y="327.00" width="1.00" height="11.00" fill="#fff" />
<rect x="675.00" y="327.00" width="1.00" height="11.00" fill="#fff" />
<rect x="680.00" y="327.00" width="1.00" height="11.00" fill="#fff" />
<rect x="652.00" y="332.00" width="29.00" height="1.00" fill="#fff" />
<rect x="654.00" y="334.00" width="2.00" height="3.00" fill="#fff" />
<rect x="651.00" y="353.00" width="31.00" height="13.00" fill="#000" />
<rect x="652.00" y="354.00" width="1.00" height="11.00" fill="#fff" />
<rect x="658.00" y="354.00" width="1.00" height="11.00" fill="#fff" />
<rect x="664.00" y="354.00" width="1.00" height="11.00" fill="#fff" />
<rect x="669.00" y="354.00" width="1.00" height="11.00" fill="#fff" />
<rect x="675.00" y="354.00" width="1.00" height="11.00" fill="#fff" />
<rect x="680.00" y="354.00" width="1.00" height="11.00" fill="#fff" />
<rect x="652.00" y="359.00" width="29.00" height="1.00" fill="#fff" />
<rect x="654.00" y="361.00" width="2.00" height="3.00" fill="#fff" />
<rect x="696.00" y="353.00" width="78.00" height="13.00" fill="#000" />
<rect x="697.00" y="354.00" width="1.00" height="11.00" fill="#fff" />
<rect x="703.00" y="354.00" width="1.00" height="11.00" fill="#fff" />
<rect x="709.00" y="354.00" width="1.00" height="11.00" fill="#fff" />
<rect x="715.00" y="354.00" width="1.00" height="11.00" fill="#fff" />
<rect x="720.00" y="354.00" width="1.00" height="11.00" fill="#fff" />
<rect x="726.00" y="354.00" width="1.00" height="11.00" fill="#fff" />
<rect x="732.00" y="354.00" width="1.00" height="11.00" fill="#fff" />
<rect x="738.00" y="354.00" width="1.00" height="11.00" fill="#fff" />
<rect x="744.00" y="354.00" width="1.00" height="11.00" fill="#fff" />
<rect x="750.00" y="354.00" width="1.00" height="11.00" fill="#fff" />
<rect x="755.00" y="354.00" width="1.00" height="11.00" fill="#fff" />
<rect x="761.00" y="354.00" width="1.00" height="11.00" fill="#fff" />
<rect x="767.00" y="354.00" width="1.00" height="11.00" fill="#fff" />
<rect x="772.00" y="354.00" width="1.00" height="11.00" fill="#fff" />
<rect x="697.00" y="359.00" width="76.00" height="1.00" fill="#fff" />
<rect x="699.00" y="361.00" width="2.00" height="3.00" fill="#fff" />
<rect x="649.00" y="385.00" width="119.00" height="13.00" fill="#000" />
<rect x="650.00" y="386.00" width="1.00" height="11.00" fill="#fff" />
<rect x="656.00" y="386.00" width="1.00" height="11.00" fill="#fff" />
<rect x="662.00" y="386.00" width="1.00" height="11.00" fill="#fff" />
<rect x="668.00" y="386.00" width="1.00" height="11.00" fill="#fff" />
<rect x="673.00" y="386.00" width="1.00" height="11.00" fill="#fff" />
<rect x="679.00" y="386.00" width="1.00" height="11.00" fill="#fff" />
<rect x="685.00" y="386.00" width="1.00" height="11.00" fill="#fff" />
<rect x="691.00" y="386.00" width="1.00" height="11.00" fill="#fff" />
<rect x="697.00" y="386.00" width="1.00" height="11.00" fill="#fff" />
<rect x="703.00" y="386.00" width="1.00" height="11.00" fill="#fff" />
<rect x="708.00" y="386.00" width="1.00" height="11.00" fill="#fff" />
<rect x="714.00" y="386.00" width="1.00" height="11.00" fill="#fff" />
<rect x="720.00" y="386.00" width="1.00" height="11.00" fill="#fff" />
<rect x="726.00" y="386.00" width="1.00" height="11.00" fill="#fff" />
<rect x="732.00" y="386.00" width="1.00" height="11.00" fill="#fff" />
<rect x="738.00" y="386.00" width="1.00" height="11.00" fill="#fff" />
<rect x="744.00" y="386.00" width="1.00" height="11.00" fill="#fff" />
<rect x="749.00" y="386.00" width="1.00" height="11.00" fill="#fff" />
<rect x="755.00" y="386.00" width="1.00" height="11.00" fill="#fff" />
<rect x="761.00" y="386.00" width="1.00" height="11.00" fill="#fff" />
<rect x="766.00" y="386.00" width="1.00" height="11.00" fill="#fff" />
<rect x="650.00" y="391.00" width="117.00" height="1.00" fill="#fff" />
<rect x="650.00" y="386.00" width="117.00" height="1.00" fill="#fff" />
<rect x="652.00" y="393.00" width="2.00" height="3.00" fill="#fff" />
<rect x="649.00" y="416.00" width="101.00" height="12.00" fill="#000" />
<rect x="650.00" y="417.00" width="1.00" height="10.00" fill="#fff" />
<rect x="656.00" y="417.00" width="1.00" height="10.00" fill="#fff" />
<rect x="662.00" y="417.00" width="1.00" height="10.00" fill="#fff" />
<rect x="667.00" y="417.00" width="1.00" height="10.00" fill="#fff" />
<rect x="673.00" y="417.00" width="1.00" height="10.00" fill="#fff" />
<rect x="679.00" y="417.00" width="1.00" height="10.00" fill="#fff" />
<rect x="685.00" y="417.00" width="1.00" height="10.00" fill="#fff" />
<rect x="691.00" y="417.00" width="1.00" height="10.00" fill="#fff" />
<rect x="697.00" y="417.00" width="1.00" height="10.00" fill="#fff" />
<rect x="702.00" y="417.00" width="1.00" height="10.00" fill="#fff" />
<rect x="708.00" y="417.00" width="1.00" height="10.00" fill="#fff" />
<rect x="714.00" y="417.00" width="1.00" height="10.00" fill="#fff" />
<rect x="720.00" y="417.00" width="1.00" height="10.00" fill="#fff" />
<rect x="726.00" y="417.00" width="1.00" height="10.00" fill="#fff" />
<rect x="732.00" y="417.00" width="1.00" height="10.00" fill="#fff" />
<rect x="737.00" y="417.00" width="1.00" height="10.00" fill="#fff" />
<rect x="743.00" y="417.00" width="1.00" height="10.00" fill="#fff" />
<rect x="748.00" y="417.00" width="1.00" height="10.00" fill="#fff" />
<rect x="650.00" y="423.00" width="99.00" height="1.00" fill="#fff" />
<rect x="652.00" y="425.00" width="2.00" height="1.00" fill="#fff" />
<rect x="626.90" y="298.80" width="35.40" height="18.80" rx="3.0" ry="3.0" fill="#000"/>
<polygon points="654.13,315.45 667.70,324.10 660.55,309.40" fill="#fff" stroke="#000" stroke-width="1.80" stroke-linejoin="miter"/>
<rect x="629.40" y="300.80" width="30.90" height="14.80" rx="1.4" ry="1.4" fill="#fff"/>
<polygon points="655.59,315.31 665.50,321.63 660.28,310.90" fill="#fff"/>
<text transform="translate(630.18,311.90) scale(0.74,1)" font-size="13.9" fill="#000" stroke="#000" stroke-width="0.18" letter-spacing="3.29" >CN2</text>
<rect x="609.60" y="334.00" width="34.30" height="18.00" rx="2" ry="2" fill="#000"/>
<polygon points="634.79,349.60 649.40,358.80 641.94,343.35" fill="#fff" stroke="#000" stroke-width="1.80" stroke-linejoin="miter"/>
<rect x="610.60" y="337.00" width="30.30" height="13.40" rx="0.6" ry="0.6" fill="#fff"/>
<polygon points="636.29,349.48 647.23,356.37 641.65,344.80" fill="#fff"/>
<text transform="translate(612.33,347.90) scale(0.74,1)" font-size="13.9" fill="#000" stroke="#000" stroke-width="0.18" letter-spacing="3.31" >CN3</text>
<rect x="742.90" y="325.90" width="34.30" height="19.00" rx="3.0" ry="3.0" fill="#000"/>
<polygon points="744.90,336.54 736.20,351.60 751.05,342.87" fill="#fff" stroke="#000" stroke-width="1.80" stroke-linejoin="miter"/>
<rect x="744.90" y="327.90" width="30.30" height="14.50" rx="1.4" ry="1.4" fill="#fff"/>
<polygon points="745.08,338.02 738.69,349.09 749.60,342.68" fill="#fff"/>
<text transform="translate(746.33,338.80) scale(0.74,1)" font-size="13.9" fill="#000" stroke="#000" stroke-width="0.18" letter-spacing="3.07" >CN4</text>
<rect x="608.20" y="367.30" width="34.00" height="16.90" rx="2" ry="2" fill="#000"/>
<polygon points="633.24,382.03 648.50,391.90 640.40,375.83" fill="#fff" stroke="#000" stroke-width="1.80" stroke-linejoin="miter"/>
<rect x="609.70" y="369.30" width="30.00" height="13.40" rx="0.6" ry="0.6" fill="#fff"/>
<polygon points="634.74,381.92 646.20,389.34 640.12,377.26" fill="#fff"/>
<text transform="translate(611.18,380.20) scale(0.74,1)" font-size="13.9" fill="#000" stroke="#000" stroke-width="0.18" letter-spacing="3.50" >CN5</text>
<rect x="609.60" y="398.50" width="33.60" height="16.60" rx="2" ry="2" fill="#000"/>
<polygon points="634.63,412.94 649.40,422.40 641.36,406.85" fill="#fff" stroke="#000" stroke-width="1.80" stroke-linejoin="miter"/>
<rect x="611.10" y="400.50" width="29.60" height="13.10" rx="0.6" ry="0.6" fill="#fff"/>
<polygon points="636.11,412.82 647.06,419.83 641.10,408.30" fill="#fff"/>
<text transform="translate(612.03,411.80) scale(0.74,1)" font-size="13.9" fill="#000" stroke="#000" stroke-width="0.18" letter-spacing="3.58" >CN6</text>
<rect x="643.00" y="443.00" width="112.00" height="25.00" fill="#000" />
<rect x="644.00" y="444.00" width="110.00" height="23.00" fill="#fff" />
<rect x="647.00" y="446.00" width="3.00" height="1.00" fill="#000" />
<rect x="645.00" y="447.00" width="7.00" height="2.00" fill="#000" />
<rect x="647.00" y="449.00" width="3.00" height="2.00" fill="#000" />
<rect x="645.00" y="453.00" width="7.00" height="3.00" fill="#000" />
<rect x="646.00" y="454.00" width="1.00" height="1.00" fill="#fff" />
<rect x="648.00" y="454.00" width="1.00" height="1.00" fill="#fff" />
<rect x="650.00" y="454.00" width="1.00" height="1.00" fill="#fff" />
<rect x="648.00" y="457.00" width="7.00" height="7.00" fill="#000" />
<rect x="649.00" y="458.00" width="5.00" height="5.00" fill="#fff" />
<rect x="657.00" y="446.00" width="3.00" height="1.00" fill="#000" />
<rect x="655.00" y="447.00" width="7.00" height="2.00" fill="#000" />
<rect x="657.00" y="449.00" width="3.00" height="2.00" fill="#000" />
<rect x="655.00" y="453.00" width="7.00" height="3.00" fill="#000" />
<rect x="656.00" y="454.00" width="1.00" height="1.00" fill="#fff" />
<rect x="658.00" y="454.00" width="1.00" height="1.00" fill="#fff" />
<rect x="660.00" y="454.00" width="1.00" height="1.00" fill="#fff" />
<rect x="657.00" y="457.00" width="7.00" height="7.00" fill="#000" />
<rect x="658.00" y="458.00" width="5.00" height="5.00" fill="#fff" />
<rect x="666.00" y="446.00" width="3.00" height="1.00" fill="#000" />
<rect x="664.00" y="447.00" width="7.00" height="2.00" fill="#000" />
<rect x="666.00" y="449.00" width="3.00" height="2.00" fill="#000" />
<rect x="664.00" y="453.00" width="7.00" height="3.00" fill="#000" />
<rect x="665.00" y="454.00" width="1.00" height="1.00" fill="#fff" />
<rect x="667.00" y="454.00" width="1.00" height="1.00" fill="#fff" />
<rect x="669.00" y="454.00" width="1.00" height="1.00" fill="#fff" />
<rect x="665.00" y="457.00" width="7.00" height="7.00" fill="#000" />
<rect x="666.00" y="458.00" width="5.00" height="5.00" fill="#fff" />
<rect x="675.00" y="446.00" width="3.00" height="1.00" fill="#000" />
<rect x="673.00" y="447.00" width="7.00" height="2.00" fill="#000" />
<rect x="675.00" y="449.00" width="3.00" height="2.00" fill="#000" />
<rect x="673.00" y="453.00" width="7.00" height="3.00" fill="#000" />
<rect x="674.00" y="454.00" width="1.00" height="1.00" fill="#fff" />
<rect x="676.00" y="454.00" width="1.00" height="1.00" fill="#fff" />
<rect x="678.00" y="454.00" width="1.00" height="1.00" fill="#fff" />
<rect x="674.00" y="457.00" width="7.00" height="7.00" fill="#000" />
<rect x="675.00" y="458.00" width="5.00" height="5.00" fill="#fff" />
<rect x="684.00" y="446.00" width="3.00" height="1.00" fill="#000" />
<rect x="682.00" y="447.00" width="7.00" height="2.00" fill="#000" />
<rect x="684.00" y="449.00" width="3.00" height="2.00" fill="#000" />
<rect x="682.00" y="453.00" width="7.00" height="3.00" fill="#000" />
<rect x="683.00" y="454.00" width="1.00" height="1.00" fill="#fff" />
<rect x="685.00" y="454.00" width="1.00" height="1.00" fill="#fff" />
<rect x="687.00" y="454.00" width="1.00" height="1.00" fill="#fff" />
<rect x="683.00" y="457.00" width="7.00" height="7.00" fill="#000" />
<rect x="684.00" y="458.00" width="5.00" height="5.00" fill="#fff" />
<rect x="693.00" y="446.00" width="3.00" height="1.00" fill="#000" />
<rect x="691.00" y="447.00" width="7.00" height="2.00" fill="#000" />
<rect x="693.00" y="449.00" width="3.00" height="2.00" fill="#000" />
<rect x="691.00" y="453.00" width="7.00" height="3.00" fill="#000" />
<rect x="692.00" y="454.00" width="1.00" height="1.00" fill="#fff" />
<rect x="694.00" y="454.00" width="1.00" height="1.00" fill="#fff" />
<rect x="696.00" y="454.00" width="1.00" height="1.00" fill="#fff" />
<rect x="691.00" y="457.00" width="7.00" height="7.00" fill="#000" />
<rect x="692.00" y="458.00" width="5.00" height="5.00" fill="#fff" />
<rect x="703.00" y="446.00" width="3.00" height="1.00" fill="#000" />
<rect x="701.00" y="447.00" width="7.00" height="2.00" fill="#000" />
<rect x="703.00" y="449.00" width="3.00" height="2.00" fill="#000" />
<rect x="701.00" y="453.00" width="7.00" height="3.00" fill="#000" />
<rect x="702.00" y="454.00" width="1.00" height="1.00" fill="#fff" />
<rect x="704.00" y="454.00" width="1.00" height="1.00" fill="#fff" />
<rect x="706.00" y="454.00" width="1.00" height="1.00" fill="#fff" />
<rect x="700.00" y="457.00" width="7.00" height="7.00" fill="#000" />
<rect x="701.00" y="458.00" width="5.00" height="5.00" fill="#fff" />
<rect x="712.00" y="446.00" width="3.00" height="1.00" fill="#000" />
<rect x="710.00" y="447.00" width="7.00" height="2.00" fill="#000" />
<rect x="712.00" y="449.00" width="3.00" height="2.00" fill="#000" />
<rect x="710.00" y="453.00" width="7.00" height="3.00" fill="#000" />
<rect x="711.00" y="454.00" width="1.00" height="1.00" fill="#fff" />
<rect x="713.00" y="454.00" width="1.00" height="1.00" fill="#fff" />
<rect x="715.00" y="454.00" width="1.00" height="1.00" fill="#fff" />
<rect x="708.00" y="457.00" width="7.00" height="7.00" fill="#000" />
<rect x="709.00" y="458.00" width="5.00" height="5.00" fill="#fff" />
<rect x="721.00" y="446.00" width="3.00" height="1.00" fill="#000" />
<rect x="719.00" y="447.00" width="7.00" height="2.00" fill="#000" />
<rect x="721.00" y="449.00" width="3.00" height="2.00" fill="#000" />
<rect x="719.00" y="453.00" width="7.00" height="3.00" fill="#000" />
<rect x="720.00" y="454.00" width="1.00" height="1.00" fill="#fff" />
<rect x="722.00" y="454.00" width="1.00" height="1.00" fill="#fff" />
<rect x="724.00" y="454.00" width="1.00" height="1.00" fill="#fff" />
<rect x="717.00" y="457.00" width="7.00" height="7.00" fill="#000" />
<rect x="718.00" y="458.00" width="5.00" height="5.00" fill="#fff" />
<rect x="730.00" y="446.00" width="3.00" height="1.00" fill="#000" />
<rect x="728.00" y="447.00" width="7.00" height="2.00" fill="#000" />
<rect x="730.00" y="449.00" width="3.00" height="2.00" fill="#000" />
<rect x="728.00" y="453.00" width="7.00" height="3.00" fill="#000" />
<rect x="729.00" y="454.00" width="1.00" height="1.00" fill="#fff" />
<rect x="731.00" y="454.00" width="1.00" height="1.00" fill="#fff" />
<rect x="733.00" y="454.00" width="1.00" height="1.00" fill="#fff" />
<rect x="725.00" y="457.00" width="7.00" height="7.00" fill="#000" />
<rect x="726.00" y="458.00" width="5.00" height="5.00" fill="#fff" />
<rect x="739.00" y="446.00" width="3.00" height="1.00" fill="#000" />
<rect x="737.00" y="447.00" width="7.00" height="2.00" fill="#000" />
<rect x="739.00" y="449.00" width="3.00" height="2.00" fill="#000" />
<rect x="737.00" y="453.00" width="7.00" height="3.00" fill="#000" />
<rect x="738.00" y="454.00" width="1.00" height="1.00" fill="#fff" />
<rect x="740.00" y="454.00" width="1.00" height="1.00" fill="#fff" />
<rect x="742.00" y="454.00" width="1.00" height="1.00" fill="#fff" />
<rect x="734.00" y="457.00" width="7.00" height="7.00" fill="#000" />
<rect x="735.00" y="458.00" width="5.00" height="5.00" fill="#fff" />
<rect x="748.00" y="446.00" width="3.00" height="1.00" fill="#000" />
<rect x="746.00" y="447.00" width="7.00" height="2.00" fill="#000" />
<rect x="748.00" y="449.00" width="3.00" height="2.00" fill="#000" />
<rect x="746.00" y="453.00" width="7.00" height="3.00" fill="#000" />
<rect x="747.00" y="454.00" width="1.00" height="1.00" fill="#fff" />
<rect x="749.00" y="454.00" width="1.00" height="1.00" fill="#fff" />
<rect x="751.00" y="454.00" width="1.00" height="1.00" fill="#fff" />
<rect x="742.00" y="457.00" width="7.00" height="7.00" fill="#000" />
<rect x="743.00" y="458.00" width="5.00" height="5.00" fill="#fff" />
<rect x="644.00" y="451.00" width="110.00" height="1.00" fill="#000" />
<rect x="644.00" y="458.00" width="2.00" height="1.00" fill="#000" />
<rect x="645.00" y="459.00" width="1.00" height="3.00" fill="#000" />
<rect x="644.00" y="461.00" width="2.00" height="1.00" fill="#000" />
<rect x="752.00" y="458.00" width="2.00" height="1.00" fill="#000" />
<rect x="752.00" y="459.00" width="1.00" height="3.00" fill="#000" />
<rect x="752.00" y="462.00" width="2.00" height="1.00" fill="#000" />
<rect x="768.00" y="436.90" width="23.80" height="37.90" fill="#000" />
<rect x="791.60" y="432.50" width="3.00" height="46.10" fill="#000" />
<rect x="794.40" y="430.60" width="3.10" height="50.40" fill="#000" />
<rect x="761.3" y="445.7" width="6.7" height="8.6" fill="#fff" stroke="#000" stroke-width="0.9"/>
<rect x="761.3" y="457.5" width="6.7" height="8.2" fill="#fff" stroke="#000" stroke-width="0.9"/>
<rect x="764.8" y="443.8" width="3.4" height="10.2" fill="#fff" stroke="#000" stroke-width="0.8"/>
<rect x="764.8" y="457.8" width="3.4" height="10.2" fill="#fff" stroke="#000" stroke-width="0.8"/>
</svg>
</body>
</html>
